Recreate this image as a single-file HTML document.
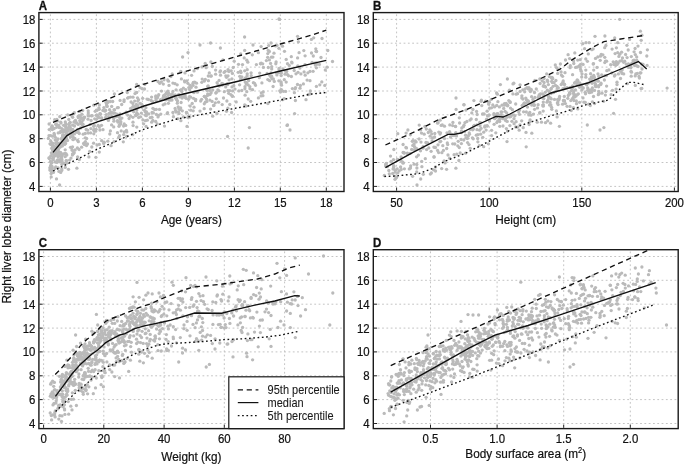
<!DOCTYPE html>
<html><head><meta charset="utf-8"><style>
html,body{margin:0;padding:0;background:#fff;}
body{width:685px;height:465px;overflow:hidden;font-family:"Liberation Sans",sans-serif;}
svg{display:block;will-change:transform;}
text{-webkit-font-smoothing:antialiased;}
</style></head><body>
<svg width="685" height="465" viewBox="0 0 685 465">
<rect width="685" height="465" fill="#fff"/>
<defs>
<clipPath id="cA"><rect x="38.9" y="12.6" width="305.1" height="178.9"/></clipPath>
<clipPath id="cB"><rect x="373.3" y="12.6" width="304.9" height="178.9"/></clipPath>
<clipPath id="cC"><rect x="38.9" y="249.7" width="305.1" height="178.9"/></clipPath>
<clipPath id="cD"><rect x="373.3" y="249.7" width="304.9" height="178.9"/></clipPath>
</defs>
<path d="M38.9 186.4 H344 M38.9 162.5 H344 M38.9 138.7 H344 M38.9 114.8 H344 M38.9 91 H344 M38.9 67.1 H344 M38.9 43.2 H344 M38.9 19.4 H344" stroke="#c4c4c4" stroke-width="1" stroke-dasharray="1.8 2.5" stroke-dashoffset="-0.2" fill="none"/>
<path d="M50.4 12.6 V191.5 M96.4 12.6 V191.5 M142.4 12.6 V191.5 M188.4 12.6 V191.5 M234.4 12.6 V191.5 M280.3 12.6 V191.5 M326.3 12.6 V191.5" stroke="#c4c4c4" stroke-width="1" stroke-dasharray="1.8 2.5" stroke-dashoffset="-1.75" fill="none"/>
<g fill="#bababa" clip-path="url(#cA)">
<circle cx="62" cy="159.9" r="1.65"/>
<circle cx="152" cy="117.3" r="1.65"/>
<circle cx="183.2" cy="94.8" r="1.65"/>
<circle cx="51.9" cy="126" r="1.65"/>
<circle cx="64" cy="131.3" r="1.65"/>
<circle cx="292" cy="62.9" r="1.65"/>
<circle cx="56.1" cy="124.2" r="1.65"/>
<circle cx="62.1" cy="156.1" r="1.65"/>
<circle cx="300.9" cy="73.9" r="1.65"/>
<circle cx="189.4" cy="96.6" r="1.65"/>
<circle cx="112.7" cy="101.5" r="1.65"/>
<circle cx="155.7" cy="121.5" r="1.65"/>
<circle cx="202" cy="66.9" r="1.65"/>
<circle cx="84.7" cy="117.1" r="1.65"/>
<circle cx="62.9" cy="135.2" r="1.65"/>
<circle cx="241.2" cy="79" r="1.65"/>
<circle cx="204.3" cy="96.3" r="1.65"/>
<circle cx="156" cy="100.3" r="1.65"/>
<circle cx="250.7" cy="101.3" r="1.65"/>
<circle cx="167.1" cy="92.2" r="1.65"/>
<circle cx="316.6" cy="64.4" r="1.65"/>
<circle cx="70.7" cy="129.4" r="1.65"/>
<circle cx="168.6" cy="93.2" r="1.65"/>
<circle cx="147.3" cy="120.2" r="1.65"/>
<circle cx="107.9" cy="102.4" r="1.65"/>
<circle cx="180.1" cy="109.6" r="1.65"/>
<circle cx="75.5" cy="120.5" r="1.65"/>
<circle cx="245.9" cy="106" r="1.65"/>
<circle cx="268.3" cy="67.5" r="1.65"/>
<circle cx="62" cy="154.2" r="1.65"/>
<circle cx="142.3" cy="105.8" r="1.65"/>
<circle cx="85.2" cy="137.8" r="1.65"/>
<circle cx="57.4" cy="162.1" r="1.65"/>
<circle cx="279" cy="69.9" r="1.65"/>
<circle cx="131.1" cy="102" r="1.65"/>
<circle cx="63.9" cy="163.2" r="1.65"/>
<circle cx="205.3" cy="102.2" r="1.65"/>
<circle cx="70.4" cy="137.1" r="1.65"/>
<circle cx="281.1" cy="82" r="1.65"/>
<circle cx="72.5" cy="146.8" r="1.65"/>
<circle cx="52.3" cy="136.2" r="1.65"/>
<circle cx="70.2" cy="122.3" r="1.65"/>
<circle cx="105.6" cy="110.2" r="1.65"/>
<circle cx="142.9" cy="119.9" r="1.65"/>
<circle cx="282.9" cy="68.8" r="1.65"/>
<circle cx="212.7" cy="90" r="1.65"/>
<circle cx="103.7" cy="143.4" r="1.65"/>
<circle cx="50.6" cy="135.6" r="1.65"/>
<circle cx="65.3" cy="136.4" r="1.65"/>
<circle cx="325.3" cy="70" r="1.65"/>
<circle cx="140.1" cy="87.7" r="1.65"/>
<circle cx="210.7" cy="76.2" r="1.65"/>
<circle cx="54.5" cy="134.9" r="1.65"/>
<circle cx="52.4" cy="129.6" r="1.65"/>
<circle cx="260.7" cy="63.8" r="1.65"/>
<circle cx="179" cy="113.5" r="1.65"/>
<circle cx="94.5" cy="129.4" r="1.65"/>
<circle cx="97.1" cy="110.3" r="1.65"/>
<circle cx="58" cy="156.8" r="1.65"/>
<circle cx="66.7" cy="135.3" r="1.65"/>
<circle cx="51.5" cy="144.7" r="1.65"/>
<circle cx="258.4" cy="52.7" r="1.65"/>
<circle cx="142.1" cy="88.7" r="1.65"/>
<circle cx="61.8" cy="128.6" r="1.65"/>
<circle cx="225.7" cy="86.9" r="1.65"/>
<circle cx="69.5" cy="123.2" r="1.65"/>
<circle cx="55.2" cy="140.1" r="1.65"/>
<circle cx="182.2" cy="96.5" r="1.65"/>
<circle cx="278.9" cy="48.3" r="1.65"/>
<circle cx="51.7" cy="142.9" r="1.65"/>
<circle cx="246.8" cy="91.7" r="1.65"/>
<circle cx="68.8" cy="119.4" r="1.65"/>
<circle cx="58.4" cy="149.4" r="1.65"/>
<circle cx="50.7" cy="141" r="1.65"/>
<circle cx="89.7" cy="151.5" r="1.65"/>
<circle cx="222" cy="85.2" r="1.65"/>
<circle cx="150.2" cy="117.7" r="1.65"/>
<circle cx="263.2" cy="92" r="1.65"/>
<circle cx="72.5" cy="134.8" r="1.65"/>
<circle cx="96.4" cy="119.3" r="1.65"/>
<circle cx="80.4" cy="115.9" r="1.65"/>
<circle cx="315.3" cy="65" r="1.65"/>
<circle cx="297.6" cy="57.9" r="1.65"/>
<circle cx="104.1" cy="142.2" r="1.65"/>
<circle cx="132.9" cy="107.2" r="1.65"/>
<circle cx="96.1" cy="129.3" r="1.65"/>
<circle cx="228" cy="75.8" r="1.65"/>
<circle cx="53" cy="148.8" r="1.65"/>
<circle cx="55.8" cy="166.8" r="1.65"/>
<circle cx="123.3" cy="141.8" r="1.65"/>
<circle cx="77.4" cy="148" r="1.65"/>
<circle cx="260.5" cy="63.6" r="1.65"/>
<circle cx="226.5" cy="77.3" r="1.65"/>
<circle cx="166.1" cy="93.5" r="1.65"/>
<circle cx="201.6" cy="99.3" r="1.65"/>
<circle cx="211.1" cy="92.7" r="1.65"/>
<circle cx="238.9" cy="90.9" r="1.65"/>
<circle cx="291.7" cy="62.1" r="1.65"/>
<circle cx="64.2" cy="141.7" r="1.65"/>
<circle cx="190.7" cy="110.2" r="1.65"/>
<circle cx="63.5" cy="154" r="1.65"/>
<circle cx="135.1" cy="107.2" r="1.65"/>
<circle cx="240.6" cy="79.4" r="1.65"/>
<circle cx="278.5" cy="72.7" r="1.65"/>
<circle cx="232" cy="86.9" r="1.65"/>
<circle cx="52.6" cy="150.1" r="1.65"/>
<circle cx="109.8" cy="134" r="1.65"/>
<circle cx="65.6" cy="143.4" r="1.65"/>
<circle cx="327.8" cy="50.5" r="1.65"/>
<circle cx="63.6" cy="132" r="1.65"/>
<circle cx="77.2" cy="132.3" r="1.65"/>
<circle cx="109.1" cy="113.3" r="1.65"/>
<circle cx="55.1" cy="148.8" r="1.65"/>
<circle cx="269.4" cy="59.9" r="1.65"/>
<circle cx="193.9" cy="92.5" r="1.65"/>
<circle cx="65.3" cy="167.4" r="1.65"/>
<circle cx="151.7" cy="122.2" r="1.65"/>
<circle cx="56.9" cy="124.8" r="1.65"/>
<circle cx="186.1" cy="98.3" r="1.65"/>
<circle cx="74.8" cy="121.2" r="1.65"/>
<circle cx="52.9" cy="149.7" r="1.65"/>
<circle cx="60.6" cy="131.9" r="1.65"/>
<circle cx="169" cy="100.1" r="1.65"/>
<circle cx="194" cy="107.2" r="1.65"/>
<circle cx="99.3" cy="144.4" r="1.65"/>
<circle cx="196" cy="87.2" r="1.65"/>
<circle cx="107.6" cy="101.4" r="1.65"/>
<circle cx="62.2" cy="142.3" r="1.65"/>
<circle cx="96.4" cy="110.2" r="1.65"/>
<circle cx="120.6" cy="122.7" r="1.65"/>
<circle cx="285.6" cy="91.4" r="1.65"/>
<circle cx="60.7" cy="122.1" r="1.65"/>
<circle cx="57.7" cy="120.9" r="1.65"/>
<circle cx="170.9" cy="76.6" r="1.65"/>
<circle cx="307.9" cy="72.8" r="1.65"/>
<circle cx="283.4" cy="91.3" r="1.65"/>
<circle cx="213.6" cy="105.5" r="1.65"/>
<circle cx="55.7" cy="152" r="1.65"/>
<circle cx="247.2" cy="69.7" r="1.65"/>
<circle cx="208.4" cy="80.7" r="1.65"/>
<circle cx="63.5" cy="163.1" r="1.65"/>
<circle cx="141.7" cy="104.2" r="1.65"/>
<circle cx="54" cy="150.9" r="1.65"/>
<circle cx="245.7" cy="78" r="1.65"/>
<circle cx="219.3" cy="86" r="1.65"/>
<circle cx="246.7" cy="82.6" r="1.65"/>
<circle cx="232.4" cy="73.4" r="1.65"/>
<circle cx="82.7" cy="125.9" r="1.65"/>
<circle cx="241.8" cy="76.8" r="1.65"/>
<circle cx="78.3" cy="141.7" r="1.65"/>
<circle cx="62.9" cy="135" r="1.65"/>
<circle cx="119.1" cy="116.8" r="1.65"/>
<circle cx="151.6" cy="97.1" r="1.65"/>
<circle cx="87.6" cy="130.2" r="1.65"/>
<circle cx="184.5" cy="81" r="1.65"/>
<circle cx="183.5" cy="96.4" r="1.65"/>
<circle cx="76.3" cy="131.8" r="1.65"/>
<circle cx="189.6" cy="89.6" r="1.65"/>
<circle cx="109.1" cy="118.3" r="1.65"/>
<circle cx="224.3" cy="91.7" r="1.65"/>
<circle cx="88.9" cy="156.9" r="1.65"/>
<circle cx="244.7" cy="50.4" r="1.65"/>
<circle cx="126.6" cy="136.3" r="1.65"/>
<circle cx="168.4" cy="103.3" r="1.65"/>
<circle cx="205.3" cy="79.4" r="1.65"/>
<circle cx="157.8" cy="96.6" r="1.65"/>
<circle cx="80.3" cy="122" r="1.65"/>
<circle cx="315.8" cy="48.8" r="1.65"/>
<circle cx="58.7" cy="125.4" r="1.65"/>
<circle cx="99.4" cy="117.7" r="1.65"/>
<circle cx="167.2" cy="113.5" r="1.65"/>
<circle cx="51.9" cy="148.1" r="1.65"/>
<circle cx="64.7" cy="144.4" r="1.65"/>
<circle cx="244.9" cy="88.8" r="1.65"/>
<circle cx="239.8" cy="76.3" r="1.65"/>
<circle cx="194" cy="70.9" r="1.65"/>
<circle cx="281.2" cy="83.7" r="1.65"/>
<circle cx="230.8" cy="94.6" r="1.65"/>
<circle cx="91.5" cy="115.8" r="1.65"/>
<circle cx="196.5" cy="83.2" r="1.65"/>
<circle cx="103.9" cy="107.6" r="1.65"/>
<circle cx="229.1" cy="79.8" r="1.65"/>
<circle cx="117.4" cy="120.6" r="1.65"/>
<circle cx="64.5" cy="135.7" r="1.65"/>
<circle cx="271.6" cy="76.2" r="1.65"/>
<circle cx="210.6" cy="109.1" r="1.65"/>
<circle cx="227.4" cy="83.6" r="1.65"/>
<circle cx="170.3" cy="100.2" r="1.65"/>
<circle cx="239.6" cy="84.8" r="1.65"/>
<circle cx="136.5" cy="115.1" r="1.65"/>
<circle cx="172.2" cy="74" r="1.65"/>
<circle cx="55.3" cy="137.3" r="1.65"/>
<circle cx="169" cy="85.4" r="1.65"/>
<circle cx="250" cy="88.7" r="1.65"/>
<circle cx="215.3" cy="102.8" r="1.65"/>
<circle cx="246.2" cy="84.1" r="1.65"/>
<circle cx="151.1" cy="100.5" r="1.65"/>
<circle cx="273.4" cy="78.9" r="1.65"/>
<circle cx="59.9" cy="146.9" r="1.65"/>
<circle cx="271.4" cy="57.2" r="1.65"/>
<circle cx="113.4" cy="113" r="1.65"/>
<circle cx="58.2" cy="159.9" r="1.65"/>
<circle cx="188.6" cy="99.3" r="1.65"/>
<circle cx="138.6" cy="117.6" r="1.65"/>
<circle cx="130.6" cy="108.4" r="1.65"/>
<circle cx="262.9" cy="95.7" r="1.65"/>
<circle cx="62.9" cy="143.4" r="1.65"/>
<circle cx="187.9" cy="83.3" r="1.65"/>
<circle cx="126.2" cy="112.1" r="1.65"/>
<circle cx="160.8" cy="114.1" r="1.65"/>
<circle cx="152.1" cy="112.5" r="1.65"/>
<circle cx="62.5" cy="139.2" r="1.65"/>
<circle cx="155.9" cy="95.8" r="1.65"/>
<circle cx="266.4" cy="60.6" r="1.65"/>
<circle cx="66.6" cy="138.7" r="1.65"/>
<circle cx="49.9" cy="167.7" r="1.65"/>
<circle cx="55.8" cy="124.2" r="1.65"/>
<circle cx="140.1" cy="103.3" r="1.65"/>
<circle cx="313.3" cy="56" r="1.65"/>
<circle cx="53.5" cy="146.2" r="1.65"/>
<circle cx="321.8" cy="81.9" r="1.65"/>
<circle cx="163.2" cy="104.8" r="1.65"/>
<circle cx="61.1" cy="138.9" r="1.65"/>
<circle cx="127.6" cy="98.1" r="1.65"/>
<circle cx="71.1" cy="132.5" r="1.65"/>
<circle cx="217.9" cy="89.8" r="1.65"/>
<circle cx="164.8" cy="94.8" r="1.65"/>
<circle cx="88.2" cy="110.8" r="1.65"/>
<circle cx="79.8" cy="120.6" r="1.65"/>
<circle cx="268.2" cy="50.4" r="1.65"/>
<circle cx="234.2" cy="61.2" r="1.65"/>
<circle cx="133" cy="97.2" r="1.65"/>
<circle cx="123.7" cy="134.6" r="1.65"/>
<circle cx="225.2" cy="71.3" r="1.65"/>
<circle cx="311.5" cy="53" r="1.65"/>
<circle cx="57" cy="154.6" r="1.65"/>
<circle cx="65.2" cy="130.2" r="1.65"/>
<circle cx="110.7" cy="112.5" r="1.65"/>
<circle cx="154.6" cy="109.5" r="1.65"/>
<circle cx="56.2" cy="150.2" r="1.65"/>
<circle cx="54.4" cy="153.9" r="1.65"/>
<circle cx="72.8" cy="129.5" r="1.65"/>
<circle cx="117.8" cy="122" r="1.65"/>
<circle cx="225.8" cy="75.8" r="1.65"/>
<circle cx="185.7" cy="97.7" r="1.65"/>
<circle cx="52" cy="172" r="1.65"/>
<circle cx="53.5" cy="157.5" r="1.65"/>
<circle cx="137.8" cy="101.1" r="1.65"/>
<circle cx="271" cy="72.9" r="1.65"/>
<circle cx="286.5" cy="71.6" r="1.65"/>
<circle cx="111.5" cy="116.5" r="1.65"/>
<circle cx="275.7" cy="45.9" r="1.65"/>
<circle cx="292.4" cy="88.6" r="1.65"/>
<circle cx="124" cy="101.5" r="1.65"/>
<circle cx="227.9" cy="108.2" r="1.65"/>
<circle cx="111.6" cy="124.9" r="1.65"/>
<circle cx="64.6" cy="136.4" r="1.65"/>
<circle cx="175.1" cy="108.4" r="1.65"/>
<circle cx="57.7" cy="143.4" r="1.65"/>
<circle cx="202.2" cy="79.1" r="1.65"/>
<circle cx="248.2" cy="99" r="1.65"/>
<circle cx="286.7" cy="70.9" r="1.65"/>
<circle cx="136.5" cy="114.3" r="1.65"/>
<circle cx="60.8" cy="145.8" r="1.65"/>
<circle cx="281.5" cy="85.2" r="1.65"/>
<circle cx="269.4" cy="51.5" r="1.65"/>
<circle cx="310" cy="80.7" r="1.65"/>
<circle cx="180.8" cy="71.3" r="1.65"/>
<circle cx="205.3" cy="97.2" r="1.65"/>
<circle cx="114" cy="109.8" r="1.65"/>
<circle cx="68" cy="129.6" r="1.65"/>
<circle cx="89.3" cy="115.8" r="1.65"/>
<circle cx="219.9" cy="71.9" r="1.65"/>
<circle cx="99.4" cy="104.9" r="1.65"/>
<circle cx="210.9" cy="62" r="1.65"/>
<circle cx="152.9" cy="108.3" r="1.65"/>
<circle cx="136.8" cy="127.1" r="1.65"/>
<circle cx="310" cy="71.4" r="1.65"/>
<circle cx="66" cy="127.3" r="1.65"/>
<circle cx="148.4" cy="99.5" r="1.65"/>
<circle cx="65.2" cy="136.2" r="1.65"/>
<circle cx="296" cy="73.8" r="1.65"/>
<circle cx="148.8" cy="113.9" r="1.65"/>
<circle cx="101.5" cy="125.3" r="1.65"/>
<circle cx="66.2" cy="131.7" r="1.65"/>
<circle cx="180.9" cy="120.7" r="1.65"/>
<circle cx="121.7" cy="104.5" r="1.65"/>
<circle cx="61.8" cy="164.5" r="1.65"/>
<circle cx="52.3" cy="154.2" r="1.65"/>
<circle cx="119.4" cy="124.7" r="1.65"/>
<circle cx="177.5" cy="100.8" r="1.65"/>
<circle cx="158" cy="116.9" r="1.65"/>
<circle cx="280.5" cy="91.9" r="1.65"/>
<circle cx="285.1" cy="74.2" r="1.65"/>
<circle cx="295.5" cy="87.6" r="1.65"/>
<circle cx="245" cy="86.7" r="1.65"/>
<circle cx="145.5" cy="115.2" r="1.65"/>
<circle cx="159.5" cy="109.4" r="1.65"/>
<circle cx="121.2" cy="130.9" r="1.65"/>
<circle cx="121.9" cy="118.1" r="1.65"/>
<circle cx="53.2" cy="146.5" r="1.65"/>
<circle cx="244.7" cy="105" r="1.65"/>
<circle cx="77.6" cy="129.3" r="1.65"/>
<circle cx="52" cy="166.5" r="1.65"/>
<circle cx="142.1" cy="107.3" r="1.65"/>
<circle cx="219.1" cy="80.4" r="1.65"/>
<circle cx="132.9" cy="103.5" r="1.65"/>
<circle cx="111.2" cy="112.2" r="1.65"/>
<circle cx="200.7" cy="101" r="1.65"/>
<circle cx="65.6" cy="126.2" r="1.65"/>
<circle cx="49.9" cy="157.7" r="1.65"/>
<circle cx="180.4" cy="90.1" r="1.65"/>
<circle cx="161.5" cy="91.1" r="1.65"/>
<circle cx="267.8" cy="79.6" r="1.65"/>
<circle cx="126.8" cy="131.9" r="1.65"/>
<circle cx="240.6" cy="71.1" r="1.65"/>
<circle cx="50.7" cy="165.5" r="1.65"/>
<circle cx="51.8" cy="162.9" r="1.65"/>
<circle cx="182.3" cy="110.8" r="1.65"/>
<circle cx="73.9" cy="122.1" r="1.65"/>
<circle cx="55.8" cy="151.3" r="1.65"/>
<circle cx="61.9" cy="131.2" r="1.65"/>
<circle cx="114.4" cy="93.9" r="1.65"/>
<circle cx="103" cy="129.7" r="1.65"/>
<circle cx="171.6" cy="96.3" r="1.65"/>
<circle cx="275.8" cy="63.8" r="1.65"/>
<circle cx="111.7" cy="106.4" r="1.65"/>
<circle cx="68.1" cy="134.7" r="1.65"/>
<circle cx="176" cy="112" r="1.65"/>
<circle cx="48.3" cy="138.4" r="1.65"/>
<circle cx="117.4" cy="107.7" r="1.65"/>
<circle cx="97" cy="145" r="1.65"/>
<circle cx="118.2" cy="121.1" r="1.65"/>
<circle cx="54.1" cy="146.3" r="1.65"/>
<circle cx="168.7" cy="98.5" r="1.65"/>
<circle cx="190.1" cy="85.3" r="1.65"/>
<circle cx="228.9" cy="71.3" r="1.65"/>
<circle cx="305.1" cy="55.8" r="1.65"/>
<circle cx="108.4" cy="120.4" r="1.65"/>
<circle cx="200" cy="111.1" r="1.65"/>
<circle cx="134.7" cy="101.1" r="1.65"/>
<circle cx="72.2" cy="116.6" r="1.65"/>
<circle cx="276.4" cy="72.8" r="1.65"/>
<circle cx="227.8" cy="84.5" r="1.65"/>
<circle cx="298.4" cy="41.8" r="1.65"/>
<circle cx="252.3" cy="54.8" r="1.65"/>
<circle cx="287.5" cy="63.7" r="1.65"/>
<circle cx="61.9" cy="131.6" r="1.65"/>
<circle cx="50.4" cy="161.4" r="1.65"/>
<circle cx="69.9" cy="127.2" r="1.65"/>
<circle cx="125.7" cy="125.4" r="1.65"/>
<circle cx="209.7" cy="90.4" r="1.65"/>
<circle cx="133.7" cy="111.8" r="1.65"/>
<circle cx="156.3" cy="109.3" r="1.65"/>
<circle cx="232.5" cy="96.3" r="1.65"/>
<circle cx="56.1" cy="143.2" r="1.65"/>
<circle cx="206.8" cy="89.7" r="1.65"/>
<circle cx="53.9" cy="156.2" r="1.65"/>
<circle cx="78.2" cy="124.4" r="1.65"/>
<circle cx="220.5" cy="75.2" r="1.65"/>
<circle cx="208.3" cy="76" r="1.65"/>
<circle cx="123.6" cy="126" r="1.65"/>
<circle cx="90.2" cy="124.4" r="1.65"/>
<circle cx="254.6" cy="83.3" r="1.65"/>
<circle cx="84.6" cy="142.8" r="1.65"/>
<circle cx="52.2" cy="170" r="1.65"/>
<circle cx="77.9" cy="131.2" r="1.65"/>
<circle cx="51.1" cy="162.7" r="1.65"/>
<circle cx="248.7" cy="80.6" r="1.65"/>
<circle cx="61.3" cy="146.1" r="1.65"/>
<circle cx="313.1" cy="71.3" r="1.65"/>
<circle cx="71.9" cy="150.1" r="1.65"/>
<circle cx="93.7" cy="126.3" r="1.65"/>
<circle cx="178.2" cy="106.8" r="1.65"/>
<circle cx="94.3" cy="125.4" r="1.65"/>
<circle cx="115.8" cy="116.8" r="1.65"/>
<circle cx="59.5" cy="127.7" r="1.65"/>
<circle cx="118.7" cy="137.4" r="1.65"/>
<circle cx="51.5" cy="152.8" r="1.65"/>
<circle cx="73.5" cy="113.6" r="1.65"/>
<circle cx="284.3" cy="79.7" r="1.65"/>
<circle cx="86.2" cy="129.5" r="1.65"/>
<circle cx="83.6" cy="143.4" r="1.65"/>
<circle cx="207.1" cy="90.4" r="1.65"/>
<circle cx="274" cy="53.2" r="1.65"/>
<circle cx="90.6" cy="132.9" r="1.65"/>
<circle cx="114.9" cy="113.1" r="1.65"/>
<circle cx="218.1" cy="85" r="1.65"/>
<circle cx="242.5" cy="64.6" r="1.65"/>
<circle cx="186.9" cy="80.8" r="1.65"/>
<circle cx="67.5" cy="140.5" r="1.65"/>
<circle cx="67.7" cy="130.6" r="1.65"/>
<circle cx="231.6" cy="112.5" r="1.65"/>
<circle cx="215.6" cy="70.1" r="1.65"/>
<circle cx="279.1" cy="68.5" r="1.65"/>
<circle cx="238.5" cy="64.3" r="1.65"/>
<circle cx="128.4" cy="97.6" r="1.65"/>
<circle cx="62.4" cy="145.9" r="1.65"/>
<circle cx="276.9" cy="74.9" r="1.65"/>
<circle cx="212.1" cy="101.4" r="1.65"/>
<circle cx="175.5" cy="98.1" r="1.65"/>
<circle cx="207.9" cy="86.3" r="1.65"/>
<circle cx="117.5" cy="132.7" r="1.65"/>
<circle cx="104.9" cy="111.2" r="1.65"/>
<circle cx="175.2" cy="94.9" r="1.65"/>
<circle cx="147" cy="99.1" r="1.65"/>
<circle cx="216.3" cy="98.8" r="1.65"/>
<circle cx="295.4" cy="100.5" r="1.65"/>
<circle cx="261.2" cy="63.2" r="1.65"/>
<circle cx="118.3" cy="107.6" r="1.65"/>
<circle cx="113.7" cy="118.7" r="1.65"/>
<circle cx="291.4" cy="76.5" r="1.65"/>
<circle cx="120.4" cy="119.1" r="1.65"/>
<circle cx="245.2" cy="82.1" r="1.65"/>
<circle cx="58.4" cy="153.3" r="1.65"/>
<circle cx="137.5" cy="97.8" r="1.65"/>
<circle cx="157.2" cy="123.9" r="1.65"/>
<circle cx="248.1" cy="84.8" r="1.65"/>
<circle cx="272.1" cy="78.8" r="1.65"/>
<circle cx="64.5" cy="135.4" r="1.65"/>
<circle cx="188" cy="117.5" r="1.65"/>
<circle cx="191.6" cy="75.3" r="1.65"/>
<circle cx="64.4" cy="130.3" r="1.65"/>
<circle cx="256.4" cy="64.6" r="1.65"/>
<circle cx="168.5" cy="81.2" r="1.65"/>
<circle cx="307.1" cy="80.1" r="1.65"/>
<circle cx="68.3" cy="131" r="1.65"/>
<circle cx="159.8" cy="83.3" r="1.65"/>
<circle cx="98.9" cy="108" r="1.65"/>
<circle cx="195.7" cy="99.5" r="1.65"/>
<circle cx="185.2" cy="95.1" r="1.65"/>
<circle cx="156" cy="98.6" r="1.65"/>
<circle cx="99.3" cy="152.1" r="1.65"/>
<circle cx="153.4" cy="112.9" r="1.65"/>
<circle cx="113.7" cy="126.9" r="1.65"/>
<circle cx="277" cy="45.4" r="1.65"/>
<circle cx="140.6" cy="116.8" r="1.65"/>
<circle cx="144.8" cy="84.3" r="1.65"/>
<circle cx="80.5" cy="128" r="1.65"/>
<circle cx="79.4" cy="159.6" r="1.65"/>
<circle cx="303.4" cy="83.9" r="1.65"/>
<circle cx="96.1" cy="115.3" r="1.65"/>
<circle cx="268.7" cy="45.6" r="1.65"/>
<circle cx="181.1" cy="102.5" r="1.65"/>
<circle cx="316.4" cy="86.4" r="1.65"/>
<circle cx="65.7" cy="124" r="1.65"/>
<circle cx="297.8" cy="65.8" r="1.65"/>
<circle cx="236.2" cy="101.9" r="1.65"/>
<circle cx="172.9" cy="112.5" r="1.65"/>
<circle cx="216.3" cy="92.6" r="1.65"/>
<circle cx="220.5" cy="70.8" r="1.65"/>
<circle cx="136.7" cy="112.9" r="1.65"/>
<circle cx="193.3" cy="82.5" r="1.65"/>
<circle cx="74.3" cy="112.7" r="1.65"/>
<circle cx="51.1" cy="128.6" r="1.65"/>
<circle cx="206.2" cy="67.7" r="1.65"/>
<circle cx="144.5" cy="89" r="1.65"/>
<circle cx="282.7" cy="99.7" r="1.65"/>
<circle cx="81.9" cy="114.2" r="1.65"/>
<circle cx="251.1" cy="72.8" r="1.65"/>
<circle cx="319.4" cy="64.4" r="1.65"/>
<circle cx="279.8" cy="90.8" r="1.65"/>
<circle cx="308.4" cy="94.5" r="1.65"/>
<circle cx="65.2" cy="156.7" r="1.65"/>
<circle cx="65.9" cy="137.3" r="1.65"/>
<circle cx="74.2" cy="152.8" r="1.65"/>
<circle cx="110.4" cy="130.9" r="1.65"/>
<circle cx="60.6" cy="152.5" r="1.65"/>
<circle cx="64.3" cy="130" r="1.65"/>
<circle cx="50.8" cy="155.8" r="1.65"/>
<circle cx="294.2" cy="70.5" r="1.65"/>
<circle cx="110.3" cy="101.5" r="1.65"/>
<circle cx="190.7" cy="97.2" r="1.65"/>
<circle cx="138.5" cy="99.7" r="1.65"/>
<circle cx="226.9" cy="101" r="1.65"/>
<circle cx="247.2" cy="73.8" r="1.65"/>
<circle cx="116.9" cy="114.1" r="1.65"/>
<circle cx="163" cy="97.9" r="1.65"/>
<circle cx="58.8" cy="152" r="1.65"/>
<circle cx="87.5" cy="143.9" r="1.65"/>
<circle cx="73.3" cy="137.3" r="1.65"/>
<circle cx="94.4" cy="131.1" r="1.65"/>
<circle cx="99.2" cy="109.3" r="1.65"/>
<circle cx="175" cy="83.7" r="1.65"/>
<circle cx="101.7" cy="140.7" r="1.65"/>
<circle cx="99.9" cy="113.7" r="1.65"/>
<circle cx="255.6" cy="85.3" r="1.65"/>
<circle cx="50" cy="143.8" r="1.65"/>
<circle cx="48.9" cy="158" r="1.65"/>
<circle cx="54.8" cy="168.5" r="1.65"/>
<circle cx="267.7" cy="57.3" r="1.65"/>
<circle cx="193.1" cy="85.4" r="1.65"/>
<circle cx="222.2" cy="104.6" r="1.65"/>
<circle cx="305.2" cy="75.2" r="1.65"/>
<circle cx="72.6" cy="153.8" r="1.65"/>
<circle cx="288.6" cy="75.8" r="1.65"/>
<circle cx="76.9" cy="122.9" r="1.65"/>
<circle cx="158" cy="81.5" r="1.65"/>
<circle cx="207.7" cy="93.9" r="1.65"/>
<circle cx="244.2" cy="57.9" r="1.65"/>
<circle cx="78.1" cy="116.4" r="1.65"/>
<circle cx="145.3" cy="111.9" r="1.65"/>
<circle cx="53.6" cy="171.5" r="1.65"/>
<circle cx="88.2" cy="115.7" r="1.65"/>
<circle cx="316.6" cy="51.5" r="1.65"/>
<circle cx="282.5" cy="46.2" r="1.65"/>
<circle cx="177.2" cy="84.8" r="1.65"/>
<circle cx="240.7" cy="53.9" r="1.65"/>
<circle cx="281.4" cy="89.7" r="1.65"/>
<circle cx="101.4" cy="118.2" r="1.65"/>
<circle cx="316.4" cy="67.8" r="1.65"/>
<circle cx="136.7" cy="84.5" r="1.65"/>
<circle cx="65.2" cy="130.5" r="1.65"/>
<circle cx="161.4" cy="81.8" r="1.65"/>
<circle cx="180.7" cy="108" r="1.65"/>
<circle cx="211.3" cy="75.9" r="1.65"/>
<circle cx="204.5" cy="96.4" r="1.65"/>
<circle cx="53.2" cy="147.4" r="1.65"/>
<circle cx="194.7" cy="82.2" r="1.65"/>
<circle cx="289.2" cy="65.4" r="1.65"/>
<circle cx="204.3" cy="103.8" r="1.65"/>
<circle cx="313.7" cy="37.8" r="1.65"/>
<circle cx="155.7" cy="96.8" r="1.65"/>
<circle cx="248.5" cy="78.8" r="1.65"/>
<circle cx="63.2" cy="130.2" r="1.65"/>
<circle cx="278.8" cy="80.8" r="1.65"/>
<circle cx="133" cy="106.7" r="1.65"/>
<circle cx="271.7" cy="66.7" r="1.65"/>
<circle cx="98.1" cy="117.4" r="1.65"/>
<circle cx="190.2" cy="106" r="1.65"/>
<circle cx="261" cy="95.9" r="1.65"/>
<circle cx="217.1" cy="82.7" r="1.65"/>
<circle cx="188.8" cy="87.6" r="1.65"/>
<circle cx="311.4" cy="39.4" r="1.65"/>
<circle cx="57.9" cy="138.8" r="1.65"/>
<circle cx="59.3" cy="160.3" r="1.65"/>
<circle cx="167.9" cy="91.1" r="1.65"/>
<circle cx="303.8" cy="50.6" r="1.65"/>
<circle cx="209.3" cy="72.9" r="1.65"/>
<circle cx="94.7" cy="118.8" r="1.65"/>
<circle cx="59.9" cy="161.8" r="1.65"/>
<circle cx="136.6" cy="92.4" r="1.65"/>
<circle cx="146.3" cy="115.7" r="1.65"/>
<circle cx="142.7" cy="98.3" r="1.65"/>
<circle cx="188.6" cy="116.2" r="1.65"/>
<circle cx="84.1" cy="118.1" r="1.65"/>
<circle cx="273.1" cy="86.5" r="1.65"/>
<circle cx="88.3" cy="112.9" r="1.65"/>
<circle cx="59.8" cy="116.7" r="1.65"/>
<circle cx="106.6" cy="104.7" r="1.65"/>
<circle cx="295.2" cy="88.8" r="1.65"/>
<circle cx="65.2" cy="153.5" r="1.65"/>
<circle cx="85.4" cy="141.7" r="1.65"/>
<circle cx="291.3" cy="56.7" r="1.65"/>
<circle cx="106.3" cy="114.6" r="1.65"/>
<circle cx="259.7" cy="73.1" r="1.65"/>
<circle cx="53.6" cy="145.7" r="1.65"/>
<circle cx="276.1" cy="62" r="1.65"/>
<circle cx="75.8" cy="122.9" r="1.65"/>
<circle cx="67.7" cy="114.9" r="1.65"/>
<circle cx="226.7" cy="84.6" r="1.65"/>
<circle cx="321" cy="57.5" r="1.65"/>
<circle cx="306" cy="99.7" r="1.65"/>
<circle cx="229.8" cy="104.5" r="1.65"/>
<circle cx="286.2" cy="82.1" r="1.65"/>
<circle cx="319.8" cy="84.8" r="1.65"/>
<circle cx="168.3" cy="95.3" r="1.65"/>
<circle cx="63.6" cy="125.3" r="1.65"/>
<circle cx="261.9" cy="82.9" r="1.65"/>
<circle cx="120.8" cy="121.7" r="1.65"/>
<circle cx="95.6" cy="131.2" r="1.65"/>
<circle cx="152.5" cy="101.5" r="1.65"/>
<circle cx="52.5" cy="158.6" r="1.65"/>
<circle cx="50.8" cy="144.3" r="1.65"/>
<circle cx="81.9" cy="124.2" r="1.65"/>
<circle cx="181.4" cy="89.7" r="1.65"/>
<circle cx="228.9" cy="71.6" r="1.65"/>
<circle cx="305" cy="64.6" r="1.65"/>
<circle cx="251.2" cy="75.7" r="1.65"/>
<circle cx="297.6" cy="36.3" r="1.65"/>
<circle cx="193.9" cy="92.3" r="1.65"/>
<circle cx="224.1" cy="72.4" r="1.65"/>
<circle cx="178.8" cy="94.3" r="1.65"/>
<circle cx="57.2" cy="153.5" r="1.65"/>
<circle cx="55.2" cy="155.5" r="1.65"/>
<circle cx="232.3" cy="96" r="1.65"/>
<circle cx="70.4" cy="133.4" r="1.65"/>
<circle cx="241.8" cy="90.5" r="1.65"/>
<circle cx="141.4" cy="113.1" r="1.65"/>
<circle cx="49.2" cy="129.6" r="1.65"/>
<circle cx="170.9" cy="99.4" r="1.65"/>
<circle cx="135" cy="93.6" r="1.65"/>
<circle cx="56.5" cy="143.7" r="1.65"/>
<circle cx="81.1" cy="118.4" r="1.65"/>
<circle cx="93.8" cy="133.8" r="1.65"/>
<circle cx="105.6" cy="117.5" r="1.65"/>
<circle cx="215.6" cy="74.2" r="1.65"/>
<circle cx="66.1" cy="124.2" r="1.65"/>
<circle cx="135.1" cy="106.1" r="1.65"/>
<circle cx="184.8" cy="81.9" r="1.65"/>
<circle cx="300" cy="88.2" r="1.65"/>
<circle cx="60.6" cy="156.1" r="1.65"/>
<circle cx="57" cy="140.5" r="1.65"/>
<circle cx="69" cy="124.8" r="1.65"/>
<circle cx="73" cy="139.6" r="1.65"/>
<circle cx="65.6" cy="140.6" r="1.65"/>
<circle cx="56.7" cy="152.9" r="1.65"/>
<circle cx="71.4" cy="136.5" r="1.65"/>
<circle cx="73.4" cy="153.8" r="1.65"/>
<circle cx="146.1" cy="126.4" r="1.65"/>
<circle cx="197.4" cy="92.2" r="1.65"/>
<circle cx="111.1" cy="145.7" r="1.65"/>
<circle cx="66.2" cy="153.9" r="1.65"/>
<circle cx="58.5" cy="155.2" r="1.65"/>
<circle cx="81.6" cy="147.2" r="1.65"/>
<circle cx="66.5" cy="133.4" r="1.65"/>
<circle cx="146.5" cy="112" r="1.65"/>
<circle cx="269.7" cy="75.3" r="1.65"/>
<circle cx="218.6" cy="102.2" r="1.65"/>
<circle cx="70.5" cy="147.3" r="1.65"/>
<circle cx="52.6" cy="143.2" r="1.65"/>
<circle cx="55.8" cy="143.1" r="1.65"/>
<circle cx="132.9" cy="117.3" r="1.65"/>
<circle cx="111" cy="113.3" r="1.65"/>
<circle cx="208.1" cy="85.9" r="1.65"/>
<circle cx="57.5" cy="144.8" r="1.65"/>
<circle cx="79.6" cy="111.4" r="1.65"/>
<circle cx="209.1" cy="94.7" r="1.65"/>
<circle cx="172.9" cy="91.4" r="1.65"/>
<circle cx="157.3" cy="96.6" r="1.65"/>
<circle cx="281.2" cy="75.6" r="1.65"/>
<circle cx="60.4" cy="161.3" r="1.65"/>
<circle cx="69.5" cy="126.4" r="1.65"/>
<circle cx="172.2" cy="93.9" r="1.65"/>
<circle cx="172.1" cy="96.8" r="1.65"/>
<circle cx="316.2" cy="62.9" r="1.65"/>
<circle cx="314.8" cy="63.2" r="1.65"/>
<circle cx="178.8" cy="108.8" r="1.65"/>
<circle cx="231.9" cy="78.8" r="1.65"/>
<circle cx="212.7" cy="116.2" r="1.65"/>
<circle cx="62.4" cy="142.2" r="1.65"/>
<circle cx="183.4" cy="116.9" r="1.65"/>
<circle cx="93.6" cy="130.1" r="1.65"/>
<circle cx="109.6" cy="109.7" r="1.65"/>
<circle cx="64.9" cy="143.3" r="1.65"/>
<circle cx="49.4" cy="158.5" r="1.65"/>
<circle cx="263.4" cy="67.4" r="1.65"/>
<circle cx="218.8" cy="90.8" r="1.65"/>
<circle cx="229.8" cy="90.6" r="1.65"/>
<circle cx="88.2" cy="133.1" r="1.65"/>
<circle cx="127.3" cy="92.5" r="1.65"/>
<circle cx="67.1" cy="128.2" r="1.65"/>
<circle cx="183.4" cy="88.1" r="1.65"/>
<circle cx="258.4" cy="97.9" r="1.65"/>
<circle cx="238.2" cy="72.3" r="1.65"/>
<circle cx="294.4" cy="92.7" r="1.65"/>
<circle cx="81" cy="123.3" r="1.65"/>
<circle cx="213.9" cy="105.4" r="1.65"/>
<circle cx="61.8" cy="168.9" r="1.65"/>
<circle cx="163.3" cy="84.1" r="1.65"/>
<circle cx="60.1" cy="132.5" r="1.65"/>
<circle cx="164.5" cy="126.1" r="1.65"/>
<circle cx="165" cy="103.9" r="1.65"/>
<circle cx="106" cy="102.6" r="1.65"/>
<circle cx="106.8" cy="105.9" r="1.65"/>
<circle cx="217" cy="113.5" r="1.65"/>
<circle cx="146.5" cy="113.7" r="1.65"/>
<circle cx="124.3" cy="132" r="1.65"/>
<circle cx="60.4" cy="159.7" r="1.65"/>
<circle cx="86.6" cy="138.5" r="1.65"/>
<circle cx="261.1" cy="46.6" r="1.65"/>
<circle cx="312.1" cy="62.3" r="1.65"/>
<circle cx="113.9" cy="121.2" r="1.65"/>
<circle cx="269.6" cy="80.7" r="1.65"/>
<circle cx="270.6" cy="63.4" r="1.65"/>
<circle cx="72.6" cy="125.1" r="1.65"/>
<circle cx="84.3" cy="144.5" r="1.65"/>
<circle cx="212.3" cy="66.5" r="1.65"/>
<circle cx="93.6" cy="143.2" r="1.65"/>
<circle cx="304.1" cy="71.9" r="1.65"/>
<circle cx="111.5" cy="112.6" r="1.65"/>
<circle cx="222.9" cy="59.8" r="1.65"/>
<circle cx="215.8" cy="93" r="1.65"/>
<circle cx="72" cy="130.1" r="1.65"/>
<circle cx="267.8" cy="53.6" r="1.65"/>
<circle cx="100.5" cy="114.3" r="1.65"/>
<circle cx="60.1" cy="127.6" r="1.65"/>
<circle cx="54.1" cy="133.4" r="1.65"/>
<circle cx="137.7" cy="105.6" r="1.65"/>
<circle cx="192.8" cy="83.8" r="1.65"/>
<circle cx="83.7" cy="117.5" r="1.65"/>
<circle cx="259.3" cy="77.7" r="1.65"/>
<circle cx="82.7" cy="110.4" r="1.65"/>
<circle cx="261.3" cy="92.8" r="1.65"/>
<circle cx="52.3" cy="126.5" r="1.65"/>
<circle cx="81.5" cy="123.7" r="1.65"/>
<circle cx="65.2" cy="149.8" r="1.65"/>
<circle cx="136.4" cy="104.4" r="1.65"/>
<circle cx="107.2" cy="106.4" r="1.65"/>
<circle cx="120.5" cy="124.2" r="1.65"/>
<circle cx="262.7" cy="63.8" r="1.65"/>
<circle cx="176.4" cy="98.4" r="1.65"/>
<circle cx="184.4" cy="96.5" r="1.65"/>
<circle cx="119" cy="117" r="1.65"/>
<circle cx="247.8" cy="62.2" r="1.65"/>
<circle cx="152.8" cy="120.5" r="1.65"/>
<circle cx="227.9" cy="90.7" r="1.65"/>
<circle cx="286.2" cy="59.4" r="1.65"/>
<circle cx="186.4" cy="112.5" r="1.65"/>
<circle cx="132.7" cy="134.7" r="1.65"/>
<circle cx="81.8" cy="122.1" r="1.65"/>
<circle cx="285.3" cy="71" r="1.65"/>
<circle cx="233.8" cy="85.7" r="1.65"/>
<circle cx="245" cy="78.3" r="1.65"/>
<circle cx="73.1" cy="150.8" r="1.65"/>
<circle cx="133.1" cy="125.6" r="1.65"/>
<circle cx="274.3" cy="81.4" r="1.65"/>
<circle cx="77.6" cy="156.8" r="1.65"/>
<circle cx="249.8" cy="86.6" r="1.65"/>
<circle cx="164" cy="79.8" r="1.65"/>
<circle cx="72.7" cy="133" r="1.65"/>
<circle cx="114.6" cy="109.7" r="1.65"/>
<circle cx="56.7" cy="155.2" r="1.65"/>
<circle cx="205.2" cy="63.5" r="1.65"/>
<circle cx="221.9" cy="83.5" r="1.65"/>
<circle cx="51.9" cy="167.6" r="1.65"/>
<circle cx="92.2" cy="115.7" r="1.65"/>
<circle cx="235" cy="89.1" r="1.65"/>
<circle cx="70.1" cy="127.4" r="1.65"/>
<circle cx="163.5" cy="99.1" r="1.65"/>
<circle cx="247.1" cy="75.9" r="1.65"/>
<circle cx="173.5" cy="95.5" r="1.65"/>
<circle cx="61.3" cy="157.3" r="1.65"/>
<circle cx="284.2" cy="98.7" r="1.65"/>
<circle cx="228.1" cy="69.6" r="1.65"/>
<circle cx="172" cy="100" r="1.65"/>
<circle cx="101.7" cy="117.8" r="1.65"/>
<circle cx="177.3" cy="103.2" r="1.65"/>
<circle cx="119.5" cy="135.7" r="1.65"/>
<circle cx="61" cy="123" r="1.65"/>
<circle cx="61.3" cy="155.4" r="1.65"/>
<circle cx="53.6" cy="157" r="1.65"/>
<circle cx="66.5" cy="163.2" r="1.65"/>
<circle cx="77.5" cy="140.3" r="1.65"/>
<circle cx="193.5" cy="98.3" r="1.65"/>
<circle cx="176.6" cy="99.8" r="1.65"/>
<circle cx="179.8" cy="96.9" r="1.65"/>
<circle cx="252.5" cy="89.7" r="1.65"/>
<circle cx="58.6" cy="154.7" r="1.65"/>
<circle cx="118.7" cy="116.3" r="1.65"/>
<circle cx="57" cy="143.3" r="1.65"/>
<circle cx="127.7" cy="115.1" r="1.65"/>
<circle cx="56.9" cy="119.4" r="1.65"/>
<circle cx="55.7" cy="146.8" r="1.65"/>
<circle cx="59.5" cy="143.1" r="1.65"/>
<circle cx="119" cy="126.3" r="1.65"/>
<circle cx="233.2" cy="67.5" r="1.65"/>
<circle cx="86.5" cy="145.5" r="1.65"/>
<circle cx="226.5" cy="111.3" r="1.65"/>
<circle cx="75.1" cy="150" r="1.65"/>
<circle cx="88" cy="119.2" r="1.65"/>
<circle cx="143.6" cy="123.8" r="1.65"/>
<circle cx="56.6" cy="127.3" r="1.65"/>
<circle cx="136.8" cy="110" r="1.65"/>
<circle cx="177.7" cy="118.7" r="1.65"/>
<circle cx="253.4" cy="82.7" r="1.65"/>
<circle cx="54.7" cy="119.7" r="1.65"/>
<circle cx="245.1" cy="95.2" r="1.65"/>
<circle cx="173.4" cy="116.7" r="1.65"/>
<circle cx="176.1" cy="89.8" r="1.65"/>
<circle cx="54.2" cy="128.5" r="1.65"/>
<circle cx="272.9" cy="57.1" r="1.65"/>
<circle cx="85.3" cy="133.5" r="1.65"/>
<circle cx="166.4" cy="97.5" r="1.65"/>
<circle cx="164" cy="96.5" r="1.65"/>
<circle cx="284.5" cy="51.3" r="1.65"/>
<circle cx="183.1" cy="96.8" r="1.65"/>
<circle cx="322" cy="38.5" r="1.65"/>
<circle cx="74.9" cy="138.5" r="1.65"/>
<circle cx="201.8" cy="82.3" r="1.65"/>
<circle cx="175.6" cy="110.6" r="1.65"/>
<circle cx="156.4" cy="114.4" r="1.65"/>
<circle cx="191.2" cy="87.4" r="1.65"/>
<circle cx="167.6" cy="112.7" r="1.65"/>
<circle cx="102.9" cy="110.4" r="1.65"/>
<circle cx="195.5" cy="100.7" r="1.65"/>
<circle cx="57.4" cy="147" r="1.65"/>
<circle cx="145.9" cy="107.7" r="1.65"/>
<circle cx="138" cy="114.1" r="1.65"/>
<circle cx="71.9" cy="132" r="1.65"/>
<circle cx="172.9" cy="83.1" r="1.65"/>
<circle cx="204.2" cy="108.7" r="1.65"/>
<circle cx="61.6" cy="138.7" r="1.65"/>
<circle cx="90.9" cy="128.6" r="1.65"/>
<circle cx="55.3" cy="162.1" r="1.65"/>
<circle cx="181.8" cy="91.5" r="1.65"/>
<circle cx="57.2" cy="160.2" r="1.65"/>
<circle cx="74.4" cy="133.9" r="1.65"/>
<circle cx="136.5" cy="92.6" r="1.65"/>
<circle cx="137.7" cy="105.9" r="1.65"/>
<circle cx="52.3" cy="145.4" r="1.65"/>
<circle cx="300.4" cy="85.5" r="1.65"/>
<circle cx="74.5" cy="126" r="1.65"/>
<circle cx="185.7" cy="89.6" r="1.65"/>
<circle cx="73.2" cy="139.5" r="1.65"/>
<circle cx="181.4" cy="78.9" r="1.65"/>
<circle cx="107.8" cy="141.2" r="1.65"/>
<circle cx="97.4" cy="115.2" r="1.65"/>
<circle cx="144.5" cy="110.3" r="1.65"/>
<circle cx="178.5" cy="111.8" r="1.65"/>
<circle cx="182.1" cy="98" r="1.65"/>
<circle cx="210" cy="94.4" r="1.65"/>
<circle cx="83" cy="118.9" r="1.65"/>
<circle cx="58.2" cy="168" r="1.65"/>
<circle cx="79.3" cy="133.5" r="1.65"/>
<circle cx="99.9" cy="130" r="1.65"/>
<circle cx="185" cy="72.9" r="1.65"/>
<circle cx="126.4" cy="130.5" r="1.65"/>
<circle cx="95.2" cy="111.3" r="1.65"/>
<circle cx="58.9" cy="171.4" r="1.65"/>
<circle cx="181.7" cy="90.7" r="1.65"/>
<circle cx="60.1" cy="147" r="1.65"/>
<circle cx="157.4" cy="97.8" r="1.65"/>
<circle cx="209.9" cy="100.1" r="1.65"/>
<circle cx="189.8" cy="117" r="1.65"/>
<circle cx="65.3" cy="121.9" r="1.65"/>
<circle cx="108.7" cy="116.6" r="1.65"/>
<circle cx="297.5" cy="84.5" r="1.65"/>
<circle cx="58.2" cy="132.9" r="1.65"/>
<circle cx="206.9" cy="101.4" r="1.65"/>
<circle cx="133" cy="122.2" r="1.65"/>
<circle cx="186.8" cy="112.7" r="1.65"/>
<circle cx="120.1" cy="100.4" r="1.65"/>
<circle cx="61.5" cy="158.4" r="1.65"/>
<circle cx="171.2" cy="94.6" r="1.65"/>
<circle cx="49" cy="135.7" r="1.65"/>
<circle cx="267.1" cy="73.4" r="1.65"/>
<circle cx="244.7" cy="70.8" r="1.65"/>
<circle cx="114.1" cy="141.6" r="1.65"/>
<circle cx="163.6" cy="95.7" r="1.65"/>
<circle cx="160.6" cy="99.6" r="1.65"/>
<circle cx="316" cy="51.3" r="1.65"/>
<circle cx="53.4" cy="159.9" r="1.65"/>
<circle cx="91.1" cy="120.5" r="1.65"/>
<circle cx="124.2" cy="123.9" r="1.65"/>
<circle cx="241" cy="72.5" r="1.65"/>
<circle cx="222.9" cy="83.9" r="1.65"/>
<circle cx="129.1" cy="118.5" r="1.65"/>
<circle cx="49.9" cy="170" r="1.65"/>
<circle cx="197.4" cy="68.6" r="1.65"/>
<circle cx="124.1" cy="99.8" r="1.65"/>
<circle cx="60.8" cy="131.3" r="1.65"/>
<circle cx="192.2" cy="103.5" r="1.65"/>
<circle cx="135.6" cy="115.7" r="1.65"/>
<circle cx="93.8" cy="105.2" r="1.65"/>
<circle cx="83.1" cy="120" r="1.65"/>
<circle cx="158.6" cy="115.3" r="1.65"/>
<circle cx="78" cy="129.9" r="1.65"/>
<circle cx="120" cy="114" r="1.65"/>
<circle cx="298" cy="72.3" r="1.65"/>
<circle cx="145.5" cy="120.7" r="1.65"/>
<circle cx="79.3" cy="115.9" r="1.65"/>
<circle cx="158.7" cy="94.7" r="1.65"/>
<circle cx="287.5" cy="74.6" r="1.65"/>
<circle cx="267.9" cy="103.5" r="1.65"/>
<circle cx="206.5" cy="99.1" r="1.65"/>
<circle cx="280.2" cy="72.8" r="1.65"/>
<circle cx="231.2" cy="70.8" r="1.65"/>
<circle cx="207.4" cy="95.6" r="1.65"/>
<circle cx="130.5" cy="97.1" r="1.65"/>
<circle cx="64.1" cy="138.3" r="1.65"/>
<circle cx="223.5" cy="98" r="1.65"/>
<circle cx="193.2" cy="110.8" r="1.65"/>
<circle cx="310.1" cy="93.9" r="1.65"/>
<circle cx="98.2" cy="125.5" r="1.65"/>
<circle cx="271.7" cy="68.9" r="1.65"/>
<circle cx="72.7" cy="117.3" r="1.65"/>
<circle cx="299.9" cy="68.1" r="1.65"/>
<circle cx="324.8" cy="85.4" r="1.65"/>
<circle cx="53.8" cy="147.2" r="1.65"/>
<circle cx="99.3" cy="127" r="1.65"/>
<circle cx="327.1" cy="67.2" r="1.65"/>
<circle cx="310.3" cy="91" r="1.65"/>
<circle cx="204.4" cy="81" r="1.65"/>
<circle cx="62.6" cy="136.7" r="1.65"/>
<circle cx="49.1" cy="124" r="1.65"/>
<circle cx="78.3" cy="117.7" r="1.65"/>
<circle cx="299.1" cy="52.7" r="1.65"/>
<circle cx="246.8" cy="60.2" r="1.65"/>
<circle cx="130.6" cy="116.2" r="1.65"/>
<circle cx="232.6" cy="90.9" r="1.65"/>
<circle cx="281.4" cy="72.9" r="1.65"/>
<circle cx="91.8" cy="147" r="1.65"/>
<circle cx="270.9" cy="77" r="1.65"/>
<circle cx="83.2" cy="134.2" r="1.65"/>
<circle cx="100.5" cy="113.8" r="1.65"/>
<circle cx="53.5" cy="152.7" r="1.65"/>
<circle cx="65.3" cy="138.2" r="1.65"/>
<circle cx="167.7" cy="80" r="1.65"/>
<circle cx="51.4" cy="161.9" r="1.65"/>
<circle cx="166.1" cy="99.8" r="1.65"/>
<circle cx="66.4" cy="160.6" r="1.65"/>
<circle cx="228.7" cy="93.3" r="1.65"/>
<circle cx="61.9" cy="141.7" r="1.65"/>
<circle cx="71" cy="158.1" r="1.65"/>
<circle cx="83.1" cy="124.5" r="1.65"/>
<circle cx="187" cy="126.4" r="1.65"/>
<circle cx="227.6" cy="136.4" r="1.65"/>
<circle cx="249.4" cy="127.6" r="1.65"/>
<circle cx="248.2" cy="148" r="1.65"/>
<circle cx="287" cy="125.4" r="1.65"/>
<circle cx="290" cy="130" r="1.65"/>
<circle cx="294.6" cy="113.6" r="1.65"/>
<circle cx="279.6" cy="19.4" r="1.65"/>
<circle cx="244.6" cy="37" r="1.65"/>
<circle cx="210.6" cy="43" r="1.65"/>
<circle cx="200" cy="45" r="1.65"/>
<circle cx="220.4" cy="48" r="1.65"/>
<circle cx="182.6" cy="57" r="1.65"/>
<circle cx="188" cy="52.6" r="1.65"/>
<circle cx="253" cy="45" r="1.65"/>
<circle cx="271" cy="43" r="1.65"/>
<circle cx="332.5" cy="61.5" r="1.65"/>
<circle cx="287.5" cy="125" r="1.65"/>
<circle cx="279" cy="19" r="1.65"/>
<circle cx="51.2" cy="176.9" r="1.65"/>
<circle cx="56.5" cy="178.9" r="1.65"/>
<circle cx="59.6" cy="185" r="1.65"/>
<circle cx="60.7" cy="172.4" r="1.65"/>
<circle cx="61.8" cy="170.4" r="1.65"/>
<circle cx="68.5" cy="169.3" r="1.65"/>
<circle cx="76.9" cy="168.2" r="1.65"/>
<circle cx="95.9" cy="157.3" r="1.65"/>
<circle cx="79.1" cy="149.5" r="1.65"/>
<circle cx="71.8" cy="147.6" r="1.65"/>
<circle cx="72.4" cy="155.1" r="1.65"/>
<circle cx="66.8" cy="155.1" r="1.65"/>
<circle cx="69.6" cy="160.1" r="1.65"/>
<circle cx="66.3" cy="160.7" r="1.65"/>
<circle cx="61.2" cy="158.4" r="1.65"/>
<circle cx="61.8" cy="162.3" r="1.65"/>
<circle cx="56.8" cy="162.3" r="1.65"/>
<circle cx="53.4" cy="172.4" r="1.65"/>
<circle cx="50.6" cy="170.2" r="1.65"/>
<circle cx="51.2" cy="173.5" r="1.65"/>
</g>
<g fill="none" stroke="#111" stroke-width="1.35" clip-path="url(#cA)">
<path d="M53 122.4 L96 104 L106 100 L138 86 L175 74.4 L235 57 L280.4 44 L312 35 L326.3 30.2" stroke-dasharray="5.2 3.7"/>
<path d="M53 152.4 L67 135.6 L78 129 L98 121.6 L122 114 L144 106 L164 100 L175 96 L235 82 L280.4 71 L312 63.6 L326.3 60.4"/>
<path d="M53 171 L98 149 L142 130 L175 119.4 L234.4 108.4 L259 104 L280.4 100 L312 94 L326.3 92.5" stroke-dasharray="1.7 2.6"/>
</g>
<path d="M39.7 186.4 h3 M39.7 162.5 h3 M39.7 138.7 h3 M39.7 114.8 h3 M39.7 91 h3 M39.7 67.1 h3 M39.7 43.2 h3 M39.7 19.4 h3 M50.4 190.7 v-3 M96.4 190.7 v-3 M142.4 190.7 v-3 M188.4 190.7 v-3 M234.4 190.7 v-3 M280.3 190.7 v-3 M326.3 190.7 v-3" stroke="#222" stroke-width="1" fill="none"/>
<rect x="38.9" y="12.6" width="305.1" height="178.9" fill="none" stroke="#1a1a1a" stroke-width="1.4"/>
<g font-family="&quot;Liberation Sans&quot;, sans-serif" font-size="11.4" fill="#111" stroke="#111" stroke-width="0.2">
<text transform="translate(35.3 190.9) scale(1 1.09)" text-anchor="end">4</text>
<text transform="translate(35.3 167) scale(1 1.09)" text-anchor="end">6</text>
<text transform="translate(35.3 143.2) scale(1 1.09)" text-anchor="end">8</text>
<text transform="translate(35.3 119.3) scale(1 1.09)" text-anchor="end">10</text>
<text transform="translate(35.3 95.5) scale(1 1.09)" text-anchor="end">12</text>
<text transform="translate(35.3 71.6) scale(1 1.09)" text-anchor="end">14</text>
<text transform="translate(35.3 47.7) scale(1 1.09)" text-anchor="end">16</text>
<text transform="translate(35.3 23.9) scale(1 1.09)" text-anchor="end">18</text>
<text transform="translate(50.4 206.6) scale(1 1.09)" text-anchor="middle">0</text>
<text transform="translate(96.4 206.6) scale(1 1.09)" text-anchor="middle">3</text>
<text transform="translate(142.4 206.6) scale(1 1.09)" text-anchor="middle">6</text>
<text transform="translate(188.4 206.6) scale(1 1.09)" text-anchor="middle">9</text>
<text transform="translate(234.4 206.6) scale(1 1.09)" text-anchor="middle">12</text>
<text transform="translate(280.3 206.6) scale(1 1.09)" text-anchor="middle">15</text>
<text transform="translate(326.3 206.6) scale(1 1.09)" text-anchor="middle">18</text>
</g>
<text transform="translate(38.7 10.2) scale(1 1.09)" font-family="&quot;Liberation Sans&quot;, sans-serif" font-size="11.5" font-weight="bold" fill="#111" stroke="#111" stroke-width="0.3">A</text>
<path d="M373.3 186.4 H678.2 M373.3 162.5 H678.2 M373.3 138.7 H678.2 M373.3 114.8 H678.2 M373.3 91 H678.2 M373.3 67.1 H678.2 M373.3 43.2 H678.2 M373.3 19.4 H678.2" stroke="#c4c4c4" stroke-width="1" stroke-dasharray="1.8 2.5" stroke-dashoffset="-0.2" fill="none"/>
<path d="M396.6 12.6 V191.5 M489.2 12.6 V191.5 M581.8 12.6 V191.5 M674.4 12.6 V191.5" stroke="#c4c4c4" stroke-width="1" stroke-dasharray="1.8 2.5" stroke-dashoffset="-1.75" fill="none"/>
<g fill="#bababa" clip-path="url(#cB)">
<circle cx="574.5" cy="83" r="1.65"/>
<circle cx="504.5" cy="103.6" r="1.65"/>
<circle cx="587.7" cy="90.3" r="1.65"/>
<circle cx="526.8" cy="100.1" r="1.65"/>
<circle cx="485" cy="125.9" r="1.65"/>
<circle cx="543.8" cy="98.6" r="1.65"/>
<circle cx="558.1" cy="104.6" r="1.65"/>
<circle cx="443.4" cy="150.4" r="1.65"/>
<circle cx="555.5" cy="85.4" r="1.65"/>
<circle cx="449.8" cy="124.9" r="1.65"/>
<circle cx="635.3" cy="54.6" r="1.65"/>
<circle cx="543.2" cy="106.2" r="1.65"/>
<circle cx="461.8" cy="127.9" r="1.65"/>
<circle cx="403.1" cy="144.5" r="1.65"/>
<circle cx="464.6" cy="131.6" r="1.65"/>
<circle cx="493.9" cy="113.7" r="1.65"/>
<circle cx="551.8" cy="77.3" r="1.65"/>
<circle cx="569.9" cy="93.9" r="1.65"/>
<circle cx="579.5" cy="65.7" r="1.65"/>
<circle cx="523.6" cy="111.8" r="1.65"/>
<circle cx="563.2" cy="81" r="1.65"/>
<circle cx="547.8" cy="100.4" r="1.65"/>
<circle cx="488.1" cy="115.8" r="1.65"/>
<circle cx="465.9" cy="110.1" r="1.65"/>
<circle cx="514" cy="118.7" r="1.65"/>
<circle cx="575.1" cy="95.1" r="1.65"/>
<circle cx="438" cy="144.8" r="1.65"/>
<circle cx="564.4" cy="84.2" r="1.65"/>
<circle cx="393.7" cy="167.9" r="1.65"/>
<circle cx="454.8" cy="144" r="1.65"/>
<circle cx="571.2" cy="110.6" r="1.65"/>
<circle cx="598.6" cy="86.8" r="1.65"/>
<circle cx="590.5" cy="80.8" r="1.65"/>
<circle cx="573.9" cy="100.5" r="1.65"/>
<circle cx="476.3" cy="135.2" r="1.65"/>
<circle cx="641.1" cy="88.6" r="1.65"/>
<circle cx="557.4" cy="88.3" r="1.65"/>
<circle cx="620.5" cy="78.5" r="1.65"/>
<circle cx="626.9" cy="45.3" r="1.65"/>
<circle cx="471.8" cy="112.9" r="1.65"/>
<circle cx="635.8" cy="74" r="1.65"/>
<circle cx="418.4" cy="155.1" r="1.65"/>
<circle cx="564.7" cy="87.9" r="1.65"/>
<circle cx="477.1" cy="114.5" r="1.65"/>
<circle cx="423.3" cy="174.3" r="1.65"/>
<circle cx="551" cy="93.6" r="1.65"/>
<circle cx="464" cy="104.8" r="1.65"/>
<circle cx="594.3" cy="81" r="1.65"/>
<circle cx="528.2" cy="100.9" r="1.65"/>
<circle cx="480.8" cy="122.8" r="1.65"/>
<circle cx="389.3" cy="173.8" r="1.65"/>
<circle cx="575.6" cy="67.4" r="1.65"/>
<circle cx="564.5" cy="84.4" r="1.65"/>
<circle cx="598" cy="74" r="1.65"/>
<circle cx="510.1" cy="102.4" r="1.65"/>
<circle cx="621.6" cy="52.2" r="1.65"/>
<circle cx="395" cy="179.3" r="1.65"/>
<circle cx="622.5" cy="58" r="1.65"/>
<circle cx="590.1" cy="89.9" r="1.65"/>
<circle cx="426.4" cy="142.9" r="1.65"/>
<circle cx="640.9" cy="72.8" r="1.65"/>
<circle cx="421.7" cy="161.4" r="1.65"/>
<circle cx="587.4" cy="61.3" r="1.65"/>
<circle cx="473.5" cy="126.2" r="1.65"/>
<circle cx="575.4" cy="89.8" r="1.65"/>
<circle cx="604.4" cy="80" r="1.65"/>
<circle cx="432.1" cy="140.9" r="1.65"/>
<circle cx="495.5" cy="116.2" r="1.65"/>
<circle cx="617" cy="82.2" r="1.65"/>
<circle cx="531.7" cy="105" r="1.65"/>
<circle cx="444.5" cy="126.2" r="1.65"/>
<circle cx="420.6" cy="129.9" r="1.65"/>
<circle cx="433.9" cy="157" r="1.65"/>
<circle cx="427.7" cy="142.8" r="1.65"/>
<circle cx="503.7" cy="108.4" r="1.65"/>
<circle cx="592.4" cy="88" r="1.65"/>
<circle cx="526.3" cy="112" r="1.65"/>
<circle cx="424.9" cy="126.5" r="1.65"/>
<circle cx="502.6" cy="118.7" r="1.65"/>
<circle cx="533.1" cy="102.4" r="1.65"/>
<circle cx="525.2" cy="88.8" r="1.65"/>
<circle cx="565.5" cy="60" r="1.65"/>
<circle cx="573.3" cy="107.9" r="1.65"/>
<circle cx="586.7" cy="84.8" r="1.65"/>
<circle cx="544.1" cy="95.6" r="1.65"/>
<circle cx="397.8" cy="133.7" r="1.65"/>
<circle cx="591" cy="80.8" r="1.65"/>
<circle cx="593.7" cy="70.1" r="1.65"/>
<circle cx="583.1" cy="64.4" r="1.65"/>
<circle cx="522.8" cy="89.8" r="1.65"/>
<circle cx="615.1" cy="74.9" r="1.65"/>
<circle cx="424.2" cy="134.2" r="1.65"/>
<circle cx="585.2" cy="92.3" r="1.65"/>
<circle cx="556.4" cy="111" r="1.65"/>
<circle cx="577.2" cy="79.8" r="1.65"/>
<circle cx="413" cy="140.7" r="1.65"/>
<circle cx="635.3" cy="85.4" r="1.65"/>
<circle cx="398" cy="159.7" r="1.65"/>
<circle cx="452.6" cy="125.6" r="1.65"/>
<circle cx="540.1" cy="83.5" r="1.65"/>
<circle cx="551.7" cy="81.3" r="1.65"/>
<circle cx="452.9" cy="135.6" r="1.65"/>
<circle cx="485.6" cy="101.1" r="1.65"/>
<circle cx="621.7" cy="60.7" r="1.65"/>
<circle cx="494.7" cy="118.7" r="1.65"/>
<circle cx="524.6" cy="102.9" r="1.65"/>
<circle cx="429.8" cy="129.8" r="1.65"/>
<circle cx="550.9" cy="88.9" r="1.65"/>
<circle cx="577.4" cy="82.5" r="1.65"/>
<circle cx="585.3" cy="102.4" r="1.65"/>
<circle cx="470" cy="120.1" r="1.65"/>
<circle cx="506.7" cy="112.9" r="1.65"/>
<circle cx="568.1" cy="54.7" r="1.65"/>
<circle cx="636.7" cy="60.2" r="1.65"/>
<circle cx="591.1" cy="80.4" r="1.65"/>
<circle cx="466" cy="137.8" r="1.65"/>
<circle cx="412.3" cy="141.3" r="1.65"/>
<circle cx="496.4" cy="117.3" r="1.65"/>
<circle cx="542.8" cy="105.1" r="1.65"/>
<circle cx="481.4" cy="100.1" r="1.65"/>
<circle cx="595" cy="36.3" r="1.65"/>
<circle cx="477" cy="129.7" r="1.65"/>
<circle cx="434.2" cy="156.9" r="1.65"/>
<circle cx="557.7" cy="73.4" r="1.65"/>
<circle cx="589.1" cy="92.4" r="1.65"/>
<circle cx="461.6" cy="132.5" r="1.65"/>
<circle cx="497.9" cy="101.7" r="1.65"/>
<circle cx="477.9" cy="141.8" r="1.65"/>
<circle cx="397.3" cy="159.5" r="1.65"/>
<circle cx="573.8" cy="63.5" r="1.65"/>
<circle cx="406.5" cy="147.9" r="1.65"/>
<circle cx="559.6" cy="96.5" r="1.65"/>
<circle cx="562.6" cy="76.3" r="1.65"/>
<circle cx="542.9" cy="98.1" r="1.65"/>
<circle cx="403.1" cy="163.2" r="1.65"/>
<circle cx="401" cy="160.4" r="1.65"/>
<circle cx="539.8" cy="78.9" r="1.65"/>
<circle cx="534.6" cy="109.3" r="1.65"/>
<circle cx="391.2" cy="161.8" r="1.65"/>
<circle cx="388.8" cy="170.5" r="1.65"/>
<circle cx="591.8" cy="49.7" r="1.65"/>
<circle cx="495.5" cy="116.8" r="1.65"/>
<circle cx="580.6" cy="64.3" r="1.65"/>
<circle cx="459.6" cy="123" r="1.65"/>
<circle cx="479.6" cy="130.2" r="1.65"/>
<circle cx="617.7" cy="52.7" r="1.65"/>
<circle cx="459.3" cy="117.8" r="1.65"/>
<circle cx="516.1" cy="121.7" r="1.65"/>
<circle cx="536.3" cy="89" r="1.65"/>
<circle cx="579.6" cy="87.3" r="1.65"/>
<circle cx="494.5" cy="106.9" r="1.65"/>
<circle cx="567.1" cy="106.3" r="1.65"/>
<circle cx="466.9" cy="121.5" r="1.65"/>
<circle cx="573.5" cy="93.3" r="1.65"/>
<circle cx="393.9" cy="149.5" r="1.65"/>
<circle cx="455.8" cy="132.6" r="1.65"/>
<circle cx="410.5" cy="168" r="1.65"/>
<circle cx="426.3" cy="129" r="1.65"/>
<circle cx="586.8" cy="84.1" r="1.65"/>
<circle cx="528.8" cy="114.9" r="1.65"/>
<circle cx="593.7" cy="75.4" r="1.65"/>
<circle cx="637.3" cy="73.5" r="1.65"/>
<circle cx="455.6" cy="126.5" r="1.65"/>
<circle cx="590.9" cy="79.6" r="1.65"/>
<circle cx="636.4" cy="65.4" r="1.65"/>
<circle cx="491.5" cy="107.8" r="1.65"/>
<circle cx="416.9" cy="168" r="1.65"/>
<circle cx="528.3" cy="88.9" r="1.65"/>
<circle cx="545.5" cy="122.7" r="1.65"/>
<circle cx="574.8" cy="52.9" r="1.65"/>
<circle cx="551.3" cy="88.5" r="1.65"/>
<circle cx="489.5" cy="120.9" r="1.65"/>
<circle cx="447.7" cy="144.6" r="1.65"/>
<circle cx="499.4" cy="106.9" r="1.65"/>
<circle cx="529.8" cy="103.7" r="1.65"/>
<circle cx="455.4" cy="134.5" r="1.65"/>
<circle cx="488.7" cy="104.2" r="1.65"/>
<circle cx="614.4" cy="76" r="1.65"/>
<circle cx="519.6" cy="109.9" r="1.65"/>
<circle cx="434.8" cy="133.5" r="1.65"/>
<circle cx="570.3" cy="65.7" r="1.65"/>
<circle cx="503.2" cy="116.8" r="1.65"/>
<circle cx="539.8" cy="94.5" r="1.65"/>
<circle cx="512.4" cy="109.7" r="1.65"/>
<circle cx="430.9" cy="131.3" r="1.65"/>
<circle cx="584.6" cy="48.7" r="1.65"/>
<circle cx="550.9" cy="105" r="1.65"/>
<circle cx="641.5" cy="63.9" r="1.65"/>
<circle cx="385.6" cy="166" r="1.65"/>
<circle cx="552.6" cy="82.6" r="1.65"/>
<circle cx="520.1" cy="84.8" r="1.65"/>
<circle cx="522.2" cy="105.6" r="1.65"/>
<circle cx="581.7" cy="77" r="1.65"/>
<circle cx="472.9" cy="109.5" r="1.65"/>
<circle cx="514.1" cy="123.7" r="1.65"/>
<circle cx="437.6" cy="150.5" r="1.65"/>
<circle cx="550.4" cy="97.8" r="1.65"/>
<circle cx="522.8" cy="105.2" r="1.65"/>
<circle cx="403.1" cy="152.5" r="1.65"/>
<circle cx="469.4" cy="134.3" r="1.65"/>
<circle cx="513" cy="83.9" r="1.65"/>
<circle cx="543.3" cy="104.8" r="1.65"/>
<circle cx="422.9" cy="148.2" r="1.65"/>
<circle cx="561.1" cy="72" r="1.65"/>
<circle cx="600.5" cy="56.2" r="1.65"/>
<circle cx="497.6" cy="114.7" r="1.65"/>
<circle cx="412.8" cy="145.4" r="1.65"/>
<circle cx="442.3" cy="124.9" r="1.65"/>
<circle cx="589.7" cy="79.1" r="1.65"/>
<circle cx="543.4" cy="86.3" r="1.65"/>
<circle cx="438.6" cy="152.6" r="1.65"/>
<circle cx="449.6" cy="131.7" r="1.65"/>
<circle cx="603.6" cy="101.3" r="1.65"/>
<circle cx="573.1" cy="98.1" r="1.65"/>
<circle cx="576.3" cy="100.9" r="1.65"/>
<circle cx="440.1" cy="120.2" r="1.65"/>
<circle cx="642" cy="69" r="1.65"/>
<circle cx="476.3" cy="119.5" r="1.65"/>
<circle cx="503" cy="126" r="1.65"/>
<circle cx="470.4" cy="129.3" r="1.65"/>
<circle cx="628.5" cy="67.4" r="1.65"/>
<circle cx="563.5" cy="100.5" r="1.65"/>
<circle cx="547.7" cy="81.6" r="1.65"/>
<circle cx="517.5" cy="127.2" r="1.65"/>
<circle cx="580.6" cy="69.4" r="1.65"/>
<circle cx="529.8" cy="112.4" r="1.65"/>
<circle cx="528.2" cy="102.2" r="1.65"/>
<circle cx="444.1" cy="160.8" r="1.65"/>
<circle cx="601.7" cy="74.9" r="1.65"/>
<circle cx="412.6" cy="176.3" r="1.65"/>
<circle cx="619.8" cy="54.2" r="1.65"/>
<circle cx="622" cy="73.4" r="1.65"/>
<circle cx="541.5" cy="122.2" r="1.65"/>
<circle cx="448" cy="155" r="1.65"/>
<circle cx="465.6" cy="153.2" r="1.65"/>
<circle cx="439.9" cy="141.8" r="1.65"/>
<circle cx="577.4" cy="67" r="1.65"/>
<circle cx="505.1" cy="119.5" r="1.65"/>
<circle cx="639.4" cy="78" r="1.65"/>
<circle cx="499.8" cy="126.3" r="1.65"/>
<circle cx="496.8" cy="113.8" r="1.65"/>
<circle cx="572.6" cy="74.7" r="1.65"/>
<circle cx="613.2" cy="61.8" r="1.65"/>
<circle cx="542.2" cy="80.8" r="1.65"/>
<circle cx="433.6" cy="169.8" r="1.65"/>
<circle cx="450.5" cy="137" r="1.65"/>
<circle cx="580.2" cy="59.7" r="1.65"/>
<circle cx="590.3" cy="105.5" r="1.65"/>
<circle cx="641.8" cy="88.4" r="1.65"/>
<circle cx="551.8" cy="109.3" r="1.65"/>
<circle cx="593.5" cy="96.5" r="1.65"/>
<circle cx="572.2" cy="88.6" r="1.65"/>
<circle cx="547" cy="102.2" r="1.65"/>
<circle cx="598.6" cy="85.7" r="1.65"/>
<circle cx="461.2" cy="139.5" r="1.65"/>
<circle cx="444.5" cy="138.6" r="1.65"/>
<circle cx="491.6" cy="130.3" r="1.65"/>
<circle cx="510.5" cy="108.1" r="1.65"/>
<circle cx="630.3" cy="64.4" r="1.65"/>
<circle cx="602" cy="93.2" r="1.65"/>
<circle cx="586" cy="42.7" r="1.65"/>
<circle cx="616.1" cy="89.1" r="1.65"/>
<circle cx="510.2" cy="102" r="1.65"/>
<circle cx="640.1" cy="73" r="1.65"/>
<circle cx="619.9" cy="61.1" r="1.65"/>
<circle cx="455.3" cy="126.3" r="1.65"/>
<circle cx="508.8" cy="100.6" r="1.65"/>
<circle cx="491.2" cy="99.4" r="1.65"/>
<circle cx="457.8" cy="145.8" r="1.65"/>
<circle cx="627.1" cy="57.6" r="1.65"/>
<circle cx="511.9" cy="121.3" r="1.65"/>
<circle cx="611.1" cy="94.7" r="1.65"/>
<circle cx="556.5" cy="67.6" r="1.65"/>
<circle cx="410.1" cy="153.4" r="1.65"/>
<circle cx="521.9" cy="95.8" r="1.65"/>
<circle cx="593.1" cy="48.9" r="1.65"/>
<circle cx="494" cy="115.1" r="1.65"/>
<circle cx="487.1" cy="125.7" r="1.65"/>
<circle cx="423.1" cy="146.7" r="1.65"/>
<circle cx="531" cy="90.4" r="1.65"/>
<circle cx="628.4" cy="64" r="1.65"/>
<circle cx="392.7" cy="173.5" r="1.65"/>
<circle cx="615.1" cy="53.6" r="1.65"/>
<circle cx="557.1" cy="116.9" r="1.65"/>
<circle cx="483.7" cy="132.2" r="1.65"/>
<circle cx="617.7" cy="42.7" r="1.65"/>
<circle cx="624.7" cy="61.2" r="1.65"/>
<circle cx="636.7" cy="56.9" r="1.65"/>
<circle cx="528.5" cy="101.7" r="1.65"/>
<circle cx="517.5" cy="93.7" r="1.65"/>
<circle cx="570.1" cy="87.3" r="1.65"/>
<circle cx="615.5" cy="99.3" r="1.65"/>
<circle cx="502" cy="112.1" r="1.65"/>
<circle cx="497.4" cy="94.2" r="1.65"/>
<circle cx="516.2" cy="94.2" r="1.65"/>
<circle cx="393.8" cy="166.5" r="1.65"/>
<circle cx="605" cy="75.7" r="1.65"/>
<circle cx="527.3" cy="102.7" r="1.65"/>
<circle cx="529.4" cy="88.9" r="1.65"/>
<circle cx="563.8" cy="100.3" r="1.65"/>
<circle cx="598.8" cy="91.4" r="1.65"/>
<circle cx="578.3" cy="93.8" r="1.65"/>
<circle cx="497.8" cy="113.7" r="1.65"/>
<circle cx="487.6" cy="115.8" r="1.65"/>
<circle cx="497.7" cy="121" r="1.65"/>
<circle cx="543.4" cy="85.7" r="1.65"/>
<circle cx="599.1" cy="93.6" r="1.65"/>
<circle cx="387.3" cy="166.7" r="1.65"/>
<circle cx="558.2" cy="100.6" r="1.65"/>
<circle cx="605.8" cy="91.5" r="1.65"/>
<circle cx="549.4" cy="76.6" r="1.65"/>
<circle cx="509.6" cy="116.9" r="1.65"/>
<circle cx="531" cy="115.2" r="1.65"/>
<circle cx="539.7" cy="97.2" r="1.65"/>
<circle cx="562.6" cy="104.2" r="1.65"/>
<circle cx="416.1" cy="141.9" r="1.65"/>
<circle cx="595.5" cy="58.4" r="1.65"/>
<circle cx="547.4" cy="80.2" r="1.65"/>
<circle cx="482.8" cy="137.3" r="1.65"/>
<circle cx="621.7" cy="69.6" r="1.65"/>
<circle cx="513.8" cy="83.2" r="1.65"/>
<circle cx="592.1" cy="83.3" r="1.65"/>
<circle cx="488.4" cy="102.2" r="1.65"/>
<circle cx="546.7" cy="73.9" r="1.65"/>
<circle cx="456.8" cy="154.1" r="1.65"/>
<circle cx="481.8" cy="105.6" r="1.65"/>
<circle cx="496.7" cy="105.5" r="1.65"/>
<circle cx="441.2" cy="125.4" r="1.65"/>
<circle cx="589.2" cy="42.7" r="1.65"/>
<circle cx="525.8" cy="98.1" r="1.65"/>
<circle cx="501.2" cy="114.6" r="1.65"/>
<circle cx="554.1" cy="82.7" r="1.65"/>
<circle cx="469.2" cy="133" r="1.65"/>
<circle cx="522.9" cy="99" r="1.65"/>
<circle cx="550.6" cy="123.2" r="1.65"/>
<circle cx="560.4" cy="64" r="1.65"/>
<circle cx="519.4" cy="114.3" r="1.65"/>
<circle cx="585.8" cy="70.1" r="1.65"/>
<circle cx="610.7" cy="64.7" r="1.65"/>
<circle cx="634" cy="60.2" r="1.65"/>
<circle cx="549.1" cy="91.5" r="1.65"/>
<circle cx="634.5" cy="60.8" r="1.65"/>
<circle cx="627.4" cy="83.7" r="1.65"/>
<circle cx="568.3" cy="95.5" r="1.65"/>
<circle cx="438" cy="122.6" r="1.65"/>
<circle cx="565.4" cy="103.6" r="1.65"/>
<circle cx="543.2" cy="111.1" r="1.65"/>
<circle cx="577.7" cy="60.1" r="1.65"/>
<circle cx="481.1" cy="101.3" r="1.65"/>
<circle cx="643.1" cy="64.5" r="1.65"/>
<circle cx="501.1" cy="111.8" r="1.65"/>
<circle cx="647.4" cy="49.8" r="1.65"/>
<circle cx="482.6" cy="114" r="1.65"/>
<circle cx="531.8" cy="102.9" r="1.65"/>
<circle cx="573.5" cy="107.8" r="1.65"/>
<circle cx="477.9" cy="134.7" r="1.65"/>
<circle cx="515.7" cy="127" r="1.65"/>
<circle cx="569.6" cy="58.6" r="1.65"/>
<circle cx="587.7" cy="87.9" r="1.65"/>
<circle cx="622.1" cy="70" r="1.65"/>
<circle cx="547.4" cy="90.2" r="1.65"/>
<circle cx="633.9" cy="62.2" r="1.65"/>
<circle cx="484.1" cy="114" r="1.65"/>
<circle cx="559" cy="99.5" r="1.65"/>
<circle cx="588.6" cy="104.2" r="1.65"/>
<circle cx="419.2" cy="125.1" r="1.65"/>
<circle cx="594.5" cy="90.4" r="1.65"/>
<circle cx="600.8" cy="84.5" r="1.65"/>
<circle cx="549.6" cy="105.1" r="1.65"/>
<circle cx="623.7" cy="73.9" r="1.65"/>
<circle cx="577.1" cy="84.6" r="1.65"/>
<circle cx="506.2" cy="103.5" r="1.65"/>
<circle cx="598.3" cy="94.7" r="1.65"/>
<circle cx="540.6" cy="93.8" r="1.65"/>
<circle cx="573.8" cy="96.2" r="1.65"/>
<circle cx="641.2" cy="40.3" r="1.65"/>
<circle cx="576.5" cy="103.7" r="1.65"/>
<circle cx="592.6" cy="77.8" r="1.65"/>
<circle cx="600.2" cy="60.3" r="1.65"/>
<circle cx="460.2" cy="153" r="1.65"/>
<circle cx="401.1" cy="157" r="1.65"/>
<circle cx="416.4" cy="148.3" r="1.65"/>
<circle cx="528.9" cy="113.7" r="1.65"/>
<circle cx="634.7" cy="65.6" r="1.65"/>
<circle cx="524.7" cy="91.8" r="1.65"/>
<circle cx="623.7" cy="62.3" r="1.65"/>
<circle cx="487.2" cy="126.1" r="1.65"/>
<circle cx="440.7" cy="141.3" r="1.65"/>
<circle cx="515.7" cy="104" r="1.65"/>
<circle cx="605.9" cy="45.5" r="1.65"/>
<circle cx="635.1" cy="48.5" r="1.65"/>
<circle cx="544.7" cy="86.2" r="1.65"/>
<circle cx="509.4" cy="90.1" r="1.65"/>
<circle cx="594.6" cy="103.6" r="1.65"/>
<circle cx="520" cy="125" r="1.65"/>
<circle cx="489.6" cy="108.2" r="1.65"/>
<circle cx="588.4" cy="83.1" r="1.65"/>
<circle cx="419.1" cy="139" r="1.65"/>
<circle cx="592.4" cy="101.8" r="1.65"/>
<circle cx="631.5" cy="72.2" r="1.65"/>
<circle cx="426.6" cy="149.6" r="1.65"/>
<circle cx="593.5" cy="63.7" r="1.65"/>
<circle cx="395" cy="176.2" r="1.65"/>
<circle cx="434.6" cy="136.9" r="1.65"/>
<circle cx="487.1" cy="111.2" r="1.65"/>
<circle cx="647.1" cy="65.4" r="1.65"/>
<circle cx="407.3" cy="153.2" r="1.65"/>
<circle cx="527" cy="87.6" r="1.65"/>
<circle cx="523.9" cy="103.4" r="1.65"/>
<circle cx="452.6" cy="134.6" r="1.65"/>
<circle cx="638.1" cy="66.5" r="1.65"/>
<circle cx="471.2" cy="118.9" r="1.65"/>
<circle cx="618.4" cy="73.9" r="1.65"/>
<circle cx="545.6" cy="87" r="1.65"/>
<circle cx="579.8" cy="83" r="1.65"/>
<circle cx="585.8" cy="59" r="1.65"/>
<circle cx="572.2" cy="98.9" r="1.65"/>
<circle cx="598.8" cy="76.4" r="1.65"/>
<circle cx="613.8" cy="64.4" r="1.65"/>
<circle cx="440.5" cy="132.8" r="1.65"/>
<circle cx="421.5" cy="133.1" r="1.65"/>
<circle cx="526.4" cy="99.8" r="1.65"/>
<circle cx="428.3" cy="132.5" r="1.65"/>
<circle cx="555.3" cy="65" r="1.65"/>
<circle cx="628.2" cy="50" r="1.65"/>
<circle cx="539.7" cy="113" r="1.65"/>
<circle cx="449.6" cy="158.2" r="1.65"/>
<circle cx="431.7" cy="133.9" r="1.65"/>
<circle cx="543.3" cy="102.1" r="1.65"/>
<circle cx="585.8" cy="77.2" r="1.65"/>
<circle cx="598.3" cy="81.2" r="1.65"/>
<circle cx="588.3" cy="53.9" r="1.65"/>
<circle cx="528.9" cy="87.6" r="1.65"/>
<circle cx="612.5" cy="90.3" r="1.65"/>
<circle cx="545.2" cy="92.3" r="1.65"/>
<circle cx="573.8" cy="91.1" r="1.65"/>
<circle cx="384.3" cy="175.4" r="1.65"/>
<circle cx="534.5" cy="92.5" r="1.65"/>
<circle cx="420.5" cy="150.8" r="1.65"/>
<circle cx="464" cy="125.2" r="1.65"/>
<circle cx="489.4" cy="102.2" r="1.65"/>
<circle cx="551.8" cy="78.3" r="1.65"/>
<circle cx="416.6" cy="156.8" r="1.65"/>
<circle cx="579.6" cy="102.3" r="1.65"/>
<circle cx="512.9" cy="93.9" r="1.65"/>
<circle cx="465.6" cy="135.2" r="1.65"/>
<circle cx="631.9" cy="63.5" r="1.65"/>
<circle cx="569.4" cy="93.5" r="1.65"/>
<circle cx="498.4" cy="115.2" r="1.65"/>
<circle cx="433.9" cy="147.1" r="1.65"/>
<circle cx="534.4" cy="105" r="1.65"/>
<circle cx="591.4" cy="76.8" r="1.65"/>
<circle cx="539.1" cy="95.2" r="1.65"/>
<circle cx="491.6" cy="135.6" r="1.65"/>
<circle cx="430.3" cy="174.1" r="1.65"/>
<circle cx="467.4" cy="138.5" r="1.65"/>
<circle cx="595.1" cy="83.2" r="1.65"/>
<circle cx="446.7" cy="148.5" r="1.65"/>
<circle cx="639" cy="76.5" r="1.65"/>
<circle cx="583" cy="97.9" r="1.65"/>
<circle cx="514.9" cy="115.8" r="1.65"/>
<circle cx="456.5" cy="135.9" r="1.65"/>
<circle cx="529.1" cy="124.5" r="1.65"/>
<circle cx="631.1" cy="71.3" r="1.65"/>
<circle cx="432.5" cy="138" r="1.65"/>
<circle cx="473.3" cy="129" r="1.65"/>
<circle cx="416.7" cy="172" r="1.65"/>
<circle cx="581.9" cy="90" r="1.65"/>
<circle cx="630.7" cy="65.4" r="1.65"/>
<circle cx="548.4" cy="84.6" r="1.65"/>
<circle cx="488.4" cy="143.8" r="1.65"/>
<circle cx="634.1" cy="51.8" r="1.65"/>
<circle cx="554.5" cy="99.4" r="1.65"/>
<circle cx="633.1" cy="60.7" r="1.65"/>
<circle cx="507.7" cy="105.2" r="1.65"/>
<circle cx="441.9" cy="152.7" r="1.65"/>
<circle cx="414.1" cy="164.2" r="1.65"/>
<circle cx="480" cy="125.8" r="1.65"/>
<circle cx="521.8" cy="97.9" r="1.65"/>
<circle cx="589.8" cy="90.5" r="1.65"/>
<circle cx="529.8" cy="121.7" r="1.65"/>
<circle cx="480.6" cy="134.2" r="1.65"/>
<circle cx="618.2" cy="63" r="1.65"/>
<circle cx="552.5" cy="77.8" r="1.65"/>
<circle cx="557.7" cy="99.3" r="1.65"/>
<circle cx="601" cy="83.2" r="1.65"/>
<circle cx="571.4" cy="90.6" r="1.65"/>
<circle cx="472.7" cy="129.8" r="1.65"/>
<circle cx="631.2" cy="76.2" r="1.65"/>
<circle cx="447.3" cy="142.9" r="1.65"/>
<circle cx="447" cy="132.8" r="1.65"/>
<circle cx="567" cy="87.6" r="1.65"/>
<circle cx="553.7" cy="92.6" r="1.65"/>
<circle cx="469" cy="144.6" r="1.65"/>
<circle cx="577.7" cy="94.3" r="1.65"/>
<circle cx="425.3" cy="158.7" r="1.65"/>
<circle cx="531.2" cy="89.4" r="1.65"/>
<circle cx="629.6" cy="39.4" r="1.65"/>
<circle cx="617.1" cy="64.4" r="1.65"/>
<circle cx="557.9" cy="69.6" r="1.65"/>
<circle cx="595.7" cy="84.8" r="1.65"/>
<circle cx="569.8" cy="92.7" r="1.65"/>
<circle cx="470.2" cy="148.3" r="1.65"/>
<circle cx="608.9" cy="69.9" r="1.65"/>
<circle cx="559.4" cy="98.1" r="1.65"/>
<circle cx="556.3" cy="90.8" r="1.65"/>
<circle cx="631.3" cy="56.6" r="1.65"/>
<circle cx="548.9" cy="98.2" r="1.65"/>
<circle cx="495.8" cy="132.8" r="1.65"/>
<circle cx="519.3" cy="110" r="1.65"/>
<circle cx="548.2" cy="96" r="1.65"/>
<circle cx="611.8" cy="73" r="1.65"/>
<circle cx="605.5" cy="61.1" r="1.65"/>
<circle cx="513.6" cy="114.8" r="1.65"/>
<circle cx="534.1" cy="105.4" r="1.65"/>
<circle cx="406.1" cy="133.1" r="1.65"/>
<circle cx="565" cy="72.7" r="1.65"/>
<circle cx="597.5" cy="80.7" r="1.65"/>
<circle cx="459.3" cy="147.6" r="1.65"/>
<circle cx="564.3" cy="96.4" r="1.65"/>
<circle cx="440" cy="134" r="1.65"/>
<circle cx="604.8" cy="57.3" r="1.65"/>
<circle cx="583.3" cy="88" r="1.65"/>
<circle cx="626.4" cy="64.2" r="1.65"/>
<circle cx="484.7" cy="127" r="1.65"/>
<circle cx="450.4" cy="133.6" r="1.65"/>
<circle cx="551.3" cy="98.9" r="1.65"/>
<circle cx="409.3" cy="168.9" r="1.65"/>
<circle cx="601.2" cy="54.5" r="1.65"/>
<circle cx="461.4" cy="131.1" r="1.65"/>
<circle cx="437.6" cy="123.2" r="1.65"/>
<circle cx="442.8" cy="145.7" r="1.65"/>
<circle cx="577.9" cy="80.7" r="1.65"/>
<circle cx="405.9" cy="147.5" r="1.65"/>
<circle cx="519.2" cy="130.2" r="1.65"/>
<circle cx="454.1" cy="154.7" r="1.65"/>
<circle cx="593.2" cy="64" r="1.65"/>
<circle cx="407.8" cy="154" r="1.65"/>
<circle cx="458.9" cy="160.5" r="1.65"/>
<circle cx="591.5" cy="92.2" r="1.65"/>
<circle cx="539.9" cy="112.7" r="1.65"/>
<circle cx="431.1" cy="151.3" r="1.65"/>
<circle cx="641.9" cy="35.2" r="1.65"/>
<circle cx="507.2" cy="121.4" r="1.65"/>
<circle cx="518.7" cy="112.1" r="1.65"/>
<circle cx="585.5" cy="93.8" r="1.65"/>
<circle cx="534.9" cy="80.3" r="1.65"/>
<circle cx="602.9" cy="54.8" r="1.65"/>
<circle cx="544.1" cy="78.5" r="1.65"/>
<circle cx="473.9" cy="100.6" r="1.65"/>
<circle cx="544.1" cy="82.5" r="1.65"/>
<circle cx="604.7" cy="47.7" r="1.65"/>
<circle cx="483.7" cy="146.7" r="1.65"/>
<circle cx="564.3" cy="101.2" r="1.65"/>
<circle cx="553.1" cy="86.3" r="1.65"/>
<circle cx="575.8" cy="81.8" r="1.65"/>
<circle cx="504.5" cy="105.2" r="1.65"/>
<circle cx="468.3" cy="136" r="1.65"/>
<circle cx="570.1" cy="67.7" r="1.65"/>
<circle cx="606.6" cy="61.2" r="1.65"/>
<circle cx="530.4" cy="91.6" r="1.65"/>
<circle cx="438.8" cy="132.1" r="1.65"/>
<circle cx="597.8" cy="56.9" r="1.65"/>
<circle cx="542.5" cy="93.9" r="1.65"/>
<circle cx="573.7" cy="93.4" r="1.65"/>
<circle cx="426" cy="142.5" r="1.65"/>
<circle cx="594" cy="76.8" r="1.65"/>
<circle cx="507.5" cy="131.1" r="1.65"/>
<circle cx="615.8" cy="65.3" r="1.65"/>
<circle cx="474.5" cy="125.3" r="1.65"/>
<circle cx="386.3" cy="163.4" r="1.65"/>
<circle cx="494.1" cy="124.3" r="1.65"/>
<circle cx="582" cy="73.8" r="1.65"/>
<circle cx="581.2" cy="71.2" r="1.65"/>
<circle cx="606.6" cy="86.1" r="1.65"/>
<circle cx="463.4" cy="126.7" r="1.65"/>
<circle cx="555.9" cy="80.5" r="1.65"/>
<circle cx="415.2" cy="141" r="1.65"/>
<circle cx="467.6" cy="142.6" r="1.65"/>
<circle cx="404.4" cy="168.8" r="1.65"/>
<circle cx="563" cy="88.7" r="1.65"/>
<circle cx="617" cy="84.6" r="1.65"/>
<circle cx="557.4" cy="102.9" r="1.65"/>
<circle cx="557.7" cy="102.6" r="1.65"/>
<circle cx="618.9" cy="56.4" r="1.65"/>
<circle cx="496.8" cy="122.6" r="1.65"/>
<circle cx="548.4" cy="96.3" r="1.65"/>
<circle cx="598.9" cy="93.6" r="1.65"/>
<circle cx="458.2" cy="141.3" r="1.65"/>
<circle cx="577.8" cy="108.9" r="1.65"/>
<circle cx="416.8" cy="164.5" r="1.65"/>
<circle cx="506.8" cy="117.3" r="1.65"/>
<circle cx="455.2" cy="135.6" r="1.65"/>
<circle cx="521.7" cy="120.8" r="1.65"/>
<circle cx="461.4" cy="143.6" r="1.65"/>
<circle cx="410.7" cy="165.8" r="1.65"/>
<circle cx="524.4" cy="105" r="1.65"/>
<circle cx="511.8" cy="115" r="1.65"/>
<circle cx="584" cy="102.2" r="1.65"/>
<circle cx="390.5" cy="156.1" r="1.65"/>
<circle cx="564.3" cy="100.4" r="1.65"/>
<circle cx="403.8" cy="152.8" r="1.65"/>
<circle cx="533.5" cy="114.1" r="1.65"/>
<circle cx="393.5" cy="159.7" r="1.65"/>
<circle cx="620.6" cy="71.3" r="1.65"/>
<circle cx="533.9" cy="101.5" r="1.65"/>
<circle cx="531.6" cy="96.7" r="1.65"/>
<circle cx="414.5" cy="146.7" r="1.65"/>
<circle cx="594.4" cy="77.7" r="1.65"/>
<circle cx="479.8" cy="122.4" r="1.65"/>
<circle cx="530.1" cy="119.9" r="1.65"/>
<circle cx="581.6" cy="86.5" r="1.65"/>
<circle cx="595.3" cy="85.4" r="1.65"/>
<circle cx="510.8" cy="116.6" r="1.65"/>
<circle cx="410.4" cy="134.8" r="1.65"/>
<circle cx="640.5" cy="52.5" r="1.65"/>
<circle cx="476.6" cy="111.4" r="1.65"/>
<circle cx="402.9" cy="162.2" r="1.65"/>
<circle cx="561.2" cy="84.6" r="1.65"/>
<circle cx="612.1" cy="49.1" r="1.65"/>
<circle cx="421" cy="142.1" r="1.65"/>
<circle cx="404.4" cy="153" r="1.65"/>
<circle cx="572.6" cy="86" r="1.65"/>
<circle cx="551.6" cy="107.3" r="1.65"/>
<circle cx="477.7" cy="138.5" r="1.65"/>
<circle cx="479.4" cy="145.6" r="1.65"/>
<circle cx="590.6" cy="73.7" r="1.65"/>
<circle cx="393.8" cy="165.7" r="1.65"/>
<circle cx="472.4" cy="137.8" r="1.65"/>
<circle cx="505.1" cy="111.3" r="1.65"/>
<circle cx="591.9" cy="90.1" r="1.65"/>
<circle cx="492.8" cy="105" r="1.65"/>
<circle cx="407.9" cy="130" r="1.65"/>
<circle cx="585.8" cy="74.6" r="1.65"/>
<circle cx="574.8" cy="96.9" r="1.65"/>
<circle cx="435.5" cy="167" r="1.65"/>
<circle cx="582.8" cy="43.7" r="1.65"/>
<circle cx="561.8" cy="83.8" r="1.65"/>
<circle cx="506.4" cy="128.6" r="1.65"/>
<circle cx="552.8" cy="78.8" r="1.65"/>
<circle cx="537.2" cy="122.2" r="1.65"/>
<circle cx="595.7" cy="86.7" r="1.65"/>
<circle cx="630.8" cy="67.8" r="1.65"/>
<circle cx="499.7" cy="121.5" r="1.65"/>
<circle cx="421.9" cy="166.7" r="1.65"/>
<circle cx="505.6" cy="120.5" r="1.65"/>
<circle cx="557" cy="86.4" r="1.65"/>
<circle cx="477" cy="124.8" r="1.65"/>
<circle cx="445.1" cy="162.9" r="1.65"/>
<circle cx="463.8" cy="140" r="1.65"/>
<circle cx="606.8" cy="70.7" r="1.65"/>
<circle cx="580" cy="67" r="1.65"/>
<circle cx="434.9" cy="147.4" r="1.65"/>
<circle cx="488.9" cy="115.2" r="1.65"/>
<circle cx="481.1" cy="128.4" r="1.65"/>
<circle cx="430.1" cy="136.2" r="1.65"/>
<circle cx="604.8" cy="62.6" r="1.65"/>
<circle cx="486.1" cy="130.1" r="1.65"/>
<circle cx="550.1" cy="102.4" r="1.65"/>
<circle cx="509.9" cy="125.6" r="1.65"/>
<circle cx="414.1" cy="144" r="1.65"/>
<circle cx="400.6" cy="167" r="1.65"/>
<circle cx="576.1" cy="95.9" r="1.65"/>
<circle cx="562.8" cy="82.5" r="1.65"/>
<circle cx="534.9" cy="97.4" r="1.65"/>
<circle cx="452.7" cy="143.8" r="1.65"/>
<circle cx="499.6" cy="119" r="1.65"/>
<circle cx="538.1" cy="104.7" r="1.65"/>
<circle cx="465" cy="122.6" r="1.65"/>
<circle cx="552.4" cy="82.4" r="1.65"/>
<circle cx="604.9" cy="36" r="1.65"/>
<circle cx="452.9" cy="122.4" r="1.65"/>
<circle cx="625.6" cy="54.5" r="1.65"/>
<circle cx="538.2" cy="97.4" r="1.65"/>
<circle cx="638" cy="46.1" r="1.65"/>
<circle cx="635.2" cy="75.9" r="1.65"/>
<circle cx="411.7" cy="149.5" r="1.65"/>
<circle cx="573.6" cy="60.8" r="1.65"/>
<circle cx="473.2" cy="138.8" r="1.65"/>
<circle cx="561.4" cy="75.1" r="1.65"/>
<circle cx="615.7" cy="62.9" r="1.65"/>
<circle cx="527.5" cy="107.1" r="1.65"/>
<circle cx="567.8" cy="98.3" r="1.65"/>
<circle cx="570.8" cy="100.6" r="1.65"/>
<circle cx="456.1" cy="109.4" r="1.65"/>
<circle cx="520.1" cy="91.4" r="1.65"/>
<circle cx="486.6" cy="119.2" r="1.65"/>
<circle cx="532.9" cy="99.5" r="1.65"/>
<circle cx="589.6" cy="92.7" r="1.65"/>
<circle cx="441.7" cy="168.6" r="1.65"/>
<circle cx="547.7" cy="120.9" r="1.65"/>
<circle cx="537.5" cy="107.9" r="1.65"/>
<circle cx="510.5" cy="115.4" r="1.65"/>
<circle cx="605.4" cy="95.1" r="1.65"/>
<circle cx="502" cy="105.2" r="1.65"/>
<circle cx="597" cy="67.4" r="1.65"/>
<circle cx="414.4" cy="149.6" r="1.65"/>
<circle cx="523.2" cy="127.7" r="1.65"/>
<circle cx="428.8" cy="147.9" r="1.65"/>
<circle cx="606.4" cy="75.6" r="1.65"/>
<circle cx="570.1" cy="106.4" r="1.65"/>
<circle cx="463.9" cy="104.7" r="1.65"/>
<circle cx="507.5" cy="105.8" r="1.65"/>
<circle cx="435.4" cy="147.5" r="1.65"/>
<circle cx="614.7" cy="38" r="1.65"/>
<circle cx="616.4" cy="47.8" r="1.65"/>
<circle cx="616.3" cy="61.6" r="1.65"/>
<circle cx="558.3" cy="87.8" r="1.65"/>
<circle cx="619.7" cy="19.3" r="1.65"/>
<circle cx="640.4" cy="31.2" r="1.65"/>
<circle cx="667.1" cy="88.1" r="1.65"/>
<circle cx="646.8" cy="56" r="1.65"/>
<circle cx="456" cy="98" r="1.65"/>
<circle cx="500.4" cy="84.6" r="1.65"/>
<circle cx="507.4" cy="79" r="1.65"/>
<circle cx="496.6" cy="93" r="1.65"/>
<circle cx="559.4" cy="126.3" r="1.65"/>
<circle cx="587.3" cy="125" r="1.65"/>
<circle cx="600" cy="130" r="1.65"/>
<circle cx="603.9" cy="127.6" r="1.65"/>
<circle cx="526.2" cy="146.8" r="1.65"/>
<circle cx="613.6" cy="113.3" r="1.65"/>
<circle cx="531.8" cy="133.2" r="1.65"/>
<circle cx="526" cy="132.4" r="1.65"/>
<circle cx="507" cy="141.6" r="1.65"/>
<circle cx="417" cy="185" r="1.65"/>
<circle cx="420.7" cy="179" r="1.65"/>
<circle cx="396.5" cy="177.6" r="1.65"/>
<circle cx="431.4" cy="173" r="1.65"/>
<circle cx="435.5" cy="171" r="1.65"/>
<circle cx="446.6" cy="169.3" r="1.65"/>
<circle cx="455.9" cy="168.2" r="1.65"/>
<circle cx="393.1" cy="168.9" r="1.65"/>
<circle cx="395.2" cy="170.2" r="1.65"/>
<circle cx="397.2" cy="168.9" r="1.65"/>
<circle cx="399.2" cy="170.9" r="1.65"/>
<circle cx="401.2" cy="169.5" r="1.65"/>
<circle cx="395.2" cy="172.2" r="1.65"/>
<circle cx="397.8" cy="172.9" r="1.65"/>
<circle cx="391.1" cy="161.5" r="1.65"/>
<circle cx="385.8" cy="164.2" r="1.65"/>
</g>
<g fill="none" stroke="#111" stroke-width="1.35" clip-path="url(#cB)">
<path d="M385.4 145 L416.8 130.8 L438.6 119.6 L450.5 115.4 L465 110.1 L490 99.8 L515 89.4 L538.3 79.7 L560 69.2 L571 60.5 L593 47 L604 41.6 L645 35.3" stroke-dasharray="5.2 3.7"/>
<path d="M385.4 167.7 L413 152.4 L448 134.4 L454 134.4 L461 133 L477 125 L496 116.4 L503 117 L510 114 L529 104 L551 93 L560 90.5 L587.6 83 L612.6 72.5 L638.4 61.6 L646.7 68.9"/>
<path d="M384.4 176.5 L395.8 176 L418.7 173.6 L433.4 168.2 L444.2 161.5 L465 153.4 L482.2 144.9 L515 127.5 L538.3 119.5 L565 111.7 L586.3 104.7 L608.6 100 L617.8 90.9 L627.7 82.3 L633.6 82.3 L644 84.6" stroke-dasharray="1.7 2.6"/>
</g>
<path d="M374.1 186.4 h3 M374.1 162.5 h3 M374.1 138.7 h3 M374.1 114.8 h3 M374.1 91 h3 M374.1 67.1 h3 M374.1 43.2 h3 M374.1 19.4 h3 M396.6 190.7 v-3 M489.2 190.7 v-3 M581.8 190.7 v-3 M674.4 190.7 v-3" stroke="#222" stroke-width="1" fill="none"/>
<rect x="373.3" y="12.6" width="304.9" height="178.9" fill="none" stroke="#1a1a1a" stroke-width="1.4"/>
<g font-family="&quot;Liberation Sans&quot;, sans-serif" font-size="11.4" fill="#111" stroke="#111" stroke-width="0.2">
<text transform="translate(369.7 190.9) scale(1 1.09)" text-anchor="end">4</text>
<text transform="translate(369.7 167) scale(1 1.09)" text-anchor="end">6</text>
<text transform="translate(369.7 143.2) scale(1 1.09)" text-anchor="end">8</text>
<text transform="translate(369.7 119.3) scale(1 1.09)" text-anchor="end">10</text>
<text transform="translate(369.7 95.5) scale(1 1.09)" text-anchor="end">12</text>
<text transform="translate(369.7 71.6) scale(1 1.09)" text-anchor="end">14</text>
<text transform="translate(369.7 47.7) scale(1 1.09)" text-anchor="end">16</text>
<text transform="translate(369.7 23.9) scale(1 1.09)" text-anchor="end">18</text>
<text transform="translate(396.6 206.6) scale(1 1.09)" text-anchor="middle">50</text>
<text transform="translate(489.2 206.6) scale(1 1.09)" text-anchor="middle">100</text>
<text transform="translate(581.8 206.6) scale(1 1.09)" text-anchor="middle">150</text>
<text transform="translate(674.4 206.6) scale(1 1.09)" text-anchor="middle">200</text>
</g>
<text transform="translate(373.1 10.2) scale(1 1.09)" font-family="&quot;Liberation Sans&quot;, sans-serif" font-size="11.5" font-weight="bold" fill="#111" stroke="#111" stroke-width="0.3">B</text>
<path d="M38.9 423.5 H344 M38.9 399.6 H344 M38.9 375.8 H344 M38.9 351.9 H344 M38.9 328.1 H344 M38.9 304.2 H344 M38.9 280.3 H344 M38.9 256.5 H344" stroke="#c4c4c4" stroke-width="1" stroke-dasharray="1.8 2.5" stroke-dashoffset="-0.2" fill="none"/>
<path d="M43.6 249.7 V428.6 M103.8 249.7 V428.6 M164.1 249.7 V428.6 M224.3 249.7 V428.6 M284.6 249.7 V428.6" stroke="#c4c4c4" stroke-width="1" stroke-dasharray="1.8 2.5" stroke-dashoffset="-1.75" fill="none"/>
<g fill="#bababa" clip-path="url(#cC)">
<circle cx="197.1" cy="307.6" r="1.65"/>
<circle cx="91.9" cy="331.2" r="1.65"/>
<circle cx="222.7" cy="315.1" r="1.65"/>
<circle cx="75.1" cy="384.5" r="1.65"/>
<circle cx="141.5" cy="324.4" r="1.65"/>
<circle cx="79.4" cy="385.5" r="1.65"/>
<circle cx="139.3" cy="319.8" r="1.65"/>
<circle cx="181.6" cy="290.8" r="1.65"/>
<circle cx="221" cy="299.6" r="1.65"/>
<circle cx="173.3" cy="326.7" r="1.65"/>
<circle cx="69" cy="380.3" r="1.65"/>
<circle cx="150.7" cy="317.1" r="1.65"/>
<circle cx="86.2" cy="346.7" r="1.65"/>
<circle cx="115" cy="345.4" r="1.65"/>
<circle cx="68.9" cy="384.7" r="1.65"/>
<circle cx="105.3" cy="330.2" r="1.65"/>
<circle cx="144.2" cy="322.6" r="1.65"/>
<circle cx="65.7" cy="378.8" r="1.65"/>
<circle cx="129.5" cy="324.3" r="1.65"/>
<circle cx="224.4" cy="327.9" r="1.65"/>
<circle cx="118.3" cy="338.7" r="1.65"/>
<circle cx="90.1" cy="344.7" r="1.65"/>
<circle cx="76.3" cy="371.7" r="1.65"/>
<circle cx="108.4" cy="344.8" r="1.65"/>
<circle cx="98.7" cy="345.7" r="1.65"/>
<circle cx="152.9" cy="318" r="1.65"/>
<circle cx="166.4" cy="334.6" r="1.65"/>
<circle cx="153.9" cy="321.6" r="1.65"/>
<circle cx="172" cy="282.2" r="1.65"/>
<circle cx="182.9" cy="315.8" r="1.65"/>
<circle cx="161.8" cy="315.6" r="1.65"/>
<circle cx="81.2" cy="390.7" r="1.65"/>
<circle cx="127.3" cy="318" r="1.65"/>
<circle cx="98.3" cy="339.8" r="1.65"/>
<circle cx="61.2" cy="379.3" r="1.65"/>
<circle cx="137.7" cy="331" r="1.65"/>
<circle cx="69" cy="374.2" r="1.65"/>
<circle cx="150.8" cy="325.6" r="1.65"/>
<circle cx="120.1" cy="325.7" r="1.65"/>
<circle cx="60.5" cy="389.6" r="1.65"/>
<circle cx="102.3" cy="336.6" r="1.65"/>
<circle cx="121.7" cy="360.7" r="1.65"/>
<circle cx="81.1" cy="369.7" r="1.65"/>
<circle cx="249.1" cy="309.7" r="1.65"/>
<circle cx="261.2" cy="288.9" r="1.65"/>
<circle cx="64.5" cy="387.7" r="1.65"/>
<circle cx="159.5" cy="338.8" r="1.65"/>
<circle cx="103.2" cy="351.1" r="1.65"/>
<circle cx="200.2" cy="332.4" r="1.65"/>
<circle cx="252.7" cy="317.4" r="1.65"/>
<circle cx="114.1" cy="347.1" r="1.65"/>
<circle cx="138.8" cy="354.2" r="1.65"/>
<circle cx="95.1" cy="369.7" r="1.65"/>
<circle cx="145.9" cy="295.2" r="1.65"/>
<circle cx="290.3" cy="303.7" r="1.65"/>
<circle cx="90.8" cy="345.6" r="1.65"/>
<circle cx="55.3" cy="410.9" r="1.65"/>
<circle cx="275" cy="303.8" r="1.65"/>
<circle cx="55" cy="389.8" r="1.65"/>
<circle cx="151.3" cy="327.2" r="1.65"/>
<circle cx="127.7" cy="341.6" r="1.65"/>
<circle cx="100" cy="351.3" r="1.65"/>
<circle cx="248.3" cy="306" r="1.65"/>
<circle cx="66.4" cy="372.6" r="1.65"/>
<circle cx="79.9" cy="352.5" r="1.65"/>
<circle cx="198.3" cy="340.9" r="1.65"/>
<circle cx="51.6" cy="419.9" r="1.65"/>
<circle cx="82.6" cy="365.9" r="1.65"/>
<circle cx="72.1" cy="373.7" r="1.65"/>
<circle cx="102.3" cy="337.5" r="1.65"/>
<circle cx="165.1" cy="302.4" r="1.65"/>
<circle cx="262.4" cy="320" r="1.65"/>
<circle cx="80.5" cy="343.1" r="1.65"/>
<circle cx="52.8" cy="393.2" r="1.65"/>
<circle cx="166.8" cy="350.5" r="1.65"/>
<circle cx="237.2" cy="289.9" r="1.65"/>
<circle cx="53.1" cy="393" r="1.65"/>
<circle cx="134.5" cy="324.7" r="1.65"/>
<circle cx="130.4" cy="360.2" r="1.65"/>
<circle cx="123.2" cy="340" r="1.65"/>
<circle cx="137.2" cy="325.6" r="1.65"/>
<circle cx="84.4" cy="363.5" r="1.65"/>
<circle cx="229" cy="297" r="1.65"/>
<circle cx="78" cy="354.4" r="1.65"/>
<circle cx="257.8" cy="275.7" r="1.65"/>
<circle cx="261.8" cy="279.7" r="1.65"/>
<circle cx="199.3" cy="316.1" r="1.65"/>
<circle cx="97.7" cy="331.1" r="1.65"/>
<circle cx="259" cy="299.2" r="1.65"/>
<circle cx="77.3" cy="359.3" r="1.65"/>
<circle cx="112.6" cy="343.4" r="1.65"/>
<circle cx="114.7" cy="365.1" r="1.65"/>
<circle cx="68.7" cy="414.2" r="1.65"/>
<circle cx="286.5" cy="293.9" r="1.65"/>
<circle cx="73.4" cy="383.9" r="1.65"/>
<circle cx="110.8" cy="339.8" r="1.65"/>
<circle cx="62.3" cy="377.2" r="1.65"/>
<circle cx="84.7" cy="389.3" r="1.65"/>
<circle cx="198.8" cy="350.3" r="1.65"/>
<circle cx="149.2" cy="320.8" r="1.65"/>
<circle cx="94.8" cy="348.1" r="1.65"/>
<circle cx="142.1" cy="331.3" r="1.65"/>
<circle cx="72.2" cy="382.5" r="1.65"/>
<circle cx="144.5" cy="353.3" r="1.65"/>
<circle cx="226.8" cy="313.6" r="1.65"/>
<circle cx="53" cy="404.9" r="1.65"/>
<circle cx="86.9" cy="353.9" r="1.65"/>
<circle cx="81.9" cy="353.1" r="1.65"/>
<circle cx="62.6" cy="394.3" r="1.65"/>
<circle cx="240.2" cy="300.2" r="1.65"/>
<circle cx="151.7" cy="321.4" r="1.65"/>
<circle cx="134.7" cy="318.7" r="1.65"/>
<circle cx="134.1" cy="307.2" r="1.65"/>
<circle cx="147.6" cy="315.2" r="1.65"/>
<circle cx="85.1" cy="352.6" r="1.65"/>
<circle cx="75.7" cy="361.8" r="1.65"/>
<circle cx="61.2" cy="394.2" r="1.65"/>
<circle cx="70.5" cy="376" r="1.65"/>
<circle cx="75.4" cy="366.5" r="1.65"/>
<circle cx="185.5" cy="291.8" r="1.65"/>
<circle cx="89.5" cy="342.7" r="1.65"/>
<circle cx="97.7" cy="325" r="1.65"/>
<circle cx="166" cy="339.3" r="1.65"/>
<circle cx="273.1" cy="302.3" r="1.65"/>
<circle cx="64.4" cy="408.8" r="1.65"/>
<circle cx="129.1" cy="341.4" r="1.65"/>
<circle cx="101.8" cy="376.5" r="1.65"/>
<circle cx="73.5" cy="360.7" r="1.65"/>
<circle cx="91.7" cy="346.5" r="1.65"/>
<circle cx="180.3" cy="337.6" r="1.65"/>
<circle cx="83.2" cy="358.2" r="1.65"/>
<circle cx="124.1" cy="325.6" r="1.65"/>
<circle cx="107.2" cy="321.4" r="1.65"/>
<circle cx="53.7" cy="386.3" r="1.65"/>
<circle cx="212.1" cy="310.5" r="1.65"/>
<circle cx="213.1" cy="314.9" r="1.65"/>
<circle cx="201.1" cy="300.6" r="1.65"/>
<circle cx="104.3" cy="340.3" r="1.65"/>
<circle cx="103.5" cy="353.6" r="1.65"/>
<circle cx="147.7" cy="345.9" r="1.65"/>
<circle cx="286.6" cy="275.4" r="1.65"/>
<circle cx="113.8" cy="352.3" r="1.65"/>
<circle cx="86.6" cy="363.8" r="1.65"/>
<circle cx="110.1" cy="330.8" r="1.65"/>
<circle cx="126.2" cy="333.9" r="1.65"/>
<circle cx="137.8" cy="311.3" r="1.65"/>
<circle cx="254.5" cy="332.1" r="1.65"/>
<circle cx="127.4" cy="321.1" r="1.65"/>
<circle cx="195.3" cy="341.4" r="1.65"/>
<circle cx="109.7" cy="369.6" r="1.65"/>
<circle cx="106.9" cy="361.9" r="1.65"/>
<circle cx="235.5" cy="307.2" r="1.65"/>
<circle cx="85.1" cy="372.8" r="1.65"/>
<circle cx="87.2" cy="384.6" r="1.65"/>
<circle cx="121.7" cy="321.4" r="1.65"/>
<circle cx="65.4" cy="397" r="1.65"/>
<circle cx="71.6" cy="376.2" r="1.65"/>
<circle cx="116.6" cy="333.8" r="1.65"/>
<circle cx="140.1" cy="335.6" r="1.65"/>
<circle cx="281.4" cy="291.7" r="1.65"/>
<circle cx="65.5" cy="376" r="1.65"/>
<circle cx="56.9" cy="395.5" r="1.65"/>
<circle cx="151.5" cy="308.3" r="1.65"/>
<circle cx="229.9" cy="323.4" r="1.65"/>
<circle cx="63" cy="400.8" r="1.65"/>
<circle cx="86.6" cy="356.5" r="1.65"/>
<circle cx="149.7" cy="341.1" r="1.65"/>
<circle cx="140.2" cy="321.5" r="1.65"/>
<circle cx="216.8" cy="315.1" r="1.65"/>
<circle cx="145.2" cy="333.7" r="1.65"/>
<circle cx="259.3" cy="293.1" r="1.65"/>
<circle cx="86.1" cy="353.5" r="1.65"/>
<circle cx="167.9" cy="326.2" r="1.65"/>
<circle cx="129.6" cy="329.2" r="1.65"/>
<circle cx="98.6" cy="343.8" r="1.65"/>
<circle cx="160.4" cy="331.4" r="1.65"/>
<circle cx="205.6" cy="336.9" r="1.65"/>
<circle cx="127.7" cy="330.4" r="1.65"/>
<circle cx="159" cy="311.3" r="1.65"/>
<circle cx="101.1" cy="384.7" r="1.65"/>
<circle cx="212.3" cy="343.6" r="1.65"/>
<circle cx="97.4" cy="360.9" r="1.65"/>
<circle cx="136.5" cy="339.2" r="1.65"/>
<circle cx="130.8" cy="318.7" r="1.65"/>
<circle cx="116.1" cy="357.9" r="1.65"/>
<circle cx="241.9" cy="305.4" r="1.65"/>
<circle cx="155.5" cy="338.3" r="1.65"/>
<circle cx="129.6" cy="325.1" r="1.65"/>
<circle cx="158.2" cy="312.1" r="1.65"/>
<circle cx="157" cy="301.8" r="1.65"/>
<circle cx="90.6" cy="354.3" r="1.65"/>
<circle cx="88.8" cy="345.8" r="1.65"/>
<circle cx="133.6" cy="323.6" r="1.65"/>
<circle cx="68.7" cy="385.9" r="1.65"/>
<circle cx="190.7" cy="285.4" r="1.65"/>
<circle cx="175.6" cy="329.6" r="1.65"/>
<circle cx="140.3" cy="324.6" r="1.65"/>
<circle cx="90.8" cy="346" r="1.65"/>
<circle cx="280.6" cy="321.2" r="1.65"/>
<circle cx="166.8" cy="315.8" r="1.65"/>
<circle cx="212.9" cy="324.4" r="1.65"/>
<circle cx="160" cy="325" r="1.65"/>
<circle cx="123.8" cy="363.4" r="1.65"/>
<circle cx="85" cy="357.9" r="1.65"/>
<circle cx="73.4" cy="399.2" r="1.65"/>
<circle cx="193.1" cy="306.3" r="1.65"/>
<circle cx="136" cy="323" r="1.65"/>
<circle cx="79.7" cy="356.5" r="1.65"/>
<circle cx="76.6" cy="346.5" r="1.65"/>
<circle cx="111.9" cy="372" r="1.65"/>
<circle cx="138.9" cy="349.3" r="1.65"/>
<circle cx="173.2" cy="337.1" r="1.65"/>
<circle cx="110.9" cy="350.9" r="1.65"/>
<circle cx="81.2" cy="354.6" r="1.65"/>
<circle cx="148.6" cy="330.7" r="1.65"/>
<circle cx="67.5" cy="389.1" r="1.65"/>
<circle cx="72.4" cy="392.8" r="1.65"/>
<circle cx="95.7" cy="363.1" r="1.65"/>
<circle cx="124.4" cy="342.3" r="1.65"/>
<circle cx="53.8" cy="397.6" r="1.65"/>
<circle cx="68.2" cy="401.6" r="1.65"/>
<circle cx="156.7" cy="324.6" r="1.65"/>
<circle cx="100.9" cy="340.6" r="1.65"/>
<circle cx="106" cy="338.4" r="1.65"/>
<circle cx="109.6" cy="364.9" r="1.65"/>
<circle cx="72.8" cy="365" r="1.65"/>
<circle cx="270.7" cy="286.1" r="1.65"/>
<circle cx="244.6" cy="301.7" r="1.65"/>
<circle cx="138.8" cy="350" r="1.65"/>
<circle cx="63" cy="406.6" r="1.65"/>
<circle cx="151.2" cy="323.9" r="1.65"/>
<circle cx="190" cy="335.8" r="1.65"/>
<circle cx="91.1" cy="380.1" r="1.65"/>
<circle cx="70" cy="367.6" r="1.65"/>
<circle cx="162.1" cy="306.3" r="1.65"/>
<circle cx="139" cy="318" r="1.65"/>
<circle cx="98.4" cy="334.8" r="1.65"/>
<circle cx="86.3" cy="349.4" r="1.65"/>
<circle cx="247.9" cy="333.9" r="1.65"/>
<circle cx="62.4" cy="374.3" r="1.65"/>
<circle cx="88.1" cy="356.1" r="1.65"/>
<circle cx="110.7" cy="334.6" r="1.65"/>
<circle cx="129.5" cy="308.4" r="1.65"/>
<circle cx="81.8" cy="358.5" r="1.65"/>
<circle cx="130.5" cy="307.9" r="1.65"/>
<circle cx="65.5" cy="382.2" r="1.65"/>
<circle cx="119.1" cy="343" r="1.65"/>
<circle cx="62.2" cy="396.9" r="1.65"/>
<circle cx="98.1" cy="352.2" r="1.65"/>
<circle cx="158" cy="350.6" r="1.65"/>
<circle cx="75.6" cy="370.9" r="1.65"/>
<circle cx="70.2" cy="378.4" r="1.65"/>
<circle cx="271" cy="315.5" r="1.65"/>
<circle cx="103.4" cy="386.8" r="1.65"/>
<circle cx="58.8" cy="419.1" r="1.65"/>
<circle cx="102.9" cy="337.1" r="1.65"/>
<circle cx="83.7" cy="379.5" r="1.65"/>
<circle cx="193.5" cy="286.6" r="1.65"/>
<circle cx="221.5" cy="327.3" r="1.65"/>
<circle cx="173.2" cy="312.8" r="1.65"/>
<circle cx="147.9" cy="349.9" r="1.65"/>
<circle cx="126.1" cy="345" r="1.65"/>
<circle cx="58.9" cy="394.5" r="1.65"/>
<circle cx="142.4" cy="317.8" r="1.65"/>
<circle cx="97.7" cy="331.4" r="1.65"/>
<circle cx="84.8" cy="350.2" r="1.65"/>
<circle cx="125" cy="361.7" r="1.65"/>
<circle cx="80.3" cy="364.4" r="1.65"/>
<circle cx="287.4" cy="302.2" r="1.65"/>
<circle cx="131.2" cy="342.3" r="1.65"/>
<circle cx="169" cy="309.8" r="1.65"/>
<circle cx="65" cy="366.3" r="1.65"/>
<circle cx="56.2" cy="400.7" r="1.65"/>
<circle cx="72.5" cy="362.3" r="1.65"/>
<circle cx="73.8" cy="358.1" r="1.65"/>
<circle cx="122.4" cy="355.4" r="1.65"/>
<circle cx="143.6" cy="299.8" r="1.65"/>
<circle cx="229.8" cy="276" r="1.65"/>
<circle cx="63.4" cy="382.3" r="1.65"/>
<circle cx="113.6" cy="318.8" r="1.65"/>
<circle cx="144.4" cy="322.1" r="1.65"/>
<circle cx="101.6" cy="333.1" r="1.65"/>
<circle cx="60.6" cy="382" r="1.65"/>
<circle cx="63.6" cy="397.5" r="1.65"/>
<circle cx="52" cy="393.2" r="1.65"/>
<circle cx="89.4" cy="359.4" r="1.65"/>
<circle cx="71.1" cy="383.4" r="1.65"/>
<circle cx="260.4" cy="332.6" r="1.65"/>
<circle cx="138" cy="342.1" r="1.65"/>
<circle cx="63.8" cy="402.6" r="1.65"/>
<circle cx="145.8" cy="308.5" r="1.65"/>
<circle cx="114.7" cy="376.6" r="1.65"/>
<circle cx="198.9" cy="311.5" r="1.65"/>
<circle cx="74.3" cy="382" r="1.65"/>
<circle cx="92.5" cy="377.1" r="1.65"/>
<circle cx="112.2" cy="330.6" r="1.65"/>
<circle cx="115.8" cy="352.9" r="1.65"/>
<circle cx="69.1" cy="365.4" r="1.65"/>
<circle cx="198.9" cy="316.8" r="1.65"/>
<circle cx="70.8" cy="372.1" r="1.65"/>
<circle cx="108.3" cy="343.7" r="1.65"/>
<circle cx="125.7" cy="323.5" r="1.65"/>
<circle cx="104.7" cy="332.4" r="1.65"/>
<circle cx="91.8" cy="362.6" r="1.65"/>
<circle cx="160.8" cy="322.6" r="1.65"/>
<circle cx="117.9" cy="316.7" r="1.65"/>
<circle cx="150.2" cy="334.4" r="1.65"/>
<circle cx="173.3" cy="285.3" r="1.65"/>
<circle cx="245.1" cy="316.5" r="1.65"/>
<circle cx="112.8" cy="349.7" r="1.65"/>
<circle cx="101.8" cy="377.5" r="1.65"/>
<circle cx="242.6" cy="327.4" r="1.65"/>
<circle cx="271" cy="346.4" r="1.65"/>
<circle cx="218.4" cy="324.6" r="1.65"/>
<circle cx="76" cy="362.4" r="1.65"/>
<circle cx="236.5" cy="310.8" r="1.65"/>
<circle cx="141.5" cy="337.5" r="1.65"/>
<circle cx="117.6" cy="356.4" r="1.65"/>
<circle cx="67.7" cy="390.4" r="1.65"/>
<circle cx="71.3" cy="399.3" r="1.65"/>
<circle cx="215.1" cy="338.8" r="1.65"/>
<circle cx="85.6" cy="339.1" r="1.65"/>
<circle cx="110" cy="337.4" r="1.65"/>
<circle cx="103.2" cy="362.2" r="1.65"/>
<circle cx="97.5" cy="342.8" r="1.65"/>
<circle cx="102.9" cy="327.7" r="1.65"/>
<circle cx="84.6" cy="372.7" r="1.65"/>
<circle cx="231.8" cy="312.9" r="1.65"/>
<circle cx="116.3" cy="361.7" r="1.65"/>
<circle cx="86.1" cy="389.7" r="1.65"/>
<circle cx="77" cy="354.4" r="1.65"/>
<circle cx="187.1" cy="330.3" r="1.65"/>
<circle cx="182.6" cy="348.2" r="1.65"/>
<circle cx="195" cy="285.5" r="1.65"/>
<circle cx="130.8" cy="315.3" r="1.65"/>
<circle cx="90.5" cy="350.3" r="1.65"/>
<circle cx="76.9" cy="353.5" r="1.65"/>
<circle cx="95.9" cy="357.5" r="1.65"/>
<circle cx="62.8" cy="383.4" r="1.65"/>
<circle cx="84" cy="352.7" r="1.65"/>
<circle cx="92.6" cy="359.4" r="1.65"/>
<circle cx="65.9" cy="377.1" r="1.65"/>
<circle cx="70.1" cy="380.4" r="1.65"/>
<circle cx="66.4" cy="376.7" r="1.65"/>
<circle cx="98" cy="348" r="1.65"/>
<circle cx="246.6" cy="353.2" r="1.65"/>
<circle cx="266.6" cy="300.9" r="1.65"/>
<circle cx="64.4" cy="404.8" r="1.65"/>
<circle cx="130.7" cy="346.6" r="1.65"/>
<circle cx="51.3" cy="415.6" r="1.65"/>
<circle cx="146.1" cy="313.3" r="1.65"/>
<circle cx="137" cy="334.1" r="1.65"/>
<circle cx="116.1" cy="344.7" r="1.65"/>
<circle cx="84.3" cy="347.7" r="1.65"/>
<circle cx="108.6" cy="332.7" r="1.65"/>
<circle cx="56.5" cy="397.5" r="1.65"/>
<circle cx="143.4" cy="362.8" r="1.65"/>
<circle cx="178.7" cy="305.3" r="1.65"/>
<circle cx="62.3" cy="390.8" r="1.65"/>
<circle cx="298" cy="305.6" r="1.65"/>
<circle cx="73" cy="365.5" r="1.65"/>
<circle cx="240.4" cy="322.8" r="1.65"/>
<circle cx="280.7" cy="301.7" r="1.65"/>
<circle cx="102.7" cy="335.1" r="1.65"/>
<circle cx="203.5" cy="301.7" r="1.65"/>
<circle cx="124.4" cy="345.8" r="1.65"/>
<circle cx="83.7" cy="346.2" r="1.65"/>
<circle cx="151.1" cy="306.7" r="1.65"/>
<circle cx="94.1" cy="332.6" r="1.65"/>
<circle cx="70.3" cy="377.2" r="1.65"/>
<circle cx="176.4" cy="314.5" r="1.65"/>
<circle cx="74.5" cy="360.7" r="1.65"/>
<circle cx="251.1" cy="297.5" r="1.65"/>
<circle cx="75.5" cy="368.6" r="1.65"/>
<circle cx="89.6" cy="357.9" r="1.65"/>
<circle cx="187.1" cy="321.4" r="1.65"/>
<circle cx="201.4" cy="326.8" r="1.65"/>
<circle cx="99.6" cy="360.1" r="1.65"/>
<circle cx="133.6" cy="323.4" r="1.65"/>
<circle cx="256.9" cy="312.1" r="1.65"/>
<circle cx="85.8" cy="386.4" r="1.65"/>
<circle cx="83.2" cy="361.2" r="1.65"/>
<circle cx="64.6" cy="366" r="1.65"/>
<circle cx="151.6" cy="303.2" r="1.65"/>
<circle cx="152.2" cy="358.2" r="1.65"/>
<circle cx="66.7" cy="393.9" r="1.65"/>
<circle cx="160.1" cy="309.3" r="1.65"/>
<circle cx="85.5" cy="358.9" r="1.65"/>
<circle cx="115.8" cy="336.3" r="1.65"/>
<circle cx="124.4" cy="336.2" r="1.65"/>
<circle cx="128.4" cy="331" r="1.65"/>
<circle cx="122.7" cy="354.3" r="1.65"/>
<circle cx="99.3" cy="335.2" r="1.65"/>
<circle cx="154.7" cy="341.1" r="1.65"/>
<circle cx="76.8" cy="370.9" r="1.65"/>
<circle cx="216.8" cy="280.8" r="1.65"/>
<circle cx="97.8" cy="337.8" r="1.65"/>
<circle cx="176.9" cy="318.4" r="1.65"/>
<circle cx="133.3" cy="329.4" r="1.65"/>
<circle cx="106.6" cy="353.5" r="1.65"/>
<circle cx="110.2" cy="349.8" r="1.65"/>
<circle cx="118" cy="340.5" r="1.65"/>
<circle cx="102" cy="330.6" r="1.65"/>
<circle cx="124.3" cy="342.1" r="1.65"/>
<circle cx="110.3" cy="333.3" r="1.65"/>
<circle cx="204.7" cy="304.3" r="1.65"/>
<circle cx="82.4" cy="358.2" r="1.65"/>
<circle cx="170.2" cy="325" r="1.65"/>
<circle cx="101" cy="338.5" r="1.65"/>
<circle cx="208.3" cy="309.6" r="1.65"/>
<circle cx="197.8" cy="310.9" r="1.65"/>
<circle cx="61" cy="395" r="1.65"/>
<circle cx="247" cy="356.7" r="1.65"/>
<circle cx="191.4" cy="299.4" r="1.65"/>
<circle cx="143.5" cy="314.7" r="1.65"/>
<circle cx="74.7" cy="379.3" r="1.65"/>
<circle cx="199.8" cy="316.4" r="1.65"/>
<circle cx="130" cy="326.6" r="1.65"/>
<circle cx="79.2" cy="383.3" r="1.65"/>
<circle cx="140" cy="316.4" r="1.65"/>
<circle cx="66.4" cy="373.7" r="1.65"/>
<circle cx="154.3" cy="309.8" r="1.65"/>
<circle cx="74.8" cy="361.5" r="1.65"/>
<circle cx="87.6" cy="393.8" r="1.65"/>
<circle cx="54.4" cy="389.8" r="1.65"/>
<circle cx="95.9" cy="358.9" r="1.65"/>
<circle cx="133" cy="313.3" r="1.65"/>
<circle cx="143.7" cy="310.1" r="1.65"/>
<circle cx="101.6" cy="336.8" r="1.65"/>
<circle cx="84.6" cy="361.6" r="1.65"/>
<circle cx="63.4" cy="385.9" r="1.65"/>
<circle cx="93.7" cy="371.6" r="1.65"/>
<circle cx="180" cy="298.3" r="1.65"/>
<circle cx="250.5" cy="339.6" r="1.65"/>
<circle cx="243.3" cy="269.3" r="1.65"/>
<circle cx="62.1" cy="375.8" r="1.65"/>
<circle cx="67.3" cy="366" r="1.65"/>
<circle cx="95.2" cy="340.2" r="1.65"/>
<circle cx="123.9" cy="329" r="1.65"/>
<circle cx="57.9" cy="408.8" r="1.65"/>
<circle cx="62.7" cy="394.2" r="1.65"/>
<circle cx="196.5" cy="301.3" r="1.65"/>
<circle cx="295.2" cy="300" r="1.65"/>
<circle cx="104.7" cy="338.7" r="1.65"/>
<circle cx="183.9" cy="328.7" r="1.65"/>
<circle cx="155.2" cy="335.9" r="1.65"/>
<circle cx="175.5" cy="312.4" r="1.65"/>
<circle cx="102.3" cy="336.8" r="1.65"/>
<circle cx="248.1" cy="305.8" r="1.65"/>
<circle cx="66.8" cy="395.1" r="1.65"/>
<circle cx="83" cy="392.3" r="1.65"/>
<circle cx="139.1" cy="297.3" r="1.65"/>
<circle cx="81.1" cy="384.2" r="1.65"/>
<circle cx="202.5" cy="330.5" r="1.65"/>
<circle cx="195.1" cy="327.7" r="1.65"/>
<circle cx="182.5" cy="298.8" r="1.65"/>
<circle cx="221" cy="327.3" r="1.65"/>
<circle cx="139.1" cy="318.9" r="1.65"/>
<circle cx="73.6" cy="368.8" r="1.65"/>
<circle cx="90.3" cy="376.3" r="1.65"/>
<circle cx="51" cy="394.1" r="1.65"/>
<circle cx="98.8" cy="370.7" r="1.65"/>
<circle cx="139.1" cy="329.8" r="1.65"/>
<circle cx="153.7" cy="311.8" r="1.65"/>
<circle cx="158.6" cy="326.3" r="1.65"/>
<circle cx="82.2" cy="379.2" r="1.65"/>
<circle cx="244.9" cy="316.5" r="1.65"/>
<circle cx="121.3" cy="337.8" r="1.65"/>
<circle cx="76.4" cy="365.3" r="1.65"/>
<circle cx="252.6" cy="359.8" r="1.65"/>
<circle cx="147.5" cy="356.2" r="1.65"/>
<circle cx="150.1" cy="317" r="1.65"/>
<circle cx="133.2" cy="331.4" r="1.65"/>
<circle cx="50.3" cy="396.2" r="1.65"/>
<circle cx="122.6" cy="331.9" r="1.65"/>
<circle cx="160.7" cy="325" r="1.65"/>
<circle cx="145.9" cy="333.2" r="1.65"/>
<circle cx="77.3" cy="366.7" r="1.65"/>
<circle cx="110.1" cy="332.4" r="1.65"/>
<circle cx="161.3" cy="316.5" r="1.65"/>
<circle cx="233" cy="310" r="1.65"/>
<circle cx="78.9" cy="385.1" r="1.65"/>
<circle cx="126.4" cy="329.5" r="1.65"/>
<circle cx="60.2" cy="405" r="1.65"/>
<circle cx="72.8" cy="384.5" r="1.65"/>
<circle cx="96.7" cy="349.1" r="1.65"/>
<circle cx="53.5" cy="395" r="1.65"/>
<circle cx="93.5" cy="341.7" r="1.65"/>
<circle cx="217.4" cy="294.9" r="1.65"/>
<circle cx="87.1" cy="353.2" r="1.65"/>
<circle cx="70" cy="381.9" r="1.65"/>
<circle cx="64.5" cy="384.4" r="1.65"/>
<circle cx="122.7" cy="339.1" r="1.65"/>
<circle cx="99.7" cy="328.8" r="1.65"/>
<circle cx="137" cy="321.5" r="1.65"/>
<circle cx="99.7" cy="360.1" r="1.65"/>
<circle cx="118.4" cy="352.4" r="1.65"/>
<circle cx="100.1" cy="333.9" r="1.65"/>
<circle cx="85.5" cy="376.2" r="1.65"/>
<circle cx="52.3" cy="392" r="1.65"/>
<circle cx="84.9" cy="358.4" r="1.65"/>
<circle cx="166.8" cy="302" r="1.65"/>
<circle cx="92.3" cy="370.1" r="1.65"/>
<circle cx="176.6" cy="309.8" r="1.65"/>
<circle cx="56.9" cy="392" r="1.65"/>
<circle cx="155.5" cy="310.8" r="1.65"/>
<circle cx="196.7" cy="286.8" r="1.65"/>
<circle cx="80.5" cy="363.2" r="1.65"/>
<circle cx="96.7" cy="354.8" r="1.65"/>
<circle cx="82.7" cy="353.2" r="1.65"/>
<circle cx="104.4" cy="370.3" r="1.65"/>
<circle cx="242.4" cy="304.3" r="1.65"/>
<circle cx="153.7" cy="340.2" r="1.65"/>
<circle cx="64.5" cy="401.2" r="1.65"/>
<circle cx="295.3" cy="337.6" r="1.65"/>
<circle cx="149.3" cy="352.6" r="1.65"/>
<circle cx="191.9" cy="297.6" r="1.65"/>
<circle cx="203" cy="295.7" r="1.65"/>
<circle cx="242.6" cy="305.8" r="1.65"/>
<circle cx="178.2" cy="298.3" r="1.65"/>
<circle cx="83.4" cy="361.3" r="1.65"/>
<circle cx="168.4" cy="328.9" r="1.65"/>
<circle cx="146.6" cy="343.6" r="1.65"/>
<circle cx="101.8" cy="337.4" r="1.65"/>
<circle cx="217" cy="296" r="1.65"/>
<circle cx="52.6" cy="381.1" r="1.65"/>
<circle cx="114.7" cy="353.1" r="1.65"/>
<circle cx="224.1" cy="318" r="1.65"/>
<circle cx="119.2" cy="361.7" r="1.65"/>
<circle cx="97" cy="337.9" r="1.65"/>
<circle cx="65" cy="375.8" r="1.65"/>
<circle cx="74.5" cy="366" r="1.65"/>
<circle cx="82.8" cy="362.2" r="1.65"/>
<circle cx="292.2" cy="299.9" r="1.65"/>
<circle cx="122" cy="341.3" r="1.65"/>
<circle cx="87.7" cy="346.2" r="1.65"/>
<circle cx="225.3" cy="324.6" r="1.65"/>
<circle cx="133.8" cy="316.3" r="1.65"/>
<circle cx="86.2" cy="355.8" r="1.65"/>
<circle cx="143.2" cy="343.4" r="1.65"/>
<circle cx="54.8" cy="412.7" r="1.65"/>
<circle cx="117.5" cy="351.1" r="1.65"/>
<circle cx="118.2" cy="336.2" r="1.65"/>
<circle cx="60.2" cy="406.4" r="1.65"/>
<circle cx="144.6" cy="316.3" r="1.65"/>
<circle cx="54.4" cy="382.4" r="1.65"/>
<circle cx="74.9" cy="365.1" r="1.65"/>
<circle cx="166.6" cy="348.8" r="1.65"/>
<circle cx="99.7" cy="338.3" r="1.65"/>
<circle cx="160.4" cy="296.9" r="1.65"/>
<circle cx="120.4" cy="342.3" r="1.65"/>
<circle cx="108.5" cy="334.8" r="1.65"/>
<circle cx="130.2" cy="335.6" r="1.65"/>
<circle cx="54" cy="403.5" r="1.65"/>
<circle cx="50.7" cy="384.2" r="1.65"/>
<circle cx="253.3" cy="318.1" r="1.65"/>
<circle cx="151.9" cy="310.9" r="1.65"/>
<circle cx="73.8" cy="355" r="1.65"/>
<circle cx="152.7" cy="325.9" r="1.65"/>
<circle cx="246.2" cy="270.3" r="1.65"/>
<circle cx="201.7" cy="340.1" r="1.65"/>
<circle cx="140.4" cy="313.3" r="1.65"/>
<circle cx="118" cy="335.6" r="1.65"/>
<circle cx="136.3" cy="327.3" r="1.65"/>
<circle cx="73.6" cy="385.4" r="1.65"/>
<circle cx="105.8" cy="323.3" r="1.65"/>
<circle cx="219.8" cy="343" r="1.65"/>
<circle cx="94.6" cy="347.3" r="1.65"/>
<circle cx="83.1" cy="375.8" r="1.65"/>
<circle cx="117.3" cy="321" r="1.65"/>
<circle cx="191.5" cy="315.7" r="1.65"/>
<circle cx="222.8" cy="294.2" r="1.65"/>
<circle cx="297.5" cy="296.4" r="1.65"/>
<circle cx="270.2" cy="329.4" r="1.65"/>
<circle cx="64.9" cy="414.4" r="1.65"/>
<circle cx="107.3" cy="320.6" r="1.65"/>
<circle cx="122.7" cy="331.5" r="1.65"/>
<circle cx="148.8" cy="344.2" r="1.65"/>
<circle cx="65.4" cy="387.3" r="1.65"/>
<circle cx="94.7" cy="341.4" r="1.65"/>
<circle cx="96.3" cy="378" r="1.65"/>
<circle cx="133.1" cy="296.8" r="1.65"/>
<circle cx="95.4" cy="355.9" r="1.65"/>
<circle cx="88.7" cy="363.5" r="1.65"/>
<circle cx="74" cy="358.8" r="1.65"/>
<circle cx="145.2" cy="322.3" r="1.65"/>
<circle cx="87.9" cy="376.4" r="1.65"/>
<circle cx="76.1" cy="359.9" r="1.65"/>
<circle cx="238.1" cy="299.7" r="1.65"/>
<circle cx="97.4" cy="337.7" r="1.65"/>
<circle cx="85.2" cy="377.2" r="1.65"/>
<circle cx="62.9" cy="401.8" r="1.65"/>
<circle cx="117.1" cy="329.4" r="1.65"/>
<circle cx="91.9" cy="362" r="1.65"/>
<circle cx="128.7" cy="371.4" r="1.65"/>
<circle cx="88.2" cy="368.3" r="1.65"/>
<circle cx="109.2" cy="333.2" r="1.65"/>
<circle cx="67.4" cy="391.2" r="1.65"/>
<circle cx="59.4" cy="376.3" r="1.65"/>
<circle cx="250.4" cy="317.9" r="1.65"/>
<circle cx="164.5" cy="323.1" r="1.65"/>
<circle cx="102.1" cy="376" r="1.65"/>
<circle cx="75.5" cy="383.9" r="1.65"/>
<circle cx="145.3" cy="328.8" r="1.65"/>
<circle cx="132.2" cy="321.6" r="1.65"/>
<circle cx="135.9" cy="325.6" r="1.65"/>
<circle cx="279.8" cy="277.8" r="1.65"/>
<circle cx="93.3" cy="393.7" r="1.65"/>
<circle cx="247.6" cy="306.3" r="1.65"/>
<circle cx="104" cy="346.9" r="1.65"/>
<circle cx="277.9" cy="327.5" r="1.65"/>
<circle cx="275.9" cy="301.8" r="1.65"/>
<circle cx="101.5" cy="360.3" r="1.65"/>
<circle cx="113.8" cy="333.3" r="1.65"/>
<circle cx="229.4" cy="318.5" r="1.65"/>
<circle cx="228.2" cy="300.9" r="1.65"/>
<circle cx="63.5" cy="398.3" r="1.65"/>
<circle cx="114.7" cy="323.4" r="1.65"/>
<circle cx="63.8" cy="380.8" r="1.65"/>
<circle cx="206" cy="277" r="1.65"/>
<circle cx="83.4" cy="364.1" r="1.65"/>
<circle cx="90.4" cy="364.9" r="1.65"/>
<circle cx="89.2" cy="354.9" r="1.65"/>
<circle cx="159.8" cy="330.3" r="1.65"/>
<circle cx="89.7" cy="375.8" r="1.65"/>
<circle cx="105.1" cy="342.9" r="1.65"/>
<circle cx="218.8" cy="314.5" r="1.65"/>
<circle cx="105" cy="355.7" r="1.65"/>
<circle cx="241.6" cy="316.9" r="1.65"/>
<circle cx="241.2" cy="330.4" r="1.65"/>
<circle cx="107" cy="340.2" r="1.65"/>
<circle cx="79.2" cy="390.6" r="1.65"/>
<circle cx="253.5" cy="272.9" r="1.65"/>
<circle cx="123.7" cy="333.6" r="1.65"/>
<circle cx="93.6" cy="342.9" r="1.65"/>
<circle cx="59" cy="406.8" r="1.65"/>
<circle cx="108.5" cy="337" r="1.65"/>
<circle cx="56" cy="397.2" r="1.65"/>
<circle cx="137.2" cy="313.7" r="1.65"/>
<circle cx="98.7" cy="339.3" r="1.65"/>
<circle cx="85.9" cy="390.7" r="1.65"/>
<circle cx="77.8" cy="355.6" r="1.65"/>
<circle cx="171.5" cy="346" r="1.65"/>
<circle cx="231.6" cy="282.9" r="1.65"/>
<circle cx="52" cy="397" r="1.65"/>
<circle cx="118.8" cy="359.3" r="1.65"/>
<circle cx="61.4" cy="380.5" r="1.65"/>
<circle cx="56.1" cy="395" r="1.65"/>
<circle cx="284" cy="324.9" r="1.65"/>
<circle cx="88.5" cy="371.3" r="1.65"/>
<circle cx="119.5" cy="330" r="1.65"/>
<circle cx="233.6" cy="339.8" r="1.65"/>
<circle cx="140.5" cy="342.6" r="1.65"/>
<circle cx="92.9" cy="334.1" r="1.65"/>
<circle cx="155.1" cy="336.5" r="1.65"/>
<circle cx="180.4" cy="310.2" r="1.65"/>
<circle cx="141.3" cy="320.1" r="1.65"/>
<circle cx="97.6" cy="339.4" r="1.65"/>
<circle cx="171.1" cy="303.6" r="1.65"/>
<circle cx="95.9" cy="360.2" r="1.65"/>
<circle cx="94.5" cy="339.6" r="1.65"/>
<circle cx="84.7" cy="375.5" r="1.65"/>
<circle cx="277" cy="263.3" r="1.65"/>
<circle cx="66.3" cy="378.9" r="1.65"/>
<circle cx="58.2" cy="407.9" r="1.65"/>
<circle cx="86" cy="353.3" r="1.65"/>
<circle cx="66.8" cy="360.1" r="1.65"/>
<circle cx="95" cy="364.4" r="1.65"/>
<circle cx="253.6" cy="294.6" r="1.65"/>
<circle cx="259.4" cy="326.1" r="1.65"/>
<circle cx="78.7" cy="377" r="1.65"/>
<circle cx="86.4" cy="357.7" r="1.65"/>
<circle cx="99.7" cy="342.3" r="1.65"/>
<circle cx="260.5" cy="297" r="1.65"/>
<circle cx="82.8" cy="359.9" r="1.65"/>
<circle cx="173.4" cy="338.7" r="1.65"/>
<circle cx="139.8" cy="361.2" r="1.65"/>
<circle cx="221.6" cy="301" r="1.65"/>
<circle cx="84.2" cy="358.9" r="1.65"/>
<circle cx="247.4" cy="340.6" r="1.65"/>
<circle cx="295.2" cy="257.9" r="1.65"/>
<circle cx="98.9" cy="361.8" r="1.65"/>
<circle cx="251.9" cy="339.7" r="1.65"/>
<circle cx="163.8" cy="314.2" r="1.65"/>
<circle cx="78.5" cy="359.9" r="1.65"/>
<circle cx="105.2" cy="372.7" r="1.65"/>
<circle cx="81.3" cy="387.6" r="1.65"/>
<circle cx="233.6" cy="316" r="1.65"/>
<circle cx="78.9" cy="374" r="1.65"/>
<circle cx="220.8" cy="314.6" r="1.65"/>
<circle cx="84.2" cy="374.3" r="1.65"/>
<circle cx="227.8" cy="343.9" r="1.65"/>
<circle cx="184" cy="325" r="1.65"/>
<circle cx="164" cy="309" r="1.65"/>
<circle cx="83.3" cy="353.4" r="1.65"/>
<circle cx="159.2" cy="333.6" r="1.65"/>
<circle cx="137.2" cy="320" r="1.65"/>
<circle cx="92.6" cy="349.1" r="1.65"/>
<circle cx="286.6" cy="311" r="1.65"/>
<circle cx="265" cy="311.8" r="1.65"/>
<circle cx="143" cy="325.4" r="1.65"/>
<circle cx="236.1" cy="306" r="1.65"/>
<circle cx="91" cy="371.7" r="1.65"/>
<circle cx="72.2" cy="376.3" r="1.65"/>
<circle cx="91.1" cy="365.2" r="1.65"/>
<circle cx="125.6" cy="316" r="1.65"/>
<circle cx="233" cy="356.9" r="1.65"/>
<circle cx="202.6" cy="336.2" r="1.65"/>
<circle cx="80.2" cy="355.9" r="1.65"/>
<circle cx="193.8" cy="304.9" r="1.65"/>
<circle cx="224.3" cy="311.8" r="1.65"/>
<circle cx="128.4" cy="321" r="1.65"/>
<circle cx="113.2" cy="365" r="1.65"/>
<circle cx="109.4" cy="336.1" r="1.65"/>
<circle cx="75.3" cy="390.3" r="1.65"/>
<circle cx="82" cy="387.1" r="1.65"/>
<circle cx="115" cy="331.7" r="1.65"/>
<circle cx="115.9" cy="352.8" r="1.65"/>
<circle cx="119" cy="342.4" r="1.65"/>
<circle cx="105.9" cy="334.9" r="1.65"/>
<circle cx="207.4" cy="334.8" r="1.65"/>
<circle cx="71.9" cy="367.8" r="1.65"/>
<circle cx="73.1" cy="350.2" r="1.65"/>
<circle cx="249.7" cy="310.8" r="1.65"/>
<circle cx="128.8" cy="317.2" r="1.65"/>
<circle cx="135.3" cy="317.2" r="1.65"/>
<circle cx="109.6" cy="365.3" r="1.65"/>
<circle cx="103.3" cy="370.6" r="1.65"/>
<circle cx="93" cy="353.1" r="1.65"/>
<circle cx="119.5" cy="377.9" r="1.65"/>
<circle cx="197.4" cy="311.9" r="1.65"/>
<circle cx="57.2" cy="390.7" r="1.65"/>
<circle cx="255.9" cy="295.6" r="1.65"/>
<circle cx="74.5" cy="366.5" r="1.65"/>
<circle cx="112.3" cy="323.3" r="1.65"/>
<circle cx="197.5" cy="319.9" r="1.65"/>
<circle cx="67.9" cy="365" r="1.65"/>
<circle cx="142.4" cy="318.2" r="1.65"/>
<circle cx="132.8" cy="321.7" r="1.65"/>
<circle cx="123" cy="336.9" r="1.65"/>
<circle cx="198.8" cy="293.6" r="1.65"/>
<circle cx="67.5" cy="391.4" r="1.65"/>
<circle cx="77.9" cy="359.5" r="1.65"/>
<circle cx="238.3" cy="285.8" r="1.65"/>
<circle cx="260.3" cy="320.2" r="1.65"/>
<circle cx="66.9" cy="395.2" r="1.65"/>
<circle cx="147" cy="338.1" r="1.65"/>
<circle cx="63.7" cy="385.4" r="1.65"/>
<circle cx="251.1" cy="298.4" r="1.65"/>
<circle cx="256.6" cy="287.5" r="1.65"/>
<circle cx="152.2" cy="293.9" r="1.65"/>
<circle cx="110.8" cy="320.4" r="1.65"/>
<circle cx="142.6" cy="321.9" r="1.65"/>
<circle cx="124.1" cy="341.1" r="1.65"/>
<circle cx="196.5" cy="338.7" r="1.65"/>
<circle cx="200.1" cy="296.1" r="1.65"/>
<circle cx="212.8" cy="301.8" r="1.65"/>
<circle cx="202.3" cy="318.5" r="1.65"/>
<circle cx="77.9" cy="369.7" r="1.65"/>
<circle cx="76.3" cy="370.7" r="1.65"/>
<circle cx="153.8" cy="324.5" r="1.65"/>
<circle cx="122.5" cy="330.4" r="1.65"/>
<circle cx="273" cy="304" r="1.65"/>
<circle cx="58.7" cy="405.3" r="1.65"/>
<circle cx="100" cy="347.1" r="1.65"/>
<circle cx="215.8" cy="302.5" r="1.65"/>
<circle cx="106.3" cy="320.5" r="1.65"/>
<circle cx="68" cy="367.8" r="1.65"/>
<circle cx="90.1" cy="349.1" r="1.65"/>
<circle cx="268.6" cy="303" r="1.65"/>
<circle cx="176.4" cy="342.8" r="1.65"/>
<circle cx="202.8" cy="322.6" r="1.65"/>
<circle cx="82.3" cy="388.3" r="1.65"/>
<circle cx="187.5" cy="316.8" r="1.65"/>
<circle cx="51.2" cy="382.9" r="1.65"/>
<circle cx="77.8" cy="356.3" r="1.65"/>
<circle cx="136.9" cy="314.4" r="1.65"/>
<circle cx="144.2" cy="325.2" r="1.65"/>
<circle cx="107.2" cy="329.7" r="1.65"/>
<circle cx="266.5" cy="309.1" r="1.65"/>
<circle cx="95.5" cy="387.9" r="1.65"/>
<circle cx="83.7" cy="359.7" r="1.65"/>
<circle cx="76.1" cy="368.6" r="1.65"/>
<circle cx="168.3" cy="350.3" r="1.65"/>
<circle cx="193" cy="324.4" r="1.65"/>
<circle cx="196.4" cy="322.9" r="1.65"/>
<circle cx="136.2" cy="310.3" r="1.65"/>
<circle cx="56" cy="403.1" r="1.65"/>
<circle cx="101.4" cy="331.1" r="1.65"/>
<circle cx="71.9" cy="371.5" r="1.65"/>
<circle cx="84.9" cy="374.1" r="1.65"/>
<circle cx="55.1" cy="416.9" r="1.65"/>
<circle cx="153" cy="311.7" r="1.65"/>
<circle cx="81.2" cy="356.4" r="1.65"/>
<circle cx="124.6" cy="362.6" r="1.65"/>
<circle cx="268.6" cy="312.6" r="1.65"/>
<circle cx="79.6" cy="353.5" r="1.65"/>
<circle cx="85.2" cy="373.9" r="1.65"/>
<circle cx="81.9" cy="358.6" r="1.65"/>
<circle cx="59.9" cy="415.7" r="1.65"/>
<circle cx="125.4" cy="350.4" r="1.65"/>
<circle cx="122.7" cy="325.9" r="1.65"/>
<circle cx="131.5" cy="352.2" r="1.65"/>
<circle cx="269.2" cy="338.8" r="1.65"/>
<circle cx="127.1" cy="358.3" r="1.65"/>
<circle cx="133.7" cy="335.9" r="1.65"/>
<circle cx="227.1" cy="344.1" r="1.65"/>
<circle cx="219.1" cy="315" r="1.65"/>
<circle cx="117.8" cy="329.6" r="1.65"/>
<circle cx="132.8" cy="307" r="1.65"/>
<circle cx="95.1" cy="358.9" r="1.65"/>
<circle cx="113.6" cy="319.4" r="1.65"/>
<circle cx="111.3" cy="332.6" r="1.65"/>
<circle cx="118.9" cy="339.5" r="1.65"/>
<circle cx="79.6" cy="359.6" r="1.65"/>
<circle cx="131.8" cy="307.6" r="1.65"/>
<circle cx="85" cy="344" r="1.65"/>
<circle cx="88.1" cy="349.1" r="1.65"/>
<circle cx="87.7" cy="359.1" r="1.65"/>
<circle cx="181" cy="300.4" r="1.65"/>
<circle cx="60.4" cy="387" r="1.65"/>
<circle cx="293.9" cy="291.8" r="1.65"/>
<circle cx="71.6" cy="371.5" r="1.65"/>
<circle cx="135.4" cy="301.8" r="1.65"/>
<circle cx="79.2" cy="387.8" r="1.65"/>
<circle cx="150.6" cy="325.5" r="1.65"/>
<circle cx="210.6" cy="335.4" r="1.65"/>
<circle cx="104.1" cy="333.5" r="1.65"/>
<circle cx="109.2" cy="327.2" r="1.65"/>
<circle cx="284.5" cy="269" r="1.65"/>
<circle cx="129.5" cy="337.5" r="1.65"/>
<circle cx="95" cy="351" r="1.65"/>
<circle cx="79" cy="357.7" r="1.65"/>
<circle cx="207.1" cy="308.8" r="1.65"/>
<circle cx="154.3" cy="318.7" r="1.65"/>
<circle cx="88.2" cy="354.9" r="1.65"/>
<circle cx="115" cy="334.1" r="1.65"/>
<circle cx="68.4" cy="380.1" r="1.65"/>
<circle cx="178.3" cy="308.9" r="1.65"/>
<circle cx="232" cy="341.5" r="1.65"/>
<circle cx="162.5" cy="328.6" r="1.65"/>
<circle cx="157.8" cy="344.7" r="1.65"/>
<circle cx="67.6" cy="380.9" r="1.65"/>
<circle cx="237.9" cy="324.9" r="1.65"/>
<circle cx="130.7" cy="322.4" r="1.65"/>
<circle cx="230" cy="283.9" r="1.65"/>
<circle cx="168.2" cy="341.6" r="1.65"/>
<circle cx="226" cy="327.6" r="1.65"/>
<circle cx="189.7" cy="307.4" r="1.65"/>
<circle cx="163.5" cy="295.5" r="1.65"/>
<circle cx="131.6" cy="318.5" r="1.65"/>
<circle cx="84.4" cy="355.6" r="1.65"/>
<circle cx="81.3" cy="364" r="1.65"/>
<circle cx="240.2" cy="317.9" r="1.65"/>
<circle cx="185.7" cy="307.6" r="1.65"/>
<circle cx="81.4" cy="357.8" r="1.65"/>
<circle cx="64.5" cy="382" r="1.65"/>
<circle cx="220.1" cy="324.3" r="1.65"/>
<circle cx="52.9" cy="414.8" r="1.65"/>
<circle cx="136.6" cy="343.5" r="1.65"/>
<circle cx="156.6" cy="329.1" r="1.65"/>
<circle cx="102.9" cy="366.7" r="1.65"/>
<circle cx="239.4" cy="301.6" r="1.65"/>
<circle cx="141.4" cy="352" r="1.65"/>
<circle cx="291.7" cy="304" r="1.65"/>
<circle cx="152.2" cy="318.3" r="1.65"/>
<circle cx="123.7" cy="324.5" r="1.65"/>
<circle cx="61.6" cy="385" r="1.65"/>
<circle cx="222.5" cy="286.2" r="1.65"/>
<circle cx="66.1" cy="390.5" r="1.65"/>
<circle cx="84.1" cy="375.4" r="1.65"/>
<circle cx="141.9" cy="309.9" r="1.65"/>
<circle cx="150.4" cy="339.3" r="1.65"/>
<circle cx="246" cy="310.2" r="1.65"/>
<circle cx="258.2" cy="346.8" r="1.65"/>
<circle cx="243.7" cy="284.7" r="1.65"/>
<circle cx="182.9" cy="302" r="1.65"/>
<circle cx="97" cy="363.9" r="1.65"/>
<circle cx="161.3" cy="351" r="1.65"/>
<circle cx="70.5" cy="373" r="1.65"/>
<circle cx="137" cy="282.4" r="1.65"/>
<circle cx="148" cy="293" r="1.65"/>
<circle cx="159" cy="293" r="1.65"/>
<circle cx="96.4" cy="314.4" r="1.65"/>
<circle cx="75.6" cy="335" r="1.65"/>
<circle cx="323.5" cy="256" r="1.65"/>
<circle cx="332.8" cy="293" r="1.65"/>
<circle cx="329.8" cy="325" r="1.65"/>
<circle cx="308.5" cy="274" r="1.65"/>
<circle cx="305.5" cy="309.7" r="1.65"/>
<circle cx="300.6" cy="316" r="1.65"/>
<circle cx="302.3" cy="297.7" r="1.65"/>
<circle cx="290.3" cy="313.4" r="1.65"/>
<circle cx="290.3" cy="327.6" r="1.65"/>
<circle cx="186" cy="277.7" r="1.65"/>
<circle cx="178.7" cy="362" r="1.65"/>
<circle cx="182.5" cy="353" r="1.65"/>
<circle cx="185.5" cy="350" r="1.65"/>
<circle cx="206.2" cy="367" r="1.65"/>
<circle cx="209.4" cy="364.4" r="1.65"/>
<circle cx="215" cy="349" r="1.65"/>
<circle cx="242" cy="332.5" r="1.65"/>
<circle cx="50.2" cy="413" r="1.65"/>
<circle cx="54.6" cy="414.9" r="1.65"/>
<circle cx="62" cy="415.9" r="1.65"/>
<circle cx="61.5" cy="421.4" r="1.65"/>
<circle cx="64.6" cy="409.9" r="1.65"/>
<circle cx="72" cy="409.9" r="1.65"/>
<circle cx="70.8" cy="406.2" r="1.65"/>
<circle cx="76.4" cy="405.5" r="1.65"/>
<circle cx="83.3" cy="394.3" r="1.65"/>
<circle cx="88.9" cy="386.8" r="1.65"/>
</g>
<g fill="none" stroke="#111" stroke-width="1.35" clip-path="url(#cC)">
<path d="M55.2 374.4 L60.3 369.5 L66.8 361.8 L74.5 353.4 L80.1 346.1 L86.5 339.7 L91.9 335.6 L97.5 330.3 L100.6 326.8 L105.4 321.5 L110.3 319 L117 316.6 L121.9 314.7 L126.5 312.7 L132.7 310.3 L139.5 307.4 L151.1 303.6 L160.8 299.2 L165 297.3 L179.5 291.6 L192.4 287.1 L220 284.4 L257.4 279 L274.8 274 L289.8 267.7 L299.8 265.2" stroke-dasharray="5.2 3.7"/>
<path d="M55.4 396.4 L62.9 386.3 L71.9 374 L80.3 364.4 L91.6 354.2 L97.7 350 L103.2 345 L105.4 342.8 L112.2 338.9 L119.9 335 L125 333.6 L134.7 328.7 L144.4 325.8 L154 323.9 L165 321.5 L171 320.2 L182.1 316.8 L194.7 313 L221.8 313.2 L236.6 309.4 L256 304.8 L274.8 301 L294.8 295.7 L299.8 296"/>
<path d="M55.6 411.4 L64.2 403.1 L75.8 392.7 L82.9 386.6 L87.7 382.8 L92.1 378.4 L96.9 374.5 L101.3 370.7 L106.6 367.1 L112.4 364.8 L117.6 361.8 L123.1 359.8 L128.5 356.9 L134 354.2 L139.8 351.8 L145.3 348.9 L151.5 347.3 L158 345.2 L165.9 343.8 L177.6 343.1 L187.8 342.6 L204.4 341.4 L223.7 339.7 L243 338.8 L265 337.1 L279.8 335.3 L298.6 331.3" stroke-dasharray="1.7 2.6"/>
</g>
<path d="M39.7 423.5 h3 M39.7 399.6 h3 M39.7 375.8 h3 M39.7 351.9 h3 M39.7 328.1 h3 M39.7 304.2 h3 M39.7 280.3 h3 M39.7 256.5 h3 M43.6 427.8 v-3 M103.8 427.8 v-3 M164.1 427.8 v-3 M224.3 427.8 v-3 M284.6 427.8 v-3" stroke="#222" stroke-width="1" fill="none"/>
<rect x="38.9" y="249.7" width="305.1" height="178.9" fill="none" stroke="#1a1a1a" stroke-width="1.4"/>
<g font-family="&quot;Liberation Sans&quot;, sans-serif" font-size="11.4" fill="#111" stroke="#111" stroke-width="0.2">
<text transform="translate(35.3 428) scale(1 1.09)" text-anchor="end">4</text>
<text transform="translate(35.3 404.1) scale(1 1.09)" text-anchor="end">6</text>
<text transform="translate(35.3 380.3) scale(1 1.09)" text-anchor="end">8</text>
<text transform="translate(35.3 356.4) scale(1 1.09)" text-anchor="end">10</text>
<text transform="translate(35.3 332.6) scale(1 1.09)" text-anchor="end">12</text>
<text transform="translate(35.3 308.7) scale(1 1.09)" text-anchor="end">14</text>
<text transform="translate(35.3 284.8) scale(1 1.09)" text-anchor="end">16</text>
<text transform="translate(35.3 261) scale(1 1.09)" text-anchor="end">18</text>
<text transform="translate(43.6 443) scale(1 1.09)" text-anchor="middle">0</text>
<text transform="translate(103.8 443) scale(1 1.09)" text-anchor="middle">20</text>
<text transform="translate(164.1 443) scale(1 1.09)" text-anchor="middle">40</text>
<text transform="translate(224.3 443) scale(1 1.09)" text-anchor="middle">60</text>
<text transform="translate(284.6 443) scale(1 1.09)" text-anchor="middle">80</text>
</g>
<text transform="translate(38.7 246.6) scale(1 1.09)" font-family="&quot;Liberation Sans&quot;, sans-serif" font-size="11.5" font-weight="bold" fill="#111" stroke="#111" stroke-width="0.3">C</text>
<path d="M373.3 423.5 H678.2 M373.3 399.6 H678.2 M373.3 375.8 H678.2 M373.3 351.9 H678.2 M373.3 328.1 H678.2 M373.3 304.2 H678.2 M373.3 280.3 H678.2 M373.3 256.5 H678.2" stroke="#c4c4c4" stroke-width="1" stroke-dasharray="1.8 2.5" stroke-dashoffset="-0.2" fill="none"/>
<path d="M430.5 249.7 V428.6 M497.1 249.7 V428.6 M563.7 249.7 V428.6 M630.3 249.7 V428.6" stroke="#c4c4c4" stroke-width="1" stroke-dasharray="1.8 2.5" stroke-dashoffset="-1.75" fill="none"/>
<g fill="#bababa" clip-path="url(#cD)">
<circle cx="504.2" cy="332.6" r="1.65"/>
<circle cx="611.6" cy="275.9" r="1.65"/>
<circle cx="411.5" cy="382.6" r="1.65"/>
<circle cx="529.6" cy="319.7" r="1.65"/>
<circle cx="395.1" cy="387.5" r="1.65"/>
<circle cx="469.8" cy="356.6" r="1.65"/>
<circle cx="540.9" cy="311.5" r="1.65"/>
<circle cx="617.6" cy="323.5" r="1.65"/>
<circle cx="484.4" cy="328.5" r="1.65"/>
<circle cx="519.9" cy="357.9" r="1.65"/>
<circle cx="489.5" cy="343" r="1.65"/>
<circle cx="416.1" cy="377.1" r="1.65"/>
<circle cx="410.1" cy="386.7" r="1.65"/>
<circle cx="503.7" cy="343.6" r="1.65"/>
<circle cx="585.2" cy="289.9" r="1.65"/>
<circle cx="443.4" cy="349.4" r="1.65"/>
<circle cx="548.3" cy="316.9" r="1.65"/>
<circle cx="519.6" cy="340.4" r="1.65"/>
<circle cx="459.4" cy="363.9" r="1.65"/>
<circle cx="526.3" cy="311.1" r="1.65"/>
<circle cx="404.4" cy="372.6" r="1.65"/>
<circle cx="443.1" cy="345.9" r="1.65"/>
<circle cx="468.2" cy="337.7" r="1.65"/>
<circle cx="522.8" cy="311.1" r="1.65"/>
<circle cx="398.1" cy="393.8" r="1.65"/>
<circle cx="399.5" cy="394.8" r="1.65"/>
<circle cx="604.2" cy="315.7" r="1.65"/>
<circle cx="498.1" cy="335.1" r="1.65"/>
<circle cx="592.8" cy="307.2" r="1.65"/>
<circle cx="649.2" cy="284.1" r="1.65"/>
<circle cx="425.7" cy="384.9" r="1.65"/>
<circle cx="467.5" cy="347.5" r="1.65"/>
<circle cx="637.2" cy="281.4" r="1.65"/>
<circle cx="390.3" cy="391.5" r="1.65"/>
<circle cx="633.6" cy="290.8" r="1.65"/>
<circle cx="655.9" cy="288.1" r="1.65"/>
<circle cx="550.2" cy="305.5" r="1.65"/>
<circle cx="469.8" cy="350.5" r="1.65"/>
<circle cx="530.9" cy="316.8" r="1.65"/>
<circle cx="394.1" cy="393.9" r="1.65"/>
<circle cx="462.4" cy="348.5" r="1.65"/>
<circle cx="398" cy="374.9" r="1.65"/>
<circle cx="477.4" cy="348.3" r="1.65"/>
<circle cx="532.5" cy="320.4" r="1.65"/>
<circle cx="393.8" cy="388.6" r="1.65"/>
<circle cx="592.4" cy="296.3" r="1.65"/>
<circle cx="409.9" cy="383" r="1.65"/>
<circle cx="439.5" cy="358.9" r="1.65"/>
<circle cx="469.8" cy="373.4" r="1.65"/>
<circle cx="414.7" cy="381.6" r="1.65"/>
<circle cx="548.4" cy="307.5" r="1.65"/>
<circle cx="531.6" cy="316.1" r="1.65"/>
<circle cx="511" cy="349.9" r="1.65"/>
<circle cx="477.7" cy="355.6" r="1.65"/>
<circle cx="512.3" cy="326" r="1.65"/>
<circle cx="467.1" cy="345.6" r="1.65"/>
<circle cx="528.3" cy="319.9" r="1.65"/>
<circle cx="592.2" cy="303.6" r="1.65"/>
<circle cx="555" cy="315.4" r="1.65"/>
<circle cx="465.3" cy="338.9" r="1.65"/>
<circle cx="589" cy="320.2" r="1.65"/>
<circle cx="454.5" cy="374" r="1.65"/>
<circle cx="531.5" cy="311.7" r="1.65"/>
<circle cx="546.2" cy="333.4" r="1.65"/>
<circle cx="474.1" cy="338.5" r="1.65"/>
<circle cx="580.7" cy="319.3" r="1.65"/>
<circle cx="627.4" cy="308.5" r="1.65"/>
<circle cx="416.4" cy="358.4" r="1.65"/>
<circle cx="400.3" cy="387.8" r="1.65"/>
<circle cx="450.8" cy="375.9" r="1.65"/>
<circle cx="395.6" cy="391.8" r="1.65"/>
<circle cx="637.6" cy="291.7" r="1.65"/>
<circle cx="446" cy="364.1" r="1.65"/>
<circle cx="423.6" cy="372" r="1.65"/>
<circle cx="510.2" cy="354" r="1.65"/>
<circle cx="617" cy="300.4" r="1.65"/>
<circle cx="584.6" cy="300.9" r="1.65"/>
<circle cx="585.5" cy="298.3" r="1.65"/>
<circle cx="431.8" cy="368.6" r="1.65"/>
<circle cx="445.8" cy="371.2" r="1.65"/>
<circle cx="409.7" cy="402.1" r="1.65"/>
<circle cx="536.1" cy="304.2" r="1.65"/>
<circle cx="463.2" cy="366.8" r="1.65"/>
<circle cx="527.7" cy="334.7" r="1.65"/>
<circle cx="397.3" cy="388.8" r="1.65"/>
<circle cx="546.9" cy="313.7" r="1.65"/>
<circle cx="418.1" cy="377.6" r="1.65"/>
<circle cx="638.2" cy="300.6" r="1.65"/>
<circle cx="445.9" cy="362.3" r="1.65"/>
<circle cx="489.6" cy="316.8" r="1.65"/>
<circle cx="568.6" cy="316.3" r="1.65"/>
<circle cx="520.4" cy="320.6" r="1.65"/>
<circle cx="408.1" cy="400.4" r="1.65"/>
<circle cx="603.7" cy="298.1" r="1.65"/>
<circle cx="545.1" cy="310.6" r="1.65"/>
<circle cx="549.8" cy="324.2" r="1.65"/>
<circle cx="494.3" cy="317.3" r="1.65"/>
<circle cx="425.2" cy="361" r="1.65"/>
<circle cx="525.9" cy="319" r="1.65"/>
<circle cx="454.2" cy="364.6" r="1.65"/>
<circle cx="572.1" cy="300.3" r="1.65"/>
<circle cx="457.7" cy="361.3" r="1.65"/>
<circle cx="529.4" cy="357.6" r="1.65"/>
<circle cx="500.6" cy="345.8" r="1.65"/>
<circle cx="423.1" cy="352.7" r="1.65"/>
<circle cx="532.3" cy="315.8" r="1.65"/>
<circle cx="624.9" cy="284.5" r="1.65"/>
<circle cx="403.5" cy="382.9" r="1.65"/>
<circle cx="510.6" cy="313.1" r="1.65"/>
<circle cx="524.1" cy="349.3" r="1.65"/>
<circle cx="573.8" cy="280.6" r="1.65"/>
<circle cx="455.7" cy="343.4" r="1.65"/>
<circle cx="571.1" cy="307.8" r="1.65"/>
<circle cx="546.6" cy="325.8" r="1.65"/>
<circle cx="430.4" cy="388.9" r="1.65"/>
<circle cx="548" cy="326.8" r="1.65"/>
<circle cx="481.5" cy="344.3" r="1.65"/>
<circle cx="433.1" cy="378.4" r="1.65"/>
<circle cx="440.8" cy="346.4" r="1.65"/>
<circle cx="458.9" cy="342" r="1.65"/>
<circle cx="546.1" cy="324.9" r="1.65"/>
<circle cx="422.9" cy="361.5" r="1.65"/>
<circle cx="523" cy="328.3" r="1.65"/>
<circle cx="567.1" cy="308.7" r="1.65"/>
<circle cx="495.7" cy="342.4" r="1.65"/>
<circle cx="597" cy="325.6" r="1.65"/>
<circle cx="541.2" cy="324.1" r="1.65"/>
<circle cx="495.2" cy="324.8" r="1.65"/>
<circle cx="623.1" cy="283.3" r="1.65"/>
<circle cx="502.6" cy="365.7" r="1.65"/>
<circle cx="422" cy="383.9" r="1.65"/>
<circle cx="435.1" cy="368.6" r="1.65"/>
<circle cx="569.2" cy="325.3" r="1.65"/>
<circle cx="578.9" cy="319.6" r="1.65"/>
<circle cx="470.7" cy="351.1" r="1.65"/>
<circle cx="464" cy="353.4" r="1.65"/>
<circle cx="433.4" cy="353.5" r="1.65"/>
<circle cx="576.3" cy="337.2" r="1.65"/>
<circle cx="637.3" cy="279" r="1.65"/>
<circle cx="609.7" cy="301.8" r="1.65"/>
<circle cx="480.4" cy="336.5" r="1.65"/>
<circle cx="591.4" cy="310" r="1.65"/>
<circle cx="432.8" cy="387.7" r="1.65"/>
<circle cx="406" cy="367.9" r="1.65"/>
<circle cx="504.8" cy="341.5" r="1.65"/>
<circle cx="460.9" cy="356.1" r="1.65"/>
<circle cx="488" cy="324" r="1.65"/>
<circle cx="406.3" cy="385.6" r="1.65"/>
<circle cx="427.2" cy="359.2" r="1.65"/>
<circle cx="489.6" cy="322.9" r="1.65"/>
<circle cx="493.3" cy="345" r="1.65"/>
<circle cx="540.2" cy="294.4" r="1.65"/>
<circle cx="545.9" cy="302.2" r="1.65"/>
<circle cx="468.9" cy="351.5" r="1.65"/>
<circle cx="482.1" cy="339.3" r="1.65"/>
<circle cx="448.5" cy="368.3" r="1.65"/>
<circle cx="423.5" cy="369.7" r="1.65"/>
<circle cx="472.2" cy="337.1" r="1.65"/>
<circle cx="509.2" cy="320.1" r="1.65"/>
<circle cx="651.1" cy="282.2" r="1.65"/>
<circle cx="546.2" cy="328.6" r="1.65"/>
<circle cx="565.7" cy="323.7" r="1.65"/>
<circle cx="569.7" cy="327.4" r="1.65"/>
<circle cx="606.8" cy="303.3" r="1.65"/>
<circle cx="600.8" cy="293.9" r="1.65"/>
<circle cx="427.7" cy="377.4" r="1.65"/>
<circle cx="455.7" cy="364.3" r="1.65"/>
<circle cx="445.5" cy="373.8" r="1.65"/>
<circle cx="563.3" cy="305.2" r="1.65"/>
<circle cx="489.3" cy="341.9" r="1.65"/>
<circle cx="612.1" cy="321.3" r="1.65"/>
<circle cx="507.4" cy="319.7" r="1.65"/>
<circle cx="396.1" cy="374.4" r="1.65"/>
<circle cx="440.7" cy="364" r="1.65"/>
<circle cx="472.5" cy="351.4" r="1.65"/>
<circle cx="419.1" cy="376.7" r="1.65"/>
<circle cx="504.9" cy="350.7" r="1.65"/>
<circle cx="400.6" cy="372.9" r="1.65"/>
<circle cx="440.9" cy="346" r="1.65"/>
<circle cx="391.5" cy="377.1" r="1.65"/>
<circle cx="416.2" cy="374.9" r="1.65"/>
<circle cx="538.1" cy="319.2" r="1.65"/>
<circle cx="492.6" cy="330.9" r="1.65"/>
<circle cx="618.8" cy="277.1" r="1.65"/>
<circle cx="418.8" cy="385.4" r="1.65"/>
<circle cx="430.3" cy="370.3" r="1.65"/>
<circle cx="403.7" cy="391.6" r="1.65"/>
<circle cx="432.1" cy="381.7" r="1.65"/>
<circle cx="451.1" cy="354.3" r="1.65"/>
<circle cx="477.8" cy="331.7" r="1.65"/>
<circle cx="442" cy="375.4" r="1.65"/>
<circle cx="426.3" cy="358.4" r="1.65"/>
<circle cx="468" cy="341.4" r="1.65"/>
<circle cx="401.4" cy="379.9" r="1.65"/>
<circle cx="569.2" cy="290.9" r="1.65"/>
<circle cx="506.8" cy="344.8" r="1.65"/>
<circle cx="493.9" cy="319.3" r="1.65"/>
<circle cx="485.1" cy="345.4" r="1.65"/>
<circle cx="503.6" cy="327.1" r="1.65"/>
<circle cx="644.4" cy="307.8" r="1.65"/>
<circle cx="468.5" cy="337.8" r="1.65"/>
<circle cx="506.3" cy="331.6" r="1.65"/>
<circle cx="434.1" cy="373.9" r="1.65"/>
<circle cx="470.9" cy="361.5" r="1.65"/>
<circle cx="411.1" cy="378.3" r="1.65"/>
<circle cx="582.1" cy="288.4" r="1.65"/>
<circle cx="531.7" cy="317.6" r="1.65"/>
<circle cx="553.8" cy="322.9" r="1.65"/>
<circle cx="552.1" cy="330.9" r="1.65"/>
<circle cx="419.1" cy="388" r="1.65"/>
<circle cx="521.3" cy="333.9" r="1.65"/>
<circle cx="421.7" cy="390.3" r="1.65"/>
<circle cx="517.4" cy="336" r="1.65"/>
<circle cx="419.2" cy="362.6" r="1.65"/>
<circle cx="423.9" cy="374.4" r="1.65"/>
<circle cx="417.1" cy="379.3" r="1.65"/>
<circle cx="499.7" cy="342.8" r="1.65"/>
<circle cx="415.9" cy="369.1" r="1.65"/>
<circle cx="464.8" cy="343.7" r="1.65"/>
<circle cx="476.9" cy="329.1" r="1.65"/>
<circle cx="637.9" cy="298.6" r="1.65"/>
<circle cx="557" cy="335.1" r="1.65"/>
<circle cx="510" cy="343" r="1.65"/>
<circle cx="544.5" cy="342" r="1.65"/>
<circle cx="391.4" cy="392.5" r="1.65"/>
<circle cx="465.6" cy="356.3" r="1.65"/>
<circle cx="449.5" cy="369.8" r="1.65"/>
<circle cx="527.2" cy="327.2" r="1.65"/>
<circle cx="418.3" cy="364.4" r="1.65"/>
<circle cx="611.9" cy="289.8" r="1.65"/>
<circle cx="456.8" cy="363.4" r="1.65"/>
<circle cx="584.8" cy="306.4" r="1.65"/>
<circle cx="577.1" cy="304.7" r="1.65"/>
<circle cx="485.2" cy="333.5" r="1.65"/>
<circle cx="388.7" cy="395.3" r="1.65"/>
<circle cx="416.2" cy="392.2" r="1.65"/>
<circle cx="469.2" cy="344.7" r="1.65"/>
<circle cx="545.9" cy="337.1" r="1.65"/>
<circle cx="487.2" cy="344.9" r="1.65"/>
<circle cx="608.5" cy="303" r="1.65"/>
<circle cx="596.2" cy="291.6" r="1.65"/>
<circle cx="457.2" cy="361.3" r="1.65"/>
<circle cx="639.6" cy="286.8" r="1.65"/>
<circle cx="497.8" cy="338" r="1.65"/>
<circle cx="406.6" cy="389" r="1.65"/>
<circle cx="398.2" cy="376.3" r="1.65"/>
<circle cx="465.6" cy="356.8" r="1.65"/>
<circle cx="474.9" cy="340.5" r="1.65"/>
<circle cx="428.4" cy="367.6" r="1.65"/>
<circle cx="594.1" cy="332.3" r="1.65"/>
<circle cx="453.9" cy="377.4" r="1.65"/>
<circle cx="554.9" cy="312.8" r="1.65"/>
<circle cx="435.7" cy="364" r="1.65"/>
<circle cx="478.7" cy="351.2" r="1.65"/>
<circle cx="468.5" cy="356.1" r="1.65"/>
<circle cx="553.3" cy="323.2" r="1.65"/>
<circle cx="465.1" cy="359.2" r="1.65"/>
<circle cx="436.7" cy="367.2" r="1.65"/>
<circle cx="573.4" cy="311.5" r="1.65"/>
<circle cx="524.7" cy="343.5" r="1.65"/>
<circle cx="426.3" cy="352.7" r="1.65"/>
<circle cx="439.8" cy="351.9" r="1.65"/>
<circle cx="412" cy="384.8" r="1.65"/>
<circle cx="572.1" cy="277.6" r="1.65"/>
<circle cx="475.7" cy="331.8" r="1.65"/>
<circle cx="571.3" cy="293" r="1.65"/>
<circle cx="509.7" cy="342.7" r="1.65"/>
<circle cx="560.7" cy="320.4" r="1.65"/>
<circle cx="550.5" cy="345.7" r="1.65"/>
<circle cx="485" cy="346.6" r="1.65"/>
<circle cx="443.4" cy="350.4" r="1.65"/>
<circle cx="470" cy="353.7" r="1.65"/>
<circle cx="498.5" cy="359" r="1.65"/>
<circle cx="649.4" cy="270.7" r="1.65"/>
<circle cx="449.4" cy="335.1" r="1.65"/>
<circle cx="545.3" cy="299.3" r="1.65"/>
<circle cx="443.4" cy="380.3" r="1.65"/>
<circle cx="520.6" cy="318.1" r="1.65"/>
<circle cx="545.1" cy="334.7" r="1.65"/>
<circle cx="388.1" cy="393.6" r="1.65"/>
<circle cx="543.5" cy="311.2" r="1.65"/>
<circle cx="583.3" cy="285.6" r="1.65"/>
<circle cx="595.8" cy="312.7" r="1.65"/>
<circle cx="585.1" cy="312.2" r="1.65"/>
<circle cx="468.3" cy="366" r="1.65"/>
<circle cx="421.7" cy="375" r="1.65"/>
<circle cx="460.3" cy="365.9" r="1.65"/>
<circle cx="587.3" cy="313.7" r="1.65"/>
<circle cx="530.7" cy="315.2" r="1.65"/>
<circle cx="493" cy="336.6" r="1.65"/>
<circle cx="389.8" cy="390.8" r="1.65"/>
<circle cx="406.2" cy="380" r="1.65"/>
<circle cx="503.5" cy="324.6" r="1.65"/>
<circle cx="584.1" cy="287.5" r="1.65"/>
<circle cx="515.6" cy="351.7" r="1.65"/>
<circle cx="464.1" cy="372.4" r="1.65"/>
<circle cx="389.8" cy="385.1" r="1.65"/>
<circle cx="434.4" cy="358.6" r="1.65"/>
<circle cx="516.8" cy="312.9" r="1.65"/>
<circle cx="450.6" cy="349.1" r="1.65"/>
<circle cx="499.7" cy="315.6" r="1.65"/>
<circle cx="399" cy="380.7" r="1.65"/>
<circle cx="500.3" cy="346.7" r="1.65"/>
<circle cx="483.9" cy="330.3" r="1.65"/>
<circle cx="394.4" cy="398" r="1.65"/>
<circle cx="568.4" cy="323.6" r="1.65"/>
<circle cx="558.8" cy="309.5" r="1.65"/>
<circle cx="415.4" cy="381.3" r="1.65"/>
<circle cx="519.2" cy="317.3" r="1.65"/>
<circle cx="580.1" cy="314.3" r="1.65"/>
<circle cx="494.6" cy="316.9" r="1.65"/>
<circle cx="549.6" cy="336.3" r="1.65"/>
<circle cx="417" cy="368.7" r="1.65"/>
<circle cx="403.5" cy="389.6" r="1.65"/>
<circle cx="439.3" cy="346.5" r="1.65"/>
<circle cx="553.3" cy="327.2" r="1.65"/>
<circle cx="449.9" cy="349.6" r="1.65"/>
<circle cx="575.5" cy="321.8" r="1.65"/>
<circle cx="405.1" cy="361.9" r="1.65"/>
<circle cx="488.3" cy="336.6" r="1.65"/>
<circle cx="479.1" cy="342.3" r="1.65"/>
<circle cx="565.7" cy="299.6" r="1.65"/>
<circle cx="529.3" cy="345.2" r="1.65"/>
<circle cx="547.1" cy="320.7" r="1.65"/>
<circle cx="514.9" cy="338.2" r="1.65"/>
<circle cx="423.9" cy="363.6" r="1.65"/>
<circle cx="551.7" cy="329.9" r="1.65"/>
<circle cx="541.3" cy="348.8" r="1.65"/>
<circle cx="544.1" cy="347" r="1.65"/>
<circle cx="483.8" cy="333.8" r="1.65"/>
<circle cx="476.6" cy="342.2" r="1.65"/>
<circle cx="421.8" cy="362.4" r="1.65"/>
<circle cx="566.8" cy="339.1" r="1.65"/>
<circle cx="478.9" cy="356" r="1.65"/>
<circle cx="616.6" cy="303.8" r="1.65"/>
<circle cx="446.5" cy="350.1" r="1.65"/>
<circle cx="488.6" cy="333.7" r="1.65"/>
<circle cx="462.3" cy="354.3" r="1.65"/>
<circle cx="515" cy="348.6" r="1.65"/>
<circle cx="623.4" cy="291.5" r="1.65"/>
<circle cx="436.7" cy="371.6" r="1.65"/>
<circle cx="469" cy="338.4" r="1.65"/>
<circle cx="451.2" cy="336.6" r="1.65"/>
<circle cx="411.1" cy="379.2" r="1.65"/>
<circle cx="398" cy="398.2" r="1.65"/>
<circle cx="643.4" cy="280.9" r="1.65"/>
<circle cx="458.1" cy="348" r="1.65"/>
<circle cx="538.2" cy="320.6" r="1.65"/>
<circle cx="557.7" cy="313" r="1.65"/>
<circle cx="522.6" cy="325.9" r="1.65"/>
<circle cx="445.2" cy="358.2" r="1.65"/>
<circle cx="529.5" cy="352.2" r="1.65"/>
<circle cx="601.8" cy="311.4" r="1.65"/>
<circle cx="483.4" cy="342.2" r="1.65"/>
<circle cx="591.1" cy="302.3" r="1.65"/>
<circle cx="580.8" cy="304.8" r="1.65"/>
<circle cx="554.6" cy="310.3" r="1.65"/>
<circle cx="535.6" cy="355.5" r="1.65"/>
<circle cx="619" cy="309" r="1.65"/>
<circle cx="492.2" cy="346.3" r="1.65"/>
<circle cx="601.3" cy="299.2" r="1.65"/>
<circle cx="409.7" cy="383.4" r="1.65"/>
<circle cx="538.6" cy="295.4" r="1.65"/>
<circle cx="416.1" cy="382" r="1.65"/>
<circle cx="466" cy="353.1" r="1.65"/>
<circle cx="510" cy="360.7" r="1.65"/>
<circle cx="534.7" cy="299.3" r="1.65"/>
<circle cx="532.3" cy="322.9" r="1.65"/>
<circle cx="428.1" cy="372.3" r="1.65"/>
<circle cx="409.9" cy="387.9" r="1.65"/>
<circle cx="420.9" cy="373.9" r="1.65"/>
<circle cx="517.5" cy="335" r="1.65"/>
<circle cx="428.1" cy="354" r="1.65"/>
<circle cx="600" cy="313.4" r="1.65"/>
<circle cx="531.6" cy="332" r="1.65"/>
<circle cx="452.4" cy="363.9" r="1.65"/>
<circle cx="520.2" cy="320.6" r="1.65"/>
<circle cx="406.5" cy="378.8" r="1.65"/>
<circle cx="514.4" cy="318.1" r="1.65"/>
<circle cx="423.3" cy="365.9" r="1.65"/>
<circle cx="520.6" cy="320.7" r="1.65"/>
<circle cx="447.9" cy="359.2" r="1.65"/>
<circle cx="503.2" cy="323.2" r="1.65"/>
<circle cx="537" cy="315.9" r="1.65"/>
<circle cx="436.2" cy="362" r="1.65"/>
<circle cx="403.1" cy="400.3" r="1.65"/>
<circle cx="420.8" cy="379.6" r="1.65"/>
<circle cx="573.4" cy="321.3" r="1.65"/>
<circle cx="615.2" cy="322.8" r="1.65"/>
<circle cx="508.2" cy="317" r="1.65"/>
<circle cx="408.9" cy="362.5" r="1.65"/>
<circle cx="513" cy="317.5" r="1.65"/>
<circle cx="459.7" cy="346.6" r="1.65"/>
<circle cx="426.9" cy="350.7" r="1.65"/>
<circle cx="547.9" cy="347.9" r="1.65"/>
<circle cx="582.1" cy="288.8" r="1.65"/>
<circle cx="498.9" cy="363.6" r="1.65"/>
<circle cx="507.6" cy="329.6" r="1.65"/>
<circle cx="612.7" cy="295.7" r="1.65"/>
<circle cx="388.8" cy="384.7" r="1.65"/>
<circle cx="579.3" cy="298.4" r="1.65"/>
<circle cx="605.1" cy="291.3" r="1.65"/>
<circle cx="576.8" cy="320.4" r="1.65"/>
<circle cx="502.7" cy="346.3" r="1.65"/>
<circle cx="590.9" cy="317.3" r="1.65"/>
<circle cx="491.3" cy="335.6" r="1.65"/>
<circle cx="465.5" cy="354.8" r="1.65"/>
<circle cx="491.6" cy="360.2" r="1.65"/>
<circle cx="399.7" cy="373.8" r="1.65"/>
<circle cx="396.5" cy="399" r="1.65"/>
<circle cx="495.8" cy="342.1" r="1.65"/>
<circle cx="511.1" cy="344.8" r="1.65"/>
<circle cx="405.6" cy="391.1" r="1.65"/>
<circle cx="552.4" cy="309.1" r="1.65"/>
<circle cx="422.4" cy="381.1" r="1.65"/>
<circle cx="434.9" cy="382.8" r="1.65"/>
<circle cx="487.1" cy="348.7" r="1.65"/>
<circle cx="555.4" cy="334" r="1.65"/>
<circle cx="489.6" cy="360.3" r="1.65"/>
<circle cx="594.2" cy="291.7" r="1.65"/>
<circle cx="550.9" cy="301.6" r="1.65"/>
<circle cx="505" cy="360.8" r="1.65"/>
<circle cx="583.4" cy="284.7" r="1.65"/>
<circle cx="461.4" cy="331.3" r="1.65"/>
<circle cx="508.8" cy="358.2" r="1.65"/>
<circle cx="523.3" cy="321.8" r="1.65"/>
<circle cx="410.3" cy="384.1" r="1.65"/>
<circle cx="444.8" cy="351.3" r="1.65"/>
<circle cx="633.3" cy="284.2" r="1.65"/>
<circle cx="453.2" cy="361.7" r="1.65"/>
<circle cx="597.5" cy="296.4" r="1.65"/>
<circle cx="401.4" cy="374.1" r="1.65"/>
<circle cx="442.1" cy="364" r="1.65"/>
<circle cx="438.6" cy="365.4" r="1.65"/>
<circle cx="388.6" cy="383.6" r="1.65"/>
<circle cx="542.4" cy="305.3" r="1.65"/>
<circle cx="438.9" cy="355.2" r="1.65"/>
<circle cx="510.1" cy="345.8" r="1.65"/>
<circle cx="411.4" cy="371.4" r="1.65"/>
<circle cx="507.5" cy="346.4" r="1.65"/>
<circle cx="491" cy="329.3" r="1.65"/>
<circle cx="486.1" cy="342.2" r="1.65"/>
<circle cx="559.3" cy="318.1" r="1.65"/>
<circle cx="462.2" cy="350.6" r="1.65"/>
<circle cx="540.2" cy="349.7" r="1.65"/>
<circle cx="564.3" cy="318.7" r="1.65"/>
<circle cx="440.9" cy="377.4" r="1.65"/>
<circle cx="451.5" cy="346.7" r="1.65"/>
<circle cx="516.1" cy="314.4" r="1.65"/>
<circle cx="428.8" cy="385.5" r="1.65"/>
<circle cx="389.5" cy="410.7" r="1.65"/>
<circle cx="515.1" cy="326.6" r="1.65"/>
<circle cx="537.4" cy="332.7" r="1.65"/>
<circle cx="413.7" cy="389.2" r="1.65"/>
<circle cx="506.8" cy="307.4" r="1.65"/>
<circle cx="486.8" cy="345.3" r="1.65"/>
<circle cx="494.1" cy="350.8" r="1.65"/>
<circle cx="608.2" cy="302.8" r="1.65"/>
<circle cx="399.7" cy="383.2" r="1.65"/>
<circle cx="429.2" cy="348.7" r="1.65"/>
<circle cx="408.5" cy="378.2" r="1.65"/>
<circle cx="517.7" cy="352.2" r="1.65"/>
<circle cx="581" cy="315.6" r="1.65"/>
<circle cx="499.8" cy="314.2" r="1.65"/>
<circle cx="397" cy="404.2" r="1.65"/>
<circle cx="492.6" cy="337.1" r="1.65"/>
<circle cx="414.3" cy="363.7" r="1.65"/>
<circle cx="409.4" cy="378.2" r="1.65"/>
<circle cx="452.8" cy="360" r="1.65"/>
<circle cx="577.7" cy="323.1" r="1.65"/>
<circle cx="535.5" cy="321" r="1.65"/>
<circle cx="635.6" cy="284.4" r="1.65"/>
<circle cx="488.3" cy="336.2" r="1.65"/>
<circle cx="429.5" cy="356.2" r="1.65"/>
<circle cx="464.6" cy="348.4" r="1.65"/>
<circle cx="408.9" cy="364.8" r="1.65"/>
<circle cx="472" cy="345.2" r="1.65"/>
<circle cx="514" cy="319.3" r="1.65"/>
<circle cx="526.1" cy="332" r="1.65"/>
<circle cx="625.2" cy="275.2" r="1.65"/>
<circle cx="467.6" cy="334.9" r="1.65"/>
<circle cx="409.6" cy="372.4" r="1.65"/>
<circle cx="581.5" cy="323.2" r="1.65"/>
<circle cx="427.3" cy="368.9" r="1.65"/>
<circle cx="457" cy="359.5" r="1.65"/>
<circle cx="421" cy="372.7" r="1.65"/>
<circle cx="538.9" cy="337.1" r="1.65"/>
<circle cx="588" cy="303.1" r="1.65"/>
<circle cx="434.4" cy="358.5" r="1.65"/>
<circle cx="508.8" cy="311.4" r="1.65"/>
<circle cx="395.1" cy="389.4" r="1.65"/>
<circle cx="532.9" cy="351.9" r="1.65"/>
<circle cx="421.3" cy="376.5" r="1.65"/>
<circle cx="454.6" cy="345.3" r="1.65"/>
<circle cx="503.1" cy="321.1" r="1.65"/>
<circle cx="484" cy="339.5" r="1.65"/>
<circle cx="555.3" cy="327.4" r="1.65"/>
<circle cx="397.3" cy="394.6" r="1.65"/>
<circle cx="434.3" cy="369.1" r="1.65"/>
<circle cx="432" cy="367.6" r="1.65"/>
<circle cx="469.5" cy="341.2" r="1.65"/>
<circle cx="577.2" cy="306.9" r="1.65"/>
<circle cx="621.7" cy="273.1" r="1.65"/>
<circle cx="621" cy="292.5" r="1.65"/>
<circle cx="429.5" cy="363.3" r="1.65"/>
<circle cx="433.2" cy="353.8" r="1.65"/>
<circle cx="449.6" cy="347.1" r="1.65"/>
<circle cx="511.1" cy="342.5" r="1.65"/>
<circle cx="572.6" cy="336.7" r="1.65"/>
<circle cx="493.7" cy="354.7" r="1.65"/>
<circle cx="398.3" cy="382.5" r="1.65"/>
<circle cx="532.1" cy="316.2" r="1.65"/>
<circle cx="517.7" cy="324.2" r="1.65"/>
<circle cx="467.5" cy="340" r="1.65"/>
<circle cx="499.5" cy="319.8" r="1.65"/>
<circle cx="440.2" cy="372.7" r="1.65"/>
<circle cx="452.1" cy="348" r="1.65"/>
<circle cx="510.4" cy="333.4" r="1.65"/>
<circle cx="466.1" cy="346.7" r="1.65"/>
<circle cx="460.5" cy="370.7" r="1.65"/>
<circle cx="421.1" cy="374.3" r="1.65"/>
<circle cx="586" cy="318.4" r="1.65"/>
<circle cx="495.5" cy="335.9" r="1.65"/>
<circle cx="581.9" cy="312" r="1.65"/>
<circle cx="511.7" cy="307" r="1.65"/>
<circle cx="406.6" cy="391.4" r="1.65"/>
<circle cx="398" cy="383.3" r="1.65"/>
<circle cx="427.4" cy="375.3" r="1.65"/>
<circle cx="465.9" cy="331.7" r="1.65"/>
<circle cx="426.6" cy="356.6" r="1.65"/>
<circle cx="462" cy="371.5" r="1.65"/>
<circle cx="600.2" cy="315.7" r="1.65"/>
<circle cx="393" cy="386.5" r="1.65"/>
<circle cx="406.9" cy="388.9" r="1.65"/>
<circle cx="539.5" cy="315.2" r="1.65"/>
<circle cx="544.3" cy="318.5" r="1.65"/>
<circle cx="443.6" cy="374.5" r="1.65"/>
<circle cx="406.9" cy="385.8" r="1.65"/>
<circle cx="459.7" cy="347.5" r="1.65"/>
<circle cx="535.2" cy="323.8" r="1.65"/>
<circle cx="447.4" cy="358.2" r="1.65"/>
<circle cx="493.4" cy="331.7" r="1.65"/>
<circle cx="479.1" cy="344.4" r="1.65"/>
<circle cx="591.7" cy="286.1" r="1.65"/>
<circle cx="517" cy="352" r="1.65"/>
<circle cx="461.2" cy="346.8" r="1.65"/>
<circle cx="470.7" cy="354" r="1.65"/>
<circle cx="417.4" cy="371.6" r="1.65"/>
<circle cx="561.2" cy="301.3" r="1.65"/>
<circle cx="430.4" cy="360.6" r="1.65"/>
<circle cx="415" cy="369.4" r="1.65"/>
<circle cx="457.1" cy="345.4" r="1.65"/>
<circle cx="527.8" cy="318.4" r="1.65"/>
<circle cx="497.6" cy="337.2" r="1.65"/>
<circle cx="390.8" cy="381" r="1.65"/>
<circle cx="509.3" cy="319.9" r="1.65"/>
<circle cx="546.5" cy="306.8" r="1.65"/>
<circle cx="544.4" cy="315.7" r="1.65"/>
<circle cx="433.3" cy="364" r="1.65"/>
<circle cx="407" cy="402.4" r="1.65"/>
<circle cx="466.6" cy="360.1" r="1.65"/>
<circle cx="434.5" cy="369.4" r="1.65"/>
<circle cx="617.7" cy="284.4" r="1.65"/>
<circle cx="532.2" cy="308.2" r="1.65"/>
<circle cx="453.4" cy="354.9" r="1.65"/>
<circle cx="569.3" cy="329.7" r="1.65"/>
<circle cx="513.4" cy="323.9" r="1.65"/>
<circle cx="399.2" cy="373.3" r="1.65"/>
<circle cx="435.7" cy="356.3" r="1.65"/>
<circle cx="443.7" cy="370.1" r="1.65"/>
<circle cx="599.9" cy="317.3" r="1.65"/>
<circle cx="522.3" cy="343.4" r="1.65"/>
<circle cx="430" cy="380.9" r="1.65"/>
<circle cx="576.4" cy="293.4" r="1.65"/>
<circle cx="469.6" cy="344.2" r="1.65"/>
<circle cx="641.9" cy="267" r="1.65"/>
<circle cx="503.2" cy="315.4" r="1.65"/>
<circle cx="391.7" cy="376.7" r="1.65"/>
<circle cx="472.6" cy="355.4" r="1.65"/>
<circle cx="529.5" cy="316.2" r="1.65"/>
<circle cx="478.6" cy="338.2" r="1.65"/>
<circle cx="527" cy="351" r="1.65"/>
<circle cx="410.9" cy="393.7" r="1.65"/>
<circle cx="392.5" cy="397.2" r="1.65"/>
<circle cx="410.8" cy="364" r="1.65"/>
<circle cx="521.9" cy="334.2" r="1.65"/>
<circle cx="436.6" cy="381.2" r="1.65"/>
<circle cx="567.3" cy="310.7" r="1.65"/>
<circle cx="559.8" cy="305.7" r="1.65"/>
<circle cx="418.1" cy="389.9" r="1.65"/>
<circle cx="403.1" cy="358.8" r="1.65"/>
<circle cx="528.8" cy="338.5" r="1.65"/>
<circle cx="536.3" cy="308.5" r="1.65"/>
<circle cx="589.5" cy="295.5" r="1.65"/>
<circle cx="462" cy="361.5" r="1.65"/>
<circle cx="395.7" cy="390.3" r="1.65"/>
<circle cx="550.3" cy="317.6" r="1.65"/>
<circle cx="512.9" cy="336.5" r="1.65"/>
<circle cx="616.4" cy="287.6" r="1.65"/>
<circle cx="452.8" cy="356.5" r="1.65"/>
<circle cx="391" cy="406.3" r="1.65"/>
<circle cx="402.7" cy="384" r="1.65"/>
<circle cx="588.6" cy="322.9" r="1.65"/>
<circle cx="462.7" cy="354.7" r="1.65"/>
<circle cx="406.7" cy="379.9" r="1.65"/>
<circle cx="396.2" cy="390" r="1.65"/>
<circle cx="522.1" cy="314.7" r="1.65"/>
<circle cx="464.1" cy="351.9" r="1.65"/>
<circle cx="546.9" cy="328.1" r="1.65"/>
<circle cx="515.1" cy="310.2" r="1.65"/>
<circle cx="438.4" cy="355.5" r="1.65"/>
<circle cx="515.2" cy="331.6" r="1.65"/>
<circle cx="470.9" cy="347" r="1.65"/>
<circle cx="529.6" cy="332.1" r="1.65"/>
<circle cx="441.4" cy="362.6" r="1.65"/>
<circle cx="452.7" cy="369.1" r="1.65"/>
<circle cx="426.1" cy="347.2" r="1.65"/>
<circle cx="419.1" cy="360.5" r="1.65"/>
<circle cx="472.5" cy="377.3" r="1.65"/>
<circle cx="516.4" cy="347" r="1.65"/>
<circle cx="510.3" cy="331.5" r="1.65"/>
<circle cx="430.3" cy="376.6" r="1.65"/>
<circle cx="469.6" cy="376.9" r="1.65"/>
<circle cx="479.3" cy="335.5" r="1.65"/>
<circle cx="435.8" cy="379.7" r="1.65"/>
<circle cx="518" cy="320.3" r="1.65"/>
<circle cx="460.2" cy="347.8" r="1.65"/>
<circle cx="411.9" cy="360.2" r="1.65"/>
<circle cx="532.6" cy="340" r="1.65"/>
<circle cx="426.9" cy="346" r="1.65"/>
<circle cx="462.5" cy="367.9" r="1.65"/>
<circle cx="554.6" cy="294.8" r="1.65"/>
<circle cx="417.8" cy="363.3" r="1.65"/>
<circle cx="502.5" cy="328.3" r="1.65"/>
<circle cx="511.3" cy="351.3" r="1.65"/>
<circle cx="446.2" cy="340.4" r="1.65"/>
<circle cx="415" cy="368" r="1.65"/>
<circle cx="472.8" cy="369.2" r="1.65"/>
<circle cx="438.7" cy="372.5" r="1.65"/>
<circle cx="468.7" cy="360" r="1.65"/>
<circle cx="420.4" cy="365" r="1.65"/>
<circle cx="471.9" cy="345.2" r="1.65"/>
<circle cx="601.7" cy="296.8" r="1.65"/>
<circle cx="390.7" cy="396.4" r="1.65"/>
<circle cx="507.3" cy="321.2" r="1.65"/>
<circle cx="475.3" cy="352.9" r="1.65"/>
<circle cx="575.8" cy="333.9" r="1.65"/>
<circle cx="553.7" cy="309.2" r="1.65"/>
<circle cx="482.2" cy="350.1" r="1.65"/>
<circle cx="443.3" cy="382.2" r="1.65"/>
<circle cx="611.2" cy="310.6" r="1.65"/>
<circle cx="568.3" cy="318.4" r="1.65"/>
<circle cx="588" cy="295.8" r="1.65"/>
<circle cx="409.2" cy="403.4" r="1.65"/>
<circle cx="470.6" cy="352.9" r="1.65"/>
<circle cx="485.4" cy="332" r="1.65"/>
<circle cx="451" cy="352.3" r="1.65"/>
<circle cx="436.8" cy="355.1" r="1.65"/>
<circle cx="457.1" cy="330.9" r="1.65"/>
<circle cx="426.5" cy="380.5" r="1.65"/>
<circle cx="617.5" cy="304" r="1.65"/>
<circle cx="594.5" cy="289.1" r="1.65"/>
<circle cx="518.1" cy="309" r="1.65"/>
<circle cx="507.4" cy="327.5" r="1.65"/>
<circle cx="640.8" cy="291.6" r="1.65"/>
<circle cx="491.7" cy="353.3" r="1.65"/>
<circle cx="552" cy="308" r="1.65"/>
<circle cx="397.2" cy="383.1" r="1.65"/>
<circle cx="476.8" cy="358.7" r="1.65"/>
<circle cx="430.6" cy="374.8" r="1.65"/>
<circle cx="409" cy="391.4" r="1.65"/>
<circle cx="574.9" cy="299.8" r="1.65"/>
<circle cx="544.2" cy="321.8" r="1.65"/>
<circle cx="463" cy="336.6" r="1.65"/>
<circle cx="416.7" cy="359.5" r="1.65"/>
<circle cx="561.8" cy="308.5" r="1.65"/>
<circle cx="462.4" cy="337.4" r="1.65"/>
<circle cx="557.3" cy="299.5" r="1.65"/>
<circle cx="514.6" cy="311.5" r="1.65"/>
<circle cx="541.6" cy="328.3" r="1.65"/>
<circle cx="512.8" cy="322.1" r="1.65"/>
<circle cx="619.9" cy="274.5" r="1.65"/>
<circle cx="440.3" cy="354.7" r="1.65"/>
<circle cx="584.4" cy="312" r="1.65"/>
<circle cx="518.8" cy="324.3" r="1.65"/>
<circle cx="535.4" cy="328.5" r="1.65"/>
<circle cx="635" cy="297.2" r="1.65"/>
<circle cx="397.5" cy="374.4" r="1.65"/>
<circle cx="445.8" cy="364.6" r="1.65"/>
<circle cx="542.5" cy="346.9" r="1.65"/>
<circle cx="559.3" cy="340.4" r="1.65"/>
<circle cx="442.1" cy="362" r="1.65"/>
<circle cx="486.1" cy="347.4" r="1.65"/>
<circle cx="580.2" cy="284.8" r="1.65"/>
<circle cx="627.7" cy="299.3" r="1.65"/>
<circle cx="626.3" cy="311.2" r="1.65"/>
<circle cx="434.1" cy="375.1" r="1.65"/>
<circle cx="467.9" cy="364.4" r="1.65"/>
<circle cx="477.9" cy="330" r="1.65"/>
<circle cx="488.9" cy="348.3" r="1.65"/>
<circle cx="580.4" cy="284.2" r="1.65"/>
<circle cx="488.8" cy="331.3" r="1.65"/>
<circle cx="450.8" cy="331.8" r="1.65"/>
<circle cx="520.5" cy="327.8" r="1.65"/>
<circle cx="559.2" cy="301.1" r="1.65"/>
<circle cx="514.7" cy="367.8" r="1.65"/>
<circle cx="604.5" cy="305.4" r="1.65"/>
<circle cx="632.5" cy="299.6" r="1.65"/>
<circle cx="548.2" cy="301.1" r="1.65"/>
<circle cx="589.8" cy="305.2" r="1.65"/>
<circle cx="409.5" cy="371.3" r="1.65"/>
<circle cx="509.2" cy="343.1" r="1.65"/>
<circle cx="394.9" cy="400.3" r="1.65"/>
<circle cx="446.2" cy="360.8" r="1.65"/>
<circle cx="522.9" cy="309.7" r="1.65"/>
<circle cx="533.3" cy="323" r="1.65"/>
<circle cx="570.8" cy="284.9" r="1.65"/>
<circle cx="573.7" cy="313.9" r="1.65"/>
<circle cx="446.4" cy="363.9" r="1.65"/>
<circle cx="480.4" cy="346" r="1.65"/>
<circle cx="554.5" cy="319.3" r="1.65"/>
<circle cx="434" cy="374.1" r="1.65"/>
<circle cx="587.1" cy="307.8" r="1.65"/>
<circle cx="396.9" cy="395.1" r="1.65"/>
<circle cx="467.4" cy="361.7" r="1.65"/>
<circle cx="399.4" cy="364.5" r="1.65"/>
<circle cx="448.5" cy="347.3" r="1.65"/>
<circle cx="574.8" cy="313" r="1.65"/>
<circle cx="634.7" cy="296.8" r="1.65"/>
<circle cx="477.1" cy="364.8" r="1.65"/>
<circle cx="439.5" cy="355.5" r="1.65"/>
<circle cx="456.7" cy="362.3" r="1.65"/>
<circle cx="574" cy="277.8" r="1.65"/>
<circle cx="431" cy="386.7" r="1.65"/>
<circle cx="553.8" cy="310.4" r="1.65"/>
<circle cx="454" cy="340.4" r="1.65"/>
<circle cx="442" cy="368.3" r="1.65"/>
<circle cx="592.8" cy="275.9" r="1.65"/>
<circle cx="436.2" cy="351.5" r="1.65"/>
<circle cx="610.4" cy="285.4" r="1.65"/>
<circle cx="480.5" cy="353.1" r="1.65"/>
<circle cx="648.5" cy="274.7" r="1.65"/>
<circle cx="544.1" cy="304.5" r="1.65"/>
<circle cx="572.7" cy="306.6" r="1.65"/>
<circle cx="501.1" cy="313.6" r="1.65"/>
<circle cx="625.3" cy="288.1" r="1.65"/>
<circle cx="540.1" cy="359.9" r="1.65"/>
<circle cx="479.3" cy="338" r="1.65"/>
<circle cx="402.9" cy="359.4" r="1.65"/>
<circle cx="430.3" cy="375" r="1.65"/>
<circle cx="582.3" cy="294.6" r="1.65"/>
<circle cx="610.7" cy="305.4" r="1.65"/>
<circle cx="396.8" cy="387.1" r="1.65"/>
<circle cx="474" cy="369.3" r="1.65"/>
<circle cx="481.3" cy="344.6" r="1.65"/>
<circle cx="424.5" cy="377.8" r="1.65"/>
<circle cx="397.4" cy="404.3" r="1.65"/>
<circle cx="580.9" cy="295.6" r="1.65"/>
<circle cx="571.3" cy="303.7" r="1.65"/>
<circle cx="588.6" cy="317.3" r="1.65"/>
<circle cx="451.6" cy="382" r="1.65"/>
<circle cx="589.5" cy="295.7" r="1.65"/>
<circle cx="628.1" cy="297.5" r="1.65"/>
<circle cx="561.4" cy="301.8" r="1.65"/>
<circle cx="461.2" cy="338.1" r="1.65"/>
<circle cx="466.9" cy="352.9" r="1.65"/>
<circle cx="492.1" cy="338.7" r="1.65"/>
<circle cx="599.4" cy="291.1" r="1.65"/>
<circle cx="491.9" cy="339.3" r="1.65"/>
<circle cx="477.2" cy="371.1" r="1.65"/>
<circle cx="403.9" cy="375.5" r="1.65"/>
<circle cx="457.1" cy="350.4" r="1.65"/>
<circle cx="434.5" cy="373.2" r="1.65"/>
<circle cx="486.5" cy="333.3" r="1.65"/>
<circle cx="487.1" cy="344" r="1.65"/>
<circle cx="431.2" cy="373.3" r="1.65"/>
<circle cx="409.2" cy="370.6" r="1.65"/>
<circle cx="520.9" cy="353" r="1.65"/>
<circle cx="440.6" cy="382.2" r="1.65"/>
<circle cx="527.8" cy="327.9" r="1.65"/>
<circle cx="506.4" cy="357.6" r="1.65"/>
<circle cx="583.6" cy="294.1" r="1.65"/>
<circle cx="444.8" cy="370.3" r="1.65"/>
<circle cx="626.3" cy="317.5" r="1.65"/>
<circle cx="575.9" cy="315.8" r="1.65"/>
<circle cx="490.9" cy="370.1" r="1.65"/>
<circle cx="461.6" cy="336.1" r="1.65"/>
<circle cx="434.1" cy="368" r="1.65"/>
<circle cx="506.4" cy="324.3" r="1.65"/>
<circle cx="429.1" cy="363.1" r="1.65"/>
<circle cx="463" cy="349.1" r="1.65"/>
<circle cx="404.3" cy="394.6" r="1.65"/>
<circle cx="528.8" cy="314.9" r="1.65"/>
<circle cx="513.7" cy="335.8" r="1.65"/>
<circle cx="531.6" cy="338" r="1.65"/>
<circle cx="575.3" cy="342.9" r="1.65"/>
<circle cx="502.4" cy="319.5" r="1.65"/>
<circle cx="466.3" cy="352.8" r="1.65"/>
<circle cx="442.5" cy="367.7" r="1.65"/>
<circle cx="496.4" cy="363.1" r="1.65"/>
<circle cx="479.3" cy="332.7" r="1.65"/>
<circle cx="479.6" cy="344.3" r="1.65"/>
<circle cx="445.7" cy="348.1" r="1.65"/>
<circle cx="431.6" cy="369.5" r="1.65"/>
<circle cx="560.9" cy="328.7" r="1.65"/>
<circle cx="628.5" cy="285.9" r="1.65"/>
<circle cx="528.9" cy="353.8" r="1.65"/>
<circle cx="514.2" cy="359.3" r="1.65"/>
<circle cx="426.4" cy="372.7" r="1.65"/>
<circle cx="481" cy="334" r="1.65"/>
<circle cx="610.1" cy="285.1" r="1.65"/>
<circle cx="620.3" cy="295.6" r="1.65"/>
<circle cx="406.6" cy="384.3" r="1.65"/>
<circle cx="574.7" cy="306.3" r="1.65"/>
<circle cx="435.6" cy="369.1" r="1.65"/>
<circle cx="612.1" cy="304.6" r="1.65"/>
<circle cx="437.4" cy="359.1" r="1.65"/>
<circle cx="554.7" cy="325.1" r="1.65"/>
<circle cx="618" cy="298.2" r="1.65"/>
<circle cx="400.5" cy="369.7" r="1.65"/>
<circle cx="391.8" cy="388.1" r="1.65"/>
<circle cx="499" cy="341.4" r="1.65"/>
<circle cx="478.1" cy="335.9" r="1.65"/>
<circle cx="610.3" cy="299.8" r="1.65"/>
<circle cx="450.6" cy="349.9" r="1.65"/>
<circle cx="394" cy="397.7" r="1.65"/>
<circle cx="583.6" cy="319" r="1.65"/>
<circle cx="513.6" cy="357.1" r="1.65"/>
<circle cx="495" cy="323.4" r="1.65"/>
<circle cx="520.2" cy="310.7" r="1.65"/>
<circle cx="595.5" cy="287.6" r="1.65"/>
<circle cx="444.6" cy="357.2" r="1.65"/>
<circle cx="666.5" cy="325" r="1.65"/>
<circle cx="656.3" cy="293" r="1.65"/>
<circle cx="635.3" cy="268" r="1.65"/>
<circle cx="638.4" cy="274" r="1.65"/>
<circle cx="616" cy="274" r="1.65"/>
<circle cx="520.8" cy="282.2" r="1.65"/>
<circle cx="559.4" cy="277" r="1.65"/>
<circle cx="428" cy="335" r="1.65"/>
<circle cx="468" cy="314.6" r="1.65"/>
<circle cx="473" cy="315" r="1.65"/>
<circle cx="478.6" cy="315" r="1.65"/>
<circle cx="461" cy="321.4" r="1.65"/>
<circle cx="497.4" cy="310" r="1.65"/>
<circle cx="548.4" cy="362" r="1.65"/>
<circle cx="570" cy="367" r="1.65"/>
<circle cx="573.5" cy="364.3" r="1.65"/>
<circle cx="564.5" cy="349.8" r="1.65"/>
<circle cx="570" cy="349" r="1.65"/>
<circle cx="540.8" cy="344" r="1.65"/>
<circle cx="606" cy="337.8" r="1.65"/>
<circle cx="588" cy="338.3" r="1.65"/>
<circle cx="384.2" cy="413.4" r="1.65"/>
<circle cx="393.4" cy="414.8" r="1.65"/>
<circle cx="407.7" cy="410" r="1.65"/>
<circle cx="406.7" cy="415.9" r="1.65"/>
<circle cx="404.1" cy="421.8" r="1.65"/>
<circle cx="417.4" cy="410" r="1.65"/>
<circle cx="420" cy="407" r="1.65"/>
<circle cx="421.5" cy="406.5" r="1.65"/>
<circle cx="429.2" cy="405.4" r="1.65"/>
<circle cx="441" cy="394.4" r="1.65"/>
<circle cx="426.1" cy="397.3" r="1.65"/>
<circle cx="391.4" cy="407" r="1.65"/>
<circle cx="389.3" cy="408.7" r="1.65"/>
<circle cx="395.5" cy="408.5" r="1.65"/>
</g>
<g fill="none" stroke="#111" stroke-width="1.35" clip-path="url(#cD)">
<path d="M390.7 365.6 L657 246.3" stroke-dasharray="5.2 3.7"/>
<path d="M390.7 392.2 L470 347.7 L495 335.1 L528 325.5 L557 315.8 L600 301.3 L655.7 282.6"/>
<path d="M390.7 407.4 L470 377.6 L543.4 348.4 L598.4 326.1 L653.5 304.9" stroke-dasharray="1.7 2.6"/>
</g>
<path d="M374.1 423.5 h3 M374.1 399.6 h3 M374.1 375.8 h3 M374.1 351.9 h3 M374.1 328.1 h3 M374.1 304.2 h3 M374.1 280.3 h3 M374.1 256.5 h3 M430.5 427.8 v-3 M497.1 427.8 v-3 M563.7 427.8 v-3 M630.3 427.8 v-3" stroke="#222" stroke-width="1" fill="none"/>
<rect x="373.3" y="249.7" width="304.9" height="178.9" fill="none" stroke="#1a1a1a" stroke-width="1.4"/>
<g font-family="&quot;Liberation Sans&quot;, sans-serif" font-size="11.4" fill="#111" stroke="#111" stroke-width="0.2">
<text transform="translate(369.7 428) scale(1 1.09)" text-anchor="end">4</text>
<text transform="translate(369.7 404.1) scale(1 1.09)" text-anchor="end">6</text>
<text transform="translate(369.7 380.3) scale(1 1.09)" text-anchor="end">8</text>
<text transform="translate(369.7 356.4) scale(1 1.09)" text-anchor="end">10</text>
<text transform="translate(369.7 332.6) scale(1 1.09)" text-anchor="end">12</text>
<text transform="translate(369.7 308.7) scale(1 1.09)" text-anchor="end">14</text>
<text transform="translate(369.7 284.8) scale(1 1.09)" text-anchor="end">16</text>
<text transform="translate(369.7 261) scale(1 1.09)" text-anchor="end">18</text>
<text transform="translate(430.5 443) scale(1 1.09)" text-anchor="middle">0.5</text>
<text transform="translate(497.1 443) scale(1 1.09)" text-anchor="middle">1.0</text>
<text transform="translate(563.7 443) scale(1 1.09)" text-anchor="middle">1.5</text>
<text transform="translate(630.3 443) scale(1 1.09)" text-anchor="middle">2.0</text>
</g>
<text transform="translate(373.1 246.6) scale(1 1.09)" font-family="&quot;Liberation Sans&quot;, sans-serif" font-size="11.5" font-weight="bold" fill="#111" stroke="#111" stroke-width="0.3">D</text>
<g font-family="&quot;Liberation Sans&quot;, sans-serif" font-size="11.8" fill="#111" stroke="#111" stroke-width="0.2" text-anchor="middle">
<text transform="translate(191.4 224) scale(1 1.09)">Age (years)</text>
<text transform="translate(525.7 224) scale(1 1.09)">Height (cm)</text>
<text transform="translate(191.4 461.2) scale(1 1.09)">Weight (kg)</text>
<text transform="translate(525.7 458.4) scale(1 1.09)">Body surface area (m<tspan font-size="7.5" dy="-4.5">2</tspan><tspan dy="4.5">)</tspan></text>
<text transform="translate(10.5 226.5) rotate(-90) scale(1 1.09)">Right liver lobe diameter (cm)</text>
</g>
<rect x="228.8" y="376.8" width="115.2" height="51.8" fill="#fff" stroke="#1a1a1a" stroke-width="1.2"/>
<g fill="none" stroke="#111" stroke-width="1.2">
<path d="M237.8 389.8 H258.4" stroke-dasharray="5.2 3.7"/>
<path d="M237.8 402.6 H258.4"/>
<path d="M237.8 415.6 H258.4" stroke-dasharray="1.7 2.6"/>
</g>
<g font-family="&quot;Liberation Sans&quot;, sans-serif" font-size="11" fill="#1a1a1a" stroke="#1a1a1a" stroke-width="0.08">
<text transform="translate(267.6 394.2) scale(1 1.09)">95th percentile</text>
<text transform="translate(267.6 407) scale(1 1.09)">median</text>
<text transform="translate(267.6 420.3) scale(1 1.09)">5th percentile</text>
</g>
</svg>
</body></html>
